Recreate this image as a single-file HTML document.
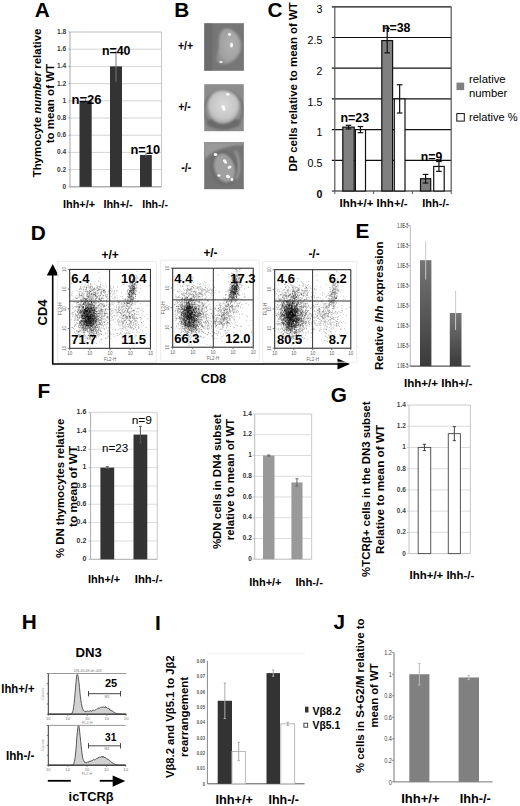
<!DOCTYPE html>
<html><head><meta charset="utf-8"><style>
html,body{margin:0;padding:0;background:#fff;}
svg{display:block;}
text{font-family:"Liberation Sans", sans-serif;}
</style></head><body>
<svg width="520" height="806" viewBox="0 0 520 806" font-family='"Liberation Sans", sans-serif'>
<rect width="520" height="806" fill="#fff"/>
<text x="34.8" y="16.8" font-size="20.8" font-weight="bold" >A</text>
<line x1="70" y1="32.0" x2="161.5" y2="32.0" stroke="#d4d4d4" stroke-width="1.5" />
<line x1="70" y1="49.2" x2="161.5" y2="49.2" stroke="#d4d4d4" stroke-width="1" />
<line x1="70" y1="66.4" x2="161.5" y2="66.4" stroke="#d4d4d4" stroke-width="1" />
<line x1="70" y1="83.60000000000001" x2="161.5" y2="83.60000000000001" stroke="#d4d4d4" stroke-width="1" />
<line x1="70" y1="100.80000000000001" x2="161.5" y2="100.80000000000001" stroke="#d4d4d4" stroke-width="1" />
<line x1="70" y1="118.00000000000001" x2="161.5" y2="118.00000000000001" stroke="#d4d4d4" stroke-width="1" />
<line x1="70" y1="135.20000000000002" x2="161.5" y2="135.20000000000002" stroke="#d4d4d4" stroke-width="1" />
<line x1="70" y1="152.40000000000003" x2="161.5" y2="152.40000000000003" stroke="#d4d4d4" stroke-width="1" />
<line x1="70" y1="169.60000000000002" x2="161.5" y2="169.60000000000002" stroke="#d4d4d4" stroke-width="1" />
<line x1="70" y1="186.8" x2="161.5" y2="186.8" stroke="#d4d4d4" stroke-width="1" />
<line x1="70" y1="32" x2="70" y2="186.8" stroke="#a8a8a8" stroke-width="1" />
<line x1="161.5" y1="32" x2="161.5" y2="186.8" stroke="#c8c8c8" stroke-width="1" />
<line x1="70" y1="186.8" x2="161.5" y2="186.8" stroke="#999" stroke-width="1" />
<text x="66.2" y="34.0" font-size="6.6" font-weight="bold" text-anchor="end" fill="#3a3a3a" >1.8</text>
<line x1="68.5" y1="32.0" x2="70" y2="32.0" stroke="#999" stroke-width="1" />
<text x="66.2" y="51.2" font-size="6.6" font-weight="bold" text-anchor="end" fill="#3a3a3a" >1.6</text>
<line x1="68.5" y1="49.2" x2="70" y2="49.2" stroke="#999" stroke-width="1" />
<text x="66.2" y="68.4" font-size="6.6" font-weight="bold" text-anchor="end" fill="#3a3a3a" >1.4</text>
<line x1="68.5" y1="66.4" x2="70" y2="66.4" stroke="#999" stroke-width="1" />
<text x="66.2" y="85.6" font-size="6.6" font-weight="bold" text-anchor="end" fill="#3a3a3a" >1.2</text>
<line x1="68.5" y1="83.60000000000001" x2="70" y2="83.60000000000001" stroke="#999" stroke-width="1" />
<text x="66.2" y="102.8" font-size="6.6" font-weight="bold" text-anchor="end" fill="#3a3a3a" >1</text>
<line x1="68.5" y1="100.80000000000001" x2="70" y2="100.80000000000001" stroke="#999" stroke-width="1" />
<text x="66.2" y="120.0" font-size="6.6" font-weight="bold" text-anchor="end" fill="#3a3a3a" >0.8</text>
<line x1="68.5" y1="118.00000000000001" x2="70" y2="118.00000000000001" stroke="#999" stroke-width="1" />
<text x="66.2" y="137.2" font-size="6.6" font-weight="bold" text-anchor="end" fill="#3a3a3a" >0.6</text>
<line x1="68.5" y1="135.20000000000002" x2="70" y2="135.20000000000002" stroke="#999" stroke-width="1" />
<text x="66.2" y="154.4" font-size="6.6" font-weight="bold" text-anchor="end" fill="#3a3a3a" >0.4</text>
<line x1="68.5" y1="152.40000000000003" x2="70" y2="152.40000000000003" stroke="#999" stroke-width="1" />
<text x="66.2" y="171.6" font-size="6.6" font-weight="bold" text-anchor="end" fill="#3a3a3a" >0.2</text>
<line x1="68.5" y1="169.60000000000002" x2="70" y2="169.60000000000002" stroke="#999" stroke-width="1" />
<text x="66.2" y="188.8" font-size="6.6" font-weight="bold" text-anchor="end" fill="#3a3a3a" >0</text>
<line x1="68.5" y1="186.8" x2="70" y2="186.8" stroke="#999" stroke-width="1" />
<rect x="79.5" y="100.80000000000001" width="12.200000000000003" height="86.0" fill="#333" />
<line x1="85.6" y1="99.08000000000001" x2="85.6" y2="102.52000000000001" stroke="#777" stroke-width="1" />
<rect x="110" y="66.40000000000002" width="12" height="120.39999999999999" fill="#333" />
<line x1="116.0" y1="50.92000000000002" x2="116.0" y2="81.88000000000002" stroke="#777" stroke-width="1" />
<rect x="140" y="154.98000000000002" width="11.800000000000011" height="31.819999999999993" fill="#333" />
<line x1="145.9" y1="153.26000000000002" x2="145.9" y2="156.70000000000002" stroke="#777" stroke-width="1" />
<text x="71.5" y="103.5" font-size="13.5" font-weight="bold" textLength="30" lengthAdjust="spacingAndGlyphs" >n=26</text>
<text x="102" y="54.5" font-size="13.5" font-weight="bold" textLength="28.5" lengthAdjust="spacingAndGlyphs" >n=40</text>
<text x="130.5" y="153.8" font-size="13.5" font-weight="bold" textLength="29.5" lengthAdjust="spacingAndGlyphs" >n=10</text>
<text x="63.0" y="207.8" font-size="11.6" font-weight="bold" textLength="32.1" lengthAdjust="spacingAndGlyphs" >Ihh+/+</text>
<text x="103.4" y="207.8" font-size="11.6" font-weight="bold" textLength="29.3" lengthAdjust="spacingAndGlyphs" >Ihh+/-</text>
<text x="142.2" y="207.8" font-size="11.6" font-weight="bold" textLength="25.9" lengthAdjust="spacingAndGlyphs" >Ihh-/-</text>
<text transform="translate(40.7,103) rotate(-90)" font-size="11.6" font-weight="bold" text-anchor="middle" textLength="148.7" lengthAdjust="spacingAndGlyphs" >Thymocyte <tspan font-style="italic">number</tspan> relative</text>
<text transform="translate(54.2,103.6) rotate(-90)" font-size="11.6" font-weight="bold" text-anchor="middle" textLength="79.4" lengthAdjust="spacingAndGlyphs" >to mean of WT</text>
<text x="174.2" y="17" font-size="20.8" font-weight="bold" >B</text>
<text x="177.95" y="50.2" font-size="12.5" font-weight="bold" textLength="15.25" lengthAdjust="spacingAndGlyphs" >+/+</text>
<text x="178.2" y="111.2" font-size="12.5" font-weight="bold" textLength="12.6" lengthAdjust="spacingAndGlyphs" >+/-</text>
<text x="181.2" y="172.1" font-size="12.5" font-weight="bold" textLength="10.2" lengthAdjust="spacingAndGlyphs" >-/-</text>
<defs><filter id="bl" x="-20%" y="-20%" width="140%" height="140%"><feGaussianBlur stdDeviation="0.9"/></filter><filter id="bl2" x="-50%" y="-50%" width="200%" height="200%"><feGaussianBlur stdDeviation="0.6"/></filter><radialGradient id="bg1" cx="0.6" cy="0.45" r="0.6"><stop offset="0" stop-color="#b0b0b0"/><stop offset="0.8" stop-color="#a0a0a0"/><stop offset="1" stop-color="#909090"/></radialGradient><radialGradient id="bg2" cx="0.5" cy="0.45" r="0.55"><stop offset="0" stop-color="#dadada"/><stop offset="0.75" stop-color="#c6c6c6"/><stop offset="1" stop-color="#a8a8a8"/></radialGradient><radialGradient id="bg3" cx="0.5" cy="0.5" r="0.55"><stop offset="0" stop-color="#9a9a9a"/><stop offset="1" stop-color="#8a8a8a"/></radialGradient><linearGradient id="eg" x1="0" y1="0" x2="0" y2="1"><stop offset="0" stop-color="#757575"/><stop offset="1" stop-color="#3a3a3a"/></linearGradient></defs>
<defs><clipPath id="cp1"><rect x="204.2" y="23.2" width="39.7" height="47.6"/></clipPath><clipPath id="cp2"><rect x="204.2" y="84.2" width="39.6" height="47"/></clipPath><clipPath id="cp3"><rect x="204.2" y="142.2" width="39.6" height="47"/></clipPath></defs>
<rect x="204.2" y="23.2" width="39.7" height="47.6" fill="#767676" />
<g clip-path="url(#cp1)"><g filter="url(#bl)">
<rect x="204.2" y="23.2" width="8" height="47.6" fill="#6c6c6c" />
<path d="M226 28.5 C 233 28, 241 36, 241 46 C 241 55, 234 62, 226 64 C 220 65.5, 215.5 62, 216.5 57 C 217.5 52, 219.5 48, 219 43 C 218.5 36, 220 29, 226 28.5 Z" fill="url(#bg1)"/>
</g><g filter="url(#bl2)" fill="#f4f4f4">
<ellipse cx="229.5" cy="34.5" rx="1.6" ry="1.4"/><ellipse cx="231.5" cy="45" rx="1.5" ry="2.6"/><ellipse cx="221" cy="62" rx="1.7" ry="1.1"/>
</g></g>
<rect x="204.2" y="84.2" width="39.6" height="47" fill="#8c8c8c" />
<g clip-path="url(#cp2)"><g filter="url(#bl)">
<ellipse cx="223.5" cy="110" rx="19.5" ry="19" fill="none" stroke="#707070" stroke-width="2.2"/>
<ellipse cx="223.5" cy="123" rx="17" ry="6" fill="#6a6a6a"/>
<path d="M223 90.6 C 232 90.6, 239.7 97, 239.5 105 C 239.3 115, 233 123.4, 223 123.4 C 213 123.4, 207.8 115, 207.8 106 C 207.8 96, 214 90.6, 223 90.6 Z" fill="url(#bg2)"/>
</g><g filter="url(#bl2)" fill="#fafafa">
<ellipse cx="227.8" cy="94.4" rx="1.8" ry="1.3"/><ellipse cx="223.5" cy="108" rx="1.7" ry="3" transform="rotate(-20 223.5 108)"/>
</g></g>
<rect x="204.2" y="142.2" width="39.6" height="47" fill="#747474" />
<g clip-path="url(#cp3)"><g filter="url(#bl)">
<path d="M204.2 142.2 L243.8 142.2 L243.8 145 C 230 145, 214 149, 206 158 L204.2 160 Z" fill="#9a9a9a"/>
<ellipse cx="224.5" cy="168" rx="14" ry="18" fill="#6c6c6c" transform="rotate(-18 224.5 168)"/>
<path d="M235 151 C 240 157, 240.5 171, 236 179" stroke="#a8a8a8" stroke-width="1.6" fill="none"/>
<ellipse cx="224.5" cy="168" rx="10" ry="14.5" fill="#a0a0a0" transform="rotate(-18 224.5 168)"/>
</g><g filter="url(#bl2)" fill="#f6f6f6">
<ellipse cx="215.5" cy="154.5" rx="1.8" ry="1.6" transform="rotate(0 215.5 154.5)"/>
<ellipse cx="225" cy="161.5" rx="1.5" ry="2.6" transform="rotate(-40 225 161.5)"/>
<ellipse cx="229.5" cy="167.2" rx="2.1" ry="1.4" transform="rotate(-30 229.5 167.2)"/>
<ellipse cx="219" cy="175.5" rx="1.5" ry="1.2" transform="rotate(0 219 175.5)"/>
<ellipse cx="228" cy="176.5" rx="2.2" ry="1.5" transform="rotate(20 228 176.5)"/>
<ellipse cx="232" cy="179.5" rx="1.4" ry="1.7" transform="rotate(0 232 179.5)"/>
</g></g>
<text x="267.6" y="17" font-size="20.8" font-weight="bold" >C</text>
<line x1="331.8" y1="6.8" x2="451.2" y2="6.8" stroke="#111" stroke-width="1.2" />
<line x1="331.8" y1="37.5" x2="451.2" y2="37.5" stroke="#111" stroke-width="1.2" />
<line x1="331.8" y1="68.2" x2="451.2" y2="68.2" stroke="#111" stroke-width="1.2" />
<line x1="331.8" y1="98.89999999999999" x2="451.2" y2="98.89999999999999" stroke="#111" stroke-width="1.2" />
<line x1="331.8" y1="129.6" x2="451.2" y2="129.6" stroke="#111" stroke-width="1.2" />
<line x1="331.8" y1="160.3" x2="451.2" y2="160.3" stroke="#111" stroke-width="1.2" />
<line x1="331.8" y1="191.0" x2="451.2" y2="191.0" stroke="#111" stroke-width="1.2" />
<line x1="334.8" y1="6.8" x2="334.8" y2="191" stroke="#555" stroke-width="1.2" />
<line x1="451.2" y1="6.8" x2="451.2" y2="191" stroke="#555" stroke-width="1.2" />
<text x="322.3" y="13.399999999999999" font-size="10.6" text-anchor="end" >3</text>
<text x="322.3" y="44.1" font-size="10.6" text-anchor="end" >2.5</text>
<text x="322.3" y="74.8" font-size="10.6" text-anchor="end" >2</text>
<text x="322.3" y="105.49999999999999" font-size="10.6" text-anchor="end" >1.5</text>
<text x="322.3" y="136.2" font-size="10.6" text-anchor="end" >1</text>
<text x="322.3" y="166.9" font-size="10.6" text-anchor="end" >0.5</text>
<text x="322.3" y="197.6" font-size="10.6" font-weight="bold" text-anchor="end" >0</text>
<line x1="334.8" y1="191" x2="334.8" y2="194" stroke="#555" stroke-width="1" />
<line x1="373.6" y1="191" x2="373.6" y2="194" stroke="#555" stroke-width="1" />
<line x1="412.4" y1="191" x2="412.4" y2="194" stroke="#555" stroke-width="1" />
<line x1="451.2" y1="191" x2="451.2" y2="194" stroke="#555" stroke-width="1" />
<rect x="342.8" y="127.144" width="11.399999999999977" height="63.855999999999995" fill="#808080" stroke="#111" stroke-width="1.2" />
<line x1="348.5" y1="125.302" x2="348.5" y2="128.98600000000002" stroke="#111" stroke-width="1.2" />
<line x1="345.7" y1="125.302" x2="351.3" y2="125.302" stroke="#111" stroke-width="1.2" />
<line x1="345.7" y1="128.98600000000002" x2="351.3" y2="128.98600000000002" stroke="#111" stroke-width="1.2" />
<rect x="355.4" y="129.6" width="10.100000000000023" height="61.400000000000006" fill="#fff" stroke="#111" stroke-width="1.2" />
<line x1="360.45" y1="126.53" x2="360.45" y2="132.67" stroke="#111" stroke-width="1.2" />
<line x1="357.65" y1="126.53" x2="363.25" y2="126.53" stroke="#111" stroke-width="1.2" />
<line x1="357.65" y1="132.67" x2="363.25" y2="132.67" stroke="#111" stroke-width="1.2" />
<rect x="381.8" y="40.56999999999999" width="10.800000000000011" height="150.43" fill="#808080" stroke="#111" stroke-width="1.2" />
<line x1="387.20000000000005" y1="28.289999999999992" x2="387.20000000000005" y2="52.849999999999994" stroke="#111" stroke-width="1.2" />
<line x1="384.40000000000003" y1="28.289999999999992" x2="390.00000000000006" y2="28.289999999999992" stroke="#111" stroke-width="1.2" />
<line x1="384.40000000000003" y1="52.849999999999994" x2="390.00000000000006" y2="52.849999999999994" stroke="#111" stroke-width="1.2" />
<rect x="394.3" y="98.9" width="10.699999999999989" height="92.1" fill="#fff" stroke="#111" stroke-width="1.2" />
<line x1="399.65" y1="84.778" x2="399.65" y2="113.022" stroke="#111" stroke-width="1.2" />
<line x1="396.84999999999997" y1="84.778" x2="402.45" y2="84.778" stroke="#111" stroke-width="1.2" />
<line x1="396.84999999999997" y1="113.022" x2="402.45" y2="113.022" stroke="#111" stroke-width="1.2" />
<rect x="420.5" y="178.72" width="10.199999999999989" height="12.280000000000001" fill="#808080" stroke="#111" stroke-width="1.2" />
<line x1="425.6" y1="174.422" x2="425.6" y2="183.018" stroke="#111" stroke-width="1.2" />
<line x1="422.8" y1="174.422" x2="428.40000000000003" y2="174.422" stroke="#111" stroke-width="1.2" />
<line x1="422.8" y1="183.018" x2="428.40000000000003" y2="183.018" stroke="#111" stroke-width="1.2" />
<rect x="433.7" y="166.44" width="10.5" height="24.560000000000002" fill="#fff" stroke="#111" stroke-width="1.2" />
<line x1="438.95" y1="161.528" x2="438.95" y2="171.352" stroke="#111" stroke-width="1.2" />
<line x1="436.15" y1="161.528" x2="441.75" y2="161.528" stroke="#111" stroke-width="1.2" />
<line x1="436.15" y1="171.352" x2="441.75" y2="171.352" stroke="#111" stroke-width="1.2" />
<text x="340.5" y="121.5" font-size="12.8" font-weight="bold" textLength="28.7" lengthAdjust="spacingAndGlyphs" >n=23</text>
<text x="382" y="32" font-size="12.8" font-weight="bold" textLength="28.5" lengthAdjust="spacingAndGlyphs" >n=38</text>
<text x="420.8" y="161" font-size="12.8" font-weight="bold" textLength="21.5" lengthAdjust="spacingAndGlyphs" >n=9</text>
<text x="339.6" y="207.2" font-size="11.6" font-weight="bold" textLength="33.8" lengthAdjust="spacingAndGlyphs" >Ihh+/+</text>
<text x="376.6" y="207.2" font-size="11.6" font-weight="bold" textLength="31.1" lengthAdjust="spacingAndGlyphs" >Ihh+/-</text>
<text x="422.3" y="207.2" font-size="11.6" font-weight="bold" textLength="26.9" lengthAdjust="spacingAndGlyphs" >Ihh-/-</text>
<text transform="translate(297.3,86.9) rotate(-90)" font-size="11.4" font-weight="bold" text-anchor="middle" textLength="169.4" lengthAdjust="spacingAndGlyphs" >DP cells relative to mean of WT</text>
<rect x="456.5" y="82.6" width="7.7" height="7.5" fill="#808080" />
<text x="469" y="83.3" font-size="11.4" textLength="36.7" lengthAdjust="spacingAndGlyphs" >relative</text>
<text x="469" y="97" font-size="11.4" textLength="38.3" lengthAdjust="spacingAndGlyphs" >number</text>
<rect x="456.8" y="113.6" width="7.5" height="7.5" fill="#fff" stroke="#111" stroke-width="1" />
<text x="469" y="121.3" font-size="11.4" textLength="48.7" lengthAdjust="spacingAndGlyphs" >relative %</text>
<text x="30.8" y="240.4" font-size="20.8" font-weight="bold" >D</text>
<line x1="52.7" y1="273" x2="52.7" y2="364" stroke="#000" stroke-width="1.6" />
<path d="M52.7 264 L58.6 275.5 L46.8 275.5 Z" fill="#000"/>
<line x1="52" y1="364" x2="340" y2="364" stroke="#000" stroke-width="1.6" />
<path d="M350 364 L337.5 358.6 L337.5 369.4 Z" fill="#000"/>
<text transform="translate(46.7,312.5) rotate(-90)" font-size="13" font-weight="bold" text-anchor="middle" >CD4</text>
<text x="200.8" y="382.6" font-size="13" font-weight="bold" textLength="25.3" lengthAdjust="spacingAndGlyphs" >CD8</text>
<rect x="57.7" y="261.4" width="98.7" height="100.90000000000003" fill="none" stroke="#ececec" stroke-width="1" />
<path d="M86.3 321.1h.9M86.5 314.1h.9M83.3 314.4h.9M92.5 321.5h.9M92.2 320.0h.9M89.3 318.9h.9M80.0 322.8h.9M89.8 321.6h.9M79.9 300.8h.9M83.5 312.3h.9M88.9 316.9h.9M89.8 312.0h.9M88.9 320.6h.9M84.5 331.0h.9M90.0 327.6h.9M84.7 310.2h.9M86.0 315.8h.9M90.3 319.6h.9M85.5 308.5h.9M85.2 326.9h.9M83.9 318.4h.9M89.4 304.8h.9M87.7 328.1h.9M78.4 312.6h.9M87.0 310.0h.9M89.7 316.9h.9M80.9 322.8h.9M90.5 325.6h.9M94.0 321.3h.9M88.0 306.1h.9M90.3 312.3h.9M85.5 305.9h.9M83.1 311.7h.9M93.3 300.9h.9M80.9 317.8h.9M94.0 323.1h.9M79.0 294.1h.9M89.1 311.1h.9M82.5 324.3h.9M92.5 319.3h.9M88.6 320.9h.9M94.7 323.6h.9M89.8 322.1h.9M80.4 326.5h.9M91.8 322.3h.9M78.6 310.0h.9M91.3 302.4h.9M86.7 325.5h.9M81.6 329.5h.9M90.0 316.2h.9M89.0 322.8h.9M88.0 326.8h.9M84.5 312.9h.9M92.2 318.1h.9M83.5 324.3h.9M94.1 314.5h.9M81.3 314.7h.9M86.8 314.4h.9M93.8 309.5h.9M93.2 307.3h.9M84.0 321.7h.9M92.6 325.2h.9M89.1 318.5h.9M88.2 322.0h.9M86.7 319.2h.9M90.1 317.5h.9M90.9 322.4h.9M96.5 321.5h.9M85.6 313.5h.9M87.4 324.8h.9M86.0 320.0h.9M95.8 296.9h.9M82.4 318.1h.9M89.3 319.4h.9M85.6 322.2h.9M88.8 312.8h.9M98.4 322.1h.9M85.0 315.7h.9M86.5 316.3h.9M75.2 310.6h.9M92.0 308.0h.9M87.2 325.0h.9M91.4 330.3h.9M79.8 312.6h.9M86.0 322.0h.9M92.4 295.2h.9M92.4 305.7h.9M90.6 305.0h.9M88.3 327.3h.9M86.8 318.5h.9M91.1 318.9h.9M87.1 329.9h.9M92.2 315.4h.9M99.9 309.6h.9M91.6 315.5h.9M88.1 323.1h.9M88.5 322.6h.9M80.6 302.9h.9M90.3 309.4h.9M82.9 303.7h.9M93.2 324.4h.9M94.1 310.3h.9M87.5 307.4h.9M90.9 331.1h.9M83.5 329.4h.9M91.9 316.3h.9M78.6 327.2h.9M87.1 311.8h.9M89.3 320.8h.9M94.2 309.6h.9M92.6 330.5h.9M94.0 316.7h.9M84.2 325.0h.9M88.0 318.1h.9M93.9 316.0h.9M77.2 311.8h.9M79.2 322.3h.9M88.9 312.1h.9M87.5 324.0h.9M87.9 328.3h.9M87.2 325.7h.9M94.2 331.9h.9M84.5 323.9h.9M79.1 306.2h.9M78.7 324.4h.9M82.0 315.8h.9M86.6 316.6h.9M84.8 318.5h.9M95.6 318.9h.9M89.9 325.9h.9M86.6 306.2h.9M85.0 325.6h.9M80.1 310.5h.9M92.0 324.6h.9M87.5 323.8h.9M88.2 307.2h.9M80.5 310.3h.9M91.7 313.0h.9M83.4 309.7h.9M80.6 314.7h.9M82.2 319.1h.9M76.9 317.8h.9M84.6 300.0h.9M90.8 315.3h.9M77.5 307.7h.9M88.8 313.4h.9M91.0 324.0h.9M90.5 320.3h.9M93.5 323.7h.9M89.5 299.8h.9M91.5 328.8h.9M86.2 312.8h.9M96.2 303.8h.9M89.6 337.9h.9M83.3 322.0h.9M96.0 317.6h.9M90.0 325.1h.9M83.4 315.5h.9M88.8 324.2h.9M87.3 315.3h.9M82.9 313.1h.9M91.5 318.6h.9M83.7 309.2h.9M99.5 328.9h.9M90.4 295.6h.9M90.3 321.6h.9M95.1 322.0h.9M87.2 321.4h.9M78.8 324.1h.9M89.0 311.3h.9M93.5 333.4h.9M81.2 310.2h.9M88.8 318.8h.9M85.7 308.4h.9M97.0 327.6h.9M82.1 304.6h.9M95.2 326.8h.9M95.7 325.4h.9M83.6 318.5h.9M77.8 308.8h.9M87.2 321.4h.9M84.2 315.3h.9M89.6 320.6h.9M90.4 319.3h.9M86.0 323.4h.9M87.7 310.1h.9M84.7 316.5h.9M87.0 318.2h.9M87.5 318.5h.9M86.9 306.2h.9M89.4 326.3h.9M89.5 315.8h.9M89.5 309.2h.9M79.0 315.9h.9M83.3 322.5h.9M82.6 293.8h.9M82.8 329.5h.9M85.8 305.1h.9M84.1 320.8h.9M89.7 318.9h.9M94.2 324.2h.9M87.4 322.0h.9M94.9 326.6h.9M92.1 308.7h.9M86.8 323.0h.9M86.2 325.8h.9M90.2 325.2h.9M86.5 338.4h.9M93.1 316.2h.9M87.9 339.0h.9M86.0 324.1h.9M91.9 317.9h.9M82.2 317.6h.9M89.1 326.9h.9M91.0 317.9h.9M91.3 322.3h.9M88.4 317.6h.9M86.4 322.6h.9M82.8 310.8h.9M87.5 304.6h.9M85.5 299.6h.9M84.4 321.2h.9M90.0 317.0h.9M86.5 304.8h.9M95.7 322.9h.9M92.4 310.5h.9M86.7 301.5h.9M91.0 325.6h.9M79.0 314.9h.9M90.3 302.6h.9M79.3 306.4h.9M84.7 304.6h.9M87.6 319.1h.9M90.4 323.5h.9M94.3 328.1h.9M81.6 311.6h.9M82.7 307.0h.9M87.1 317.0h.9M89.7 304.0h.9M81.9 315.8h.9M86.6 314.2h.9M87.2 310.5h.9M90.7 320.6h.9M87.1 311.2h.9M86.7 293.8h.9M83.1 316.5h.9M80.7 317.4h.9M88.2 305.5h.9M86.4 314.1h.9M89.6 322.6h.9M87.3 309.8h.9M86.9 316.3h.9M90.8 320.1h.9M84.2 304.9h.9M85.8 310.4h.9M82.5 315.1h.9M85.3 317.5h.9M89.9 314.0h.9M98.0 316.3h.9M92.5 319.0h.9M92.5 297.9h.9M84.1 318.5h.9M90.2 337.3h.9M89.0 328.1h.9M90.9 325.7h.9M89.8 316.1h.9M89.8 308.3h.9M92.8 309.4h.9M88.6 335.1h.9M86.5 317.0h.9M92.7 318.2h.9M83.9 318.5h.9M90.1 323.5h.9M84.0 331.2h.9M95.0 318.6h.9M88.7 313.6h.9M93.9 312.2h.9M90.5 313.5h.9M84.4 322.5h.9M93.5 318.0h.9M84.5 323.3h.9M87.3 319.6h.9M94.4 327.9h.9M85.2 335.9h.9M87.5 323.7h.9M84.6 316.1h.9M79.6 330.6h.9M93.6 307.9h.9M80.7 302.0h.9M92.8 314.1h.9M87.2 314.3h.9M87.0 307.7h.9M87.6 304.9h.9M87.2 319.6h.9M89.6 315.4h.9M83.4 317.6h.9M85.3 329.8h.9M91.0 316.7h.9M85.4 310.7h.9M83.3 313.2h.9M88.8 321.6h.9M90.1 335.2h.9M84.3 316.5h.9M100.1 303.6h.9M85.2 318.0h.9M88.2 320.6h.9M86.4 319.9h.9M87.7 323.6h.9M79.0 307.9h.9M87.5 308.3h.9M82.8 321.4h.9M84.6 321.8h.9M90.9 320.2h.9M89.8 316.5h.9M81.2 315.5h.9M89.5 312.9h.9M87.1 323.3h.9M83.5 321.7h.9M95.9 313.9h.9M88.2 315.9h.9M94.4 321.0h.9M91.5 311.9h.9M87.4 316.9h.9M79.5 327.7h.9M91.5 303.0h.9M90.8 316.5h.9M89.5 320.5h.9M80.8 313.9h.9M94.2 313.4h.9M82.9 304.6h.9M82.0 318.8h.9M95.1 322.1h.9M88.6 336.1h.9M85.2 310.9h.9M89.9 322.1h.9M82.9 306.2h.9M88.8 319.3h.9M81.6 314.2h.9M85.1 320.4h.9M87.0 316.2h.9M85.9 325.6h.9M93.8 315.1h.9M91.3 311.3h.9M87.8 323.4h.9M94.3 315.1h.9M87.2 318.6h.9M80.8 315.9h.9M84.5 319.6h.9M82.4 299.3h.9M87.7 319.2h.9M85.0 324.1h.9M86.3 311.6h.9M89.6 304.1h.9M84.5 316.2h.9M91.3 316.3h.9M88.9 311.7h.9M88.9 331.3h.9M84.4 336.4h.9M84.6 316.6h.9M88.3 325.8h.9M81.9 298.2h.9M90.2 324.2h.9M90.3 339.8h.9M88.4 319.3h.9M91.7 320.9h.9M95.0 307.9h.9M85.8 287.5h.9M91.2 314.5h.9M91.7 336.0h.9M87.5 314.8h.9M85.3 309.5h.9M84.7 321.9h.9M87.7 317.6h.9M86.7 324.6h.9M89.7 316.2h.9M90.5 316.3h.9M82.3 328.3h.9M89.6 309.3h.9M92.4 320.8h.9M80.5 329.3h.9M89.0 324.8h.9M88.4 315.9h.9M80.5 323.9h.9M87.6 314.6h.9M89.1 318.0h.9M90.5 314.4h.9M87.3 298.9h.9M85.6 322.4h.9M93.5 315.1h.9M87.0 330.3h.9M86.0 322.9h.9M95.1 318.8h.9M93.0 312.0h.9M88.4 316.5h.9M88.0 326.7h.9M98.3 313.4h.9M84.9 320.7h.9M82.8 320.3h.9M90.1 315.1h.9M89.9 304.3h.9M90.9 304.6h.9M84.4 311.7h.9M85.7 323.9h.9M87.9 313.7h.9M89.9 330.8h.9M87.5 320.1h.9M93.1 320.3h.9M81.7 337.0h.9M97.4 302.1h.9M87.3 320.5h.9M91.8 323.5h.9M86.3 307.9h.9M88.0 325.8h.9M82.6 307.4h.9M87.4 300.6h.9M86.3 313.1h.9M89.5 311.4h.9M83.5 312.9h.9M87.3 311.3h.9M87.6 323.4h.9M92.8 332.4h.9M84.0 312.8h.9M76.3 331.0h.9M84.2 316.1h.9M89.9 306.0h.9M89.6 317.2h.9M79.3 317.9h.9M92.9 302.2h.9M91.1 319.5h.9M89.6 321.1h.9M93.4 316.2h.9M91.4 314.3h.9M90.8 310.7h.9M87.0 331.5h.9M89.5 316.0h.9M82.3 309.3h.9M88.4 325.1h.9M89.4 321.8h.9M87.3 328.4h.9M85.7 312.0h.9M91.5 318.3h.9M86.2 311.9h.9M86.3 322.1h.9M89.1 307.1h.9M89.4 318.9h.9M83.0 322.7h.9M86.2 313.9h.9M91.1 328.8h.9M84.4 320.1h.9M83.6 335.8h.9M85.3 326.7h.9M84.6 323.3h.9M97.5 297.4h.9M85.5 320.9h.9M87.1 311.3h.9M97.2 319.5h.9M80.1 322.8h.9M79.8 325.3h.9M84.9 317.7h.9M93.2 319.1h.9M81.2 301.5h.9M92.8 324.3h.9M83.8 323.6h.9M89.7 322.9h.9M77.3 312.5h.9M91.6 324.0h.9M91.5 297.0h.9M88.3 321.3h.9M99.0 311.1h.9M86.0 317.0h.9M91.5 314.0h.9M92.7 311.3h.9M88.7 312.8h.9M88.2 311.3h.9M80.3 324.9h.9M88.9 312.5h.9M88.4 325.5h.9M83.1 315.2h.9M89.9 321.9h.9M86.0 298.9h.9M93.1 320.8h.9M87.6 314.7h.9M88.7 313.6h.9M82.9 309.9h.9M84.8 311.3h.9M82.3 321.4h.9M81.6 321.5h.9M82.9 319.1h.9M93.7 319.9h.9M84.2 316.8h.9M88.2 302.5h.9M84.8 317.9h.9M85.4 317.3h.9M90.8 324.1h.9M91.6 322.7h.9M86.2 316.6h.9M86.3 314.1h.9M86.7 302.3h.9M86.0 316.5h.9M83.1 316.0h.9M89.8 316.0h.9M96.8 296.7h.9M86.6 301.4h.9M91.9 340.3h.9M76.2 316.0h.9M89.8 314.9h.9M90.0 298.5h.9M91.3 320.9h.9M87.6 312.0h.9M90.4 313.4h.9M88.5 312.9h.9M77.4 314.8h.9M88.4 323.6h.9M83.6 316.0h.9M90.3 318.8h.9M93.1 334.9h.9M83.4 300.0h.9M91.4 330.7h.9M91.7 324.7h.9M84.7 310.4h.9M91.5 310.0h.9M79.3 307.0h.9M98.7 335.4h.9M84.4 310.3h.9M88.5 310.9h.9M93.4 317.5h.9M82.6 327.1h.9M84.9 318.4h.9M87.4 314.3h.9M89.0 311.4h.9M79.2 296.8h.9M81.8 309.5h.9M87.4 317.4h.9M90.0 318.5h.9M83.9 310.3h.9M78.0 313.8h.9M89.7 321.9h.9M87.0 315.4h.9M91.7 317.9h.9M90.8 322.6h.9M88.5 328.2h.9M84.9 313.5h.9M83.9 309.6h.9M94.5 333.2h.9M87.6 321.8h.9M92.8 324.8h.9M92.9 307.3h.9M84.6 320.3h.9M94.0 319.1h.9M83.6 313.3h.9M84.5 309.2h.9M94.3 313.0h.9M87.6 335.3h.9M92.8 320.8h.9M84.7 319.9h.9M94.8 323.6h.9M93.2 318.9h.9M89.8 315.7h.9M89.4 328.4h.9M81.1 315.3h.9M88.6 312.4h.9M86.1 323.4h.9M96.5 324.0h.9M89.0 304.2h.9M96.2 319.3h.9M87.3 307.5h.9M87.2 307.7h.9M87.8 321.0h.9M87.6 319.4h.9M83.7 328.4h.9M84.6 301.1h.9M86.7 310.4h.9M83.0 313.1h.9M88.8 307.3h.9M86.9 328.9h.9M90.6 316.3h.9M88.1 316.1h.9M87.3 323.2h.9M87.1 296.6h.9M87.4 309.5h.9M90.4 312.4h.9M88.2 335.5h.9M82.8 306.6h.9M81.1 295.5h.9M79.0 318.5h.9M84.6 300.7h.9M80.8 321.0h.9M84.0 313.2h.9M89.0 328.8h.9M96.2 327.4h.9M88.1 318.7h.9M95.6 330.6h.9M86.1 320.6h.9M88.8 317.7h.9M85.2 305.4h.9M85.1 303.5h.9M93.0 322.6h.9M82.1 327.8h.9M91.5 301.6h.9M95.8 325.4h.9M96.8 308.3h.9M89.9 321.0h.9M88.4 318.6h.9M92.2 305.3h.9M81.9 304.2h.9M85.0 311.4h.9M89.2 319.6h.9M87.6 311.3h.9M85.5 324.7h.9M90.9 318.5h.9M86.0 329.9h.9M84.8 322.0h.9M92.7 315.7h.9M91.2 308.3h.9M92.1 319.5h.9M80.4 321.3h.9M83.5 327.1h.9M84.4 315.0h.9M88.8 314.4h.9M88.7 312.5h.9M90.5 317.6h.9M88.4 293.9h.9M92.7 318.3h.9M79.5 316.3h.9M89.6 326.5h.9M82.6 329.2h.9M86.8 337.1h.9M86.8 322.6h.9M85.9 307.3h.9M92.4 325.6h.9M94.4 325.6h.9M84.9 302.5h.9M84.6 310.7h.9M83.8 321.2h.9M89.0 315.0h.9M88.3 315.9h.9M88.5 323.5h.9M91.8 312.0h.9M80.7 327.8h.9M88.0 326.4h.9M80.1 312.8h.9M87.6 304.8h.9M85.2 322.7h.9M92.4 331.4h.9M83.6 304.4h.9M89.8 325.4h.9M88.4 306.2h.9M91.0 324.4h.9M90.0 313.4h.9M88.9 323.9h.9M85.0 300.9h.9M89.0 321.3h.9M87.6 324.5h.9M84.9 315.8h.9M86.1 321.6h.9M94.7 316.2h.9M96.7 331.7h.9M91.1 322.6h.9M95.5 317.0h.9M87.0 307.9h.9M89.6 328.8h.9M89.9 321.0h.9M86.6 318.3h.9M81.1 324.7h.9M85.7 307.3h.9M84.1 309.4h.9M91.3 326.7h.9M81.4 323.7h.9M91.5 312.9h.9M80.8 309.4h.9M84.6 319.4h.9M85.9 299.5h.9M88.6 304.2h.9M91.6 307.6h.9M84.4 309.2h.9M85.1 327.5h.9M91.3 322.8h.9M88.9 304.2h.9M85.2 311.9h.9M83.1 320.5h.9M84.2 310.4h.9M82.8 298.7h.9M90.2 328.8h.9M88.3 308.9h.9M75.3 316.2h.9M93.0 320.5h.9M91.7 330.3h.9M92.6 314.2h.9M92.2 324.5h.9M80.6 312.3h.9M81.1 314.9h.9M90.1 308.5h.9M78.2 326.2h.9M89.2 329.8h.9M81.5 324.8h.9M96.8 335.7h.9M86.6 319.1h.9M86.8 325.3h.9M92.2 318.6h.9M81.4 322.1h.9M85.4 321.9h.9M88.7 331.0h.9M92.6 314.2h.9M89.1 332.2h.9M85.1 320.2h.9M92.9 328.6h.9M89.8 306.3h.9M81.8 318.0h.9M89.2 338.9h.9M83.6 325.9h.9M91.0 303.5h.9M83.8 317.7h.9M85.3 315.3h.9M89.6 310.6h.9M89.6 312.0h.9M85.0 321.1h.9M84.9 318.9h.9M94.7 318.6h.9M86.8 323.1h.9M85.9 325.8h.9M81.7 321.1h.9M85.2 309.8h.9M95.5 311.3h.9M95.4 324.1h.9M94.0 310.0h.9M92.9 330.3h.9M87.0 315.8h.9M98.6 320.6h.9M85.6 311.3h.9M89.5 320.2h.9M88.3 331.7h.9M86.0 320.7h.9M94.1 309.7h.9M92.2 333.4h.9M81.4 306.6h.9M82.8 300.5h.9M89.5 301.7h.9M89.7 329.7h.9M80.2 313.0h.9M78.9 322.0h.9M84.2 314.1h.9M87.7 321.7h.9M85.9 316.8h.9M85.0 317.5h.9M82.2 316.5h.9M78.8 311.2h.9M96.1 319.3h.9M81.8 318.1h.9M83.1 302.2h.9M84.2 322.6h.9M89.2 316.5h.9M83.3 307.1h.9M93.6 320.2h.9M83.2 298.3h.9M81.3 336.8h.9M82.3 315.4h.9M88.4 315.8h.9M86.2 305.1h.9M82.8 330.4h.9M84.1 323.5h.9M79.9 313.2h.9M88.7 326.0h.9M82.4 321.1h.9M89.2 311.1h.9M89.6 309.8h.9M83.9 316.2h.9M75.3 313.8h.9M83.0 303.8h.9M85.6 323.1h.9M85.7 327.4h.9M82.3 304.9h.9M94.5 321.7h.9M91.8 310.8h.9M91.1 319.9h.9M90.4 317.8h.9M92.9 312.5h.9M83.2 303.7h.9M92.7 311.7h.9M82.8 308.2h.9M85.5 305.9h.9M86.2 311.4h.9M85.0 308.4h.9M87.7 313.1h.9M88.0 319.2h.9M89.0 298.8h.9M85.1 309.8h.9M91.0 304.3h.9M84.3 313.9h.9M86.0 325.1h.9M85.5 324.8h.9M80.9 300.4h.9M93.0 321.7h.9M89.7 318.5h.9M89.7 307.1h.9M91.8 313.3h.9M91.9 318.6h.9M78.6 304.4h.9M92.6 316.8h.9M85.7 318.7h.9M85.6 312.0h.9M88.0 318.3h.9M94.3 318.7h.9M96.0 333.8h.9M95.2 327.4h.9M88.1 318.3h.9M86.9 310.7h.9M87.2 311.5h.9M94.9 322.9h.9M85.5 300.4h.9M87.3 313.4h.9M82.6 306.5h.9M77.4 319.9h.9M87.2 338.8h.9M87.4 315.7h.9M94.0 319.4h.9M88.3 314.0h.9M84.8 329.2h.9M92.0 332.4h.9M85.9 317.0h.9M83.5 324.4h.9M81.2 320.6h.9M92.4 329.9h.9M83.3 325.4h.9M84.3 310.0h.9M81.5 325.6h.9M94.9 313.4h.9M84.1 313.5h.9M98.8 327.6h.9M85.1 301.4h.9M84.5 326.5h.9M95.9 316.3h.9M84.4 312.1h.9M79.0 323.1h.9M82.6 325.1h.9M79.8 304.8h.9M88.8 310.8h.9M91.0 317.7h.9M82.2 321.3h.9M91.3 301.5h.9M95.7 322.8h.9M90.9 301.9h.9M84.3 313.4h.9M92.3 305.6h.9M83.5 299.1h.9M86.4 319.7h.9M79.9 310.6h.9M89.8 330.8h.9M90.5 315.0h.9M82.2 308.1h.9M84.5 317.7h.9M87.3 331.1h.9M88.8 308.2h.9M94.4 326.3h.9M88.0 311.0h.9M79.1 306.8h.9M91.6 311.0h.9M81.6 317.5h.9M88.6 322.3h.9M90.4 329.5h.9M83.7 324.6h.9M83.1 322.0h.9M88.3 319.2h.9M91.9 317.7h.9M92.5 325.3h.9M88.1 312.3h.9M84.1 311.9h.9M86.6 316.6h.9M100.9 324.9h.9M91.0 310.4h.9M84.3 313.7h.9M88.4 308.4h.9M94.8 313.6h.9M92.4 298.2h.9M87.5 319.3h.9M88.4 322.3h.9M88.8 318.6h.9M79.0 309.4h.9M77.0 320.3h.9M88.9 315.6h.9M83.8 311.4h.9M95.8 333.2h.9M87.2 327.8h.9M80.4 299.3h.9M85.3 309.2h.9M85.0 318.1h.9M101.1 314.0h.9M87.7 319.4h.9M87.3 324.8h.9M95.5 308.0h.9M88.2 314.9h.9M89.1 304.3h.9M79.6 295.9h.9M89.9 319.1h.9M87.8 297.0h.9M85.8 310.3h.9M81.1 308.1h.9M90.6 322.2h.9M87.4 321.3h.9M84.8 317.1h.9M87.7 321.7h.9M87.2 315.7h.9M86.9 311.4h.9M97.6 323.2h.9M89.4 336.7h.9M93.8 305.0h.9M90.6 324.7h.9M96.0 329.7h.9M91.0 307.7h.9M83.6 318.5h.9M89.8 308.8h.9M85.8 313.3h.9M87.8 319.9h.9M86.2 306.3h.9M93.1 331.6h.9M87.0 325.6h.9M89.5 323.0h.9M89.7 311.0h.9M90.1 326.0h.9M83.5 332.9h.9M96.9 334.2h.9M96.5 325.0h.9M86.0 311.6h.9M83.8 317.3h.9M87.4 322.6h.9M78.4 334.8h.9M97.7 318.7h.9M90.5 321.6h.9M88.7 315.5h.9M86.9 309.9h.9M88.3 316.9h.9M88.9 310.0h.9M87.7 317.4h.9M90.2 308.5h.9M89.4 325.7h.9M90.2 314.4h.9M85.3 314.6h.9M90.8 330.8h.9M86.8 311.4h.9M89.2 319.0h.9M83.4 310.0h.9M87.0 322.6h.9M82.1 307.4h.9M89.7 307.1h.9M88.0 320.1h.9M87.0 308.3h.9M87.2 314.1h.9M89.0 310.2h.9M92.4 303.8h.9M86.7 316.9h.9M91.8 312.7h.9M90.0 312.7h.9M90.8 332.3h.9M85.7 320.4h.9M83.3 324.4h.9M92.9 318.3h.9M82.4 319.4h.9M92.7 327.2h.9M91.2 302.2h.9M84.4 328.4h.9M82.0 325.5h.9M96.0 325.0h.9M92.5 315.1h.9M82.0 315.1h.9M86.6 316.4h.9M90.6 316.4h.9M88.4 320.7h.9M87.5 332.6h.9M89.5 318.1h.9M86.6 311.5h.9M93.5 319.4h.9M82.6 311.3h.9M86.9 313.1h.9M92.4 308.1h.9M89.7 318.6h.9M82.2 316.4h.9M87.1 321.2h.9M85.5 319.2h.9M80.0 306.4h.9M91.0 326.5h.9M87.4 311.9h.9M92.4 300.2h.9M83.9 322.0h.9M90.4 308.8h.9M79.0 327.7h.9M88.2 309.6h.9M87.7 324.7h.9M75.8 324.2h.9M90.8 300.0h.9M91.0 302.6h.9M92.6 321.3h.9M97.6 313.7h.9M87.5 325.9h.9M84.6 310.5h.9M85.8 316.1h.9M82.6 320.2h.9M89.9 318.1h.9M95.2 315.7h.9M93.4 313.5h.9M90.9 301.3h.9M88.4 315.7h.9M85.3 311.4h.9M85.9 310.6h.9M77.6 310.1h.9M85.0 312.1h.9M82.7 315.0h.9M91.0 315.6h.9M85.3 328.1h.9M91.9 325.6h.9M92.7 315.2h.9M86.9 326.3h.9M85.0 315.5h.9M89.2 320.5h.9M86.3 325.1h.9M86.7 323.0h.9M92.3 323.5h.9M90.8 307.8h.9M81.6 310.7h.9M89.6 330.1h.9M82.0 318.6h.9M83.7 310.1h.9M86.3 322.6h.9M88.5 327.2h.9M83.1 323.7h.9M91.7 318.4h.9M89.6 312.6h.9M82.6 312.6h.9M84.6 340.9h.9M85.3 330.5h.9M88.4 319.8h.9M90.8 311.0h.9M91.6 321.0h.9M80.7 320.8h.9M90.0 321.3h.9M94.6 314.8h.9M89.8 323.8h.9M83.4 326.4h.9M81.0 304.8h.9M89.9 308.2h.9M87.0 303.0h.9M87.8 307.5h.9M89.0 304.3h.9M89.5 315.1h.9M87.8 316.5h.9M88.1 305.9h.9M76.0 315.1h.9M83.3 312.4h.9M89.4 300.6h.9M84.1 311.2h.9M82.7 318.9h.9M86.9 309.9h.9M83.1 323.0h.9M84.5 321.4h.9M89.5 301.4h.9M82.6 316.1h.9M89.0 323.9h.9M91.1 326.4h.9M85.8 314.9h.9M91.0 314.1h.9M92.3 304.5h.9M90.4 316.1h.9M78.6 323.6h.9M88.9 317.4h.9M82.7 312.1h.9M94.3 311.3h.9M71.9 306.8h.9M82.1 314.9h.9M85.7 308.9h.9M83.7 325.1h.9M81.0 332.3h.9M85.1 307.3h.9M91.0 322.4h.9M82.8 322.4h.9M79.2 307.6h.9M92.6 315.8h.9M81.6 320.2h.9M91.6 317.6h.9M79.4 312.5h.9M89.4 323.9h.9M95.8 316.4h.9M85.3 316.3h.9M92.9 310.1h.9M93.4 294.9h.9M91.1 312.0h.9M89.6 323.2h.9M82.2 315.3h.9M88.6 322.2h.9M83.3 307.8h.9M78.8 336.8h.9M86.6 315.0h.9M80.8 323.6h.9M85.1 328.7h.9M91.3 317.9h.9M90.8 308.2h.9M86.0 311.9h.9M81.8 316.1h.9M86.8 329.0h.9M72.4 308.5h.9M83.4 312.3h.9M89.4 320.8h.9M87.6 313.0h.9M89.7 320.5h.9M79.2 313.2h.9M81.3 305.8h.9M88.2 317.6h.9M88.0 309.7h.9M86.6 309.1h.9M89.2 323.1h.9M95.4 329.2h.9M83.9 312.4h.9M83.3 318.8h.9M96.4 324.7h.9M77.6 304.5h.9M81.7 320.3h.9M87.5 319.5h.9M95.5 311.5h.9M83.7 332.9h.9M89.0 310.7h.9M78.4 302.4h.9M76.5 315.5h.9M87.7 325.4h.9M86.9 311.0h.9M84.2 332.4h.9M79.6 317.0h.9M87.6 322.2h.9M85.7 320.9h.9M91.2 316.4h.9M85.4 315.0h.9M83.2 314.4h.9M86.1 318.5h.9M93.5 329.2h.9M85.5 321.7h.9M88.8 323.7h.9M87.6 319.3h.9M85.4 310.0h.9M91.4 328.7h.9M90.5 321.2h.9M88.7 313.4h.9M79.5 321.1h.9M88.4 312.5h.9M83.2 327.0h.9M79.4 330.4h.9M90.4 337.6h.9M84.3 316.2h.9M85.2 317.9h.9M86.6 310.5h.9M92.3 311.3h.9M85.2 321.3h.9M85.1 312.9h.9M89.1 314.2h.9M81.9 315.1h.9M86.5 331.2h.9M82.6 324.3h.9M84.0 313.3h.9M86.0 319.0h.9M91.4 332.5h.9M84.6 327.7h.9M92.0 324.7h.9M84.1 324.0h.9M87.0 319.9h.9M86.3 322.4h.9M92.5 327.5h.9M86.6 325.2h.9M94.0 310.3h.9M94.1 307.0h.9M89.9 322.5h.9M94.2 320.6h.9M85.3 309.9h.9M81.9 322.4h.9M86.4 310.7h.9M89.9 311.0h.9M85.5 312.8h.9M94.9 330.8h.9M86.8 303.6h.9M88.7 317.8h.9M89.1 322.1h.9M86.1 324.6h.9M91.3 319.5h.9M85.7 312.6h.9M90.6 308.3h.9M86.8 310.5h.9M81.2 320.9h.9M87.4 317.3h.9M91.4 305.1h.9M87.2 319.4h.9M91.2 308.5h.9M90.7 319.5h.9M93.6 327.8h.9M90.0 335.6h.9M87.5 313.4h.9M86.0 308.8h.9M87.4 301.1h.9M87.1 320.5h.9M92.0 314.9h.9M93.7 312.7h.9M86.9 301.0h.9M84.1 309.7h.9M94.1 322.6h.9M82.6 320.5h.9M89.6 315.5h.9M87.6 314.5h.9M85.1 301.9h.9M87.1 327.5h.9M93.8 315.9h.9M84.2 314.6h.9M91.4 320.6h.9M84.9 319.5h.9M86.6 321.1h.9M85.7 304.5h.9M87.8 323.3h.9M82.6 315.2h.9M91.4 314.6h.9M84.6 333.2h.9M91.1 326.2h.9M83.4 329.7h.9M80.2 311.4h.9M90.7 328.6h.9M83.4 310.8h.9M88.4 301.3h.9M90.3 322.1h.9M85.5 321.1h.9M90.9 320.2h.9M89.8 329.9h.9M85.4 317.9h.9M85.2 325.1h.9M85.7 320.6h.9M88.1 317.7h.9M95.0 317.7h.9M93.7 324.9h.9M93.3 316.7h.9M91.5 324.0h.9M84.8 318.7h.9M86.9 316.6h.9M93.2 312.2h.9M80.2 301.4h.9M85.5 311.4h.9M87.6 321.6h.9M95.1 321.0h.9M89.5 311.4h.9M90.0 328.6h.9M93.3 302.2h.9M91.4 330.6h.9M91.1 305.5h.9M86.2 321.5h.9M89.3 310.7h.9M83.6 324.1h.9M81.7 327.6h.9M87.6 319.5h.9M81.7 311.1h.9M90.5 305.6h.9M96.5 307.3h.9M82.2 316.4h.9M89.6 323.4h.9M85.9 315.0h.9M86.5 312.1h.9M76.3 322.7h.9M88.6 318.5h.9M84.8 318.5h.9M87.4 316.4h.9M92.3 303.9h.9M88.6 308.5h.9M86.1 328.9h.9M82.8 315.3h.9M84.9 324.2h.9M83.3 302.5h.9M89.7 314.5h.9M86.1 325.5h.9M83.7 313.2h.9M88.1 320.5h.9M85.3 325.0h.9M97.2 315.5h.9M95.6 301.4h.9M93.6 315.4h.9M88.1 314.4h.9M84.7 306.1h.9M85.8 327.2h.9M92.4 315.1h.9M85.2 310.9h.9M82.3 330.7h.9M90.4 318.5h.9M85.4 308.3h.9M93.2 324.4h.9M83.4 324.3h.9M82.7 321.3h.9M83.3 312.9h.9M89.6 320.9h.9M91.9 311.0h.9M94.3 329.2h.9M87.5 320.8h.9M84.1 315.1h.9M81.8 316.6h.9M88.4 328.1h.9M91.6 324.4h.9M85.9 314.9h.9M86.0 318.5h.9M79.2 321.7h.9M80.7 311.5h.9M87.6 312.8h.9M94.7 317.6h.9M94.3 327.8h.9M85.4 319.8h.9M93.1 315.4h.9M87.9 312.5h.9M87.8 314.2h.9M87.9 325.2h.9M93.5 319.2h.9M88.4 324.1h.9M86.2 308.2h.9M92.3 310.3h.9M91.5 309.9h.9M95.4 310.0h.9M91.2 329.9h.9M83.3 328.3h.9M83.9 302.0h.9M90.6 323.3h.9M86.6 296.3h.9M87.3 314.5h.9M85.9 314.3h.9M79.8 310.9h.9M95.3 331.0h.9M85.9 310.9h.9M89.2 325.9h.9M90.6 308.1h.9M88.2 318.3h.9M93.7 327.9h.9M89.8 327.3h.9M85.8 329.2h.9M85.7 319.9h.9M91.5 310.3h.9M84.5 302.2h.9M88.2 316.7h.9M86.1 320.8h.9M78.4 315.1h.9M87.9 314.9h.9M90.9 331.9h.9M85.6 309.0h.9M84.9 317.3h.9M90.0 310.5h.9M91.8 309.5h.9M91.1 321.1h.9M89.5 334.9h.9M86.4 315.4h.9M89.6 324.4h.9M81.7 318.1h.9M84.3 321.5h.9M93.4 318.5h.9M87.0 318.4h.9M74.7 320.8h.9M89.9 318.8h.9M85.8 310.7h.9M86.7 326.7h.9M87.1 327.9h.9M76.4 311.2h.9M88.7 317.1h.9M80.3 310.2h.9M92.9 307.5h.9M83.2 307.3h.9M85.1 321.8h.9M90.1 301.0h.9M93.8 313.4h.9M85.0 330.1h.9M87.1 306.9h.9M84.7 310.6h.9M83.1 313.5h.9M91.3 320.6h.9M81.5 338.5h.9M83.2 317.1h.9M87.6 323.2h.9M86.1 320.4h.9M96.6 319.5h.9M82.8 318.8h.9M84.0 313.3h.9M88.3 319.9h.9M86.3 323.7h.9M86.7 306.3h.9M91.3 314.8h.9M92.7 312.7h.9M90.0 320.0h.9M75.8 302.7h.9M82.7 327.5h.9M79.3 322.9h.9M92.2 321.9h.9M90.4 313.5h.9M87.5 318.8h.9M89.3 323.1h.9M86.6 311.1h.9M85.1 319.9h.9M80.3 305.5h.9M85.7 312.2h.9M86.3 295.2h.9M86.0 314.7h.9M90.9 301.6h.9M86.2 320.6h.9M89.6 327.1h.9M92.1 309.3h.9M90.3 314.8h.9M84.0 328.8h.9M84.8 309.5h.9M85.7 309.7h.9M91.9 320.9h.9M93.6 321.5h.9M84.8 325.0h.9M84.7 312.7h.9M86.8 317.2h.9M92.7 313.0h.9M89.0 317.1h.9M82.1 307.1h.9M86.5 320.1h.9M88.9 321.2h.9M87.7 313.4h.9M89.3 309.2h.9M81.7 313.2h.9M81.3 311.6h.9M84.3 311.9h.9M87.3 310.4h.9M85.7 302.7h.9M88.1 309.9h.9M89.3 294.3h.9M84.0 318.3h.9M76.9 312.1h.9M87.9 317.9h.9M81.0 317.6h.9M88.1 309.2h.9M90.7 317.2h.9M87.6 313.3h.9M89.9 318.2h.9M92.4 321.6h.9M84.8 314.7h.9M91.5 314.8h.9M89.2 321.6h.9M86.7 297.8h.9M88.1 318.9h.9M88.1 310.9h.9M92.8 316.9h.9M84.8 310.6h.9M89.1 308.4h.9M83.1 332.5h.9M93.2 326.7h.9M93.4 323.0h.9M80.2 325.4h.9M92.9 322.0h.9M74.0 326.1h.9M102.9 311.2h.9M92.1 323.4h.9M90.3 326.5h.9M91.7 322.4h.9M91.7 299.4h.9M93.4 329.2h.9M100.9 334.4h.9M95.8 309.3h.9M91.2 294.7h.9M89.4 324.4h.9M72.1 314.8h.9M98.2 330.0h.9M82.9 307.1h.9M74.6 302.2h.9M95.7 337.5h.9M81.0 328.4h.9M94.7 310.2h.9M110.2 290.6h.9M90.4 317.3h.9M109.6 336.4h.9M110.8 318.8h.9M99.6 330.6h.9M95.5 319.4h.9M89.4 310.5h.9M80.3 334.4h.9M87.1 292.4h.9M93.3 314.9h.9M92.5 334.5h.9M90.1 312.1h.9M84.5 314.0h.9M87.2 316.7h.9M118.3 322.5h.9M83.5 334.6h.9M98.6 324.6h.9M97.3 324.5h.9M96.9 330.7h.9M99.8 330.4h.9M86.6 314.4h.9M84.6 324.4h.9M98.3 310.9h.9M96.1 343.6h.9M101.8 304.4h.9M90.2 321.7h.9M90.7 319.1h.9M101.3 319.8h.9M81.4 321.4h.9M90.1 316.1h.9M86.0 299.7h.9M80.1 309.9h.9M81.6 284.9h.9M101.1 303.8h.9M84.6 319.9h.9M84.3 321.2h.9M86.8 317.7h.9M91.9 315.1h.9M75.0 297.4h.9M90.6 330.0h.9M86.2 320.1h.9M92.4 320.3h.9M99.7 300.1h.9M93.4 313.4h.9M88.3 305.6h.9M84.1 303.2h.9M81.4 340.6h.9M105.9 316.9h.9M97.5 305.4h.9M92.2 330.5h.9M90.6 304.3h.9M88.9 304.1h.9M78.8 311.0h.9M87.5 305.9h.9M83.2 304.1h.9M93.1 330.1h.9M89.2 338.6h.9M76.8 316.2h.9M80.9 312.0h.9M91.9 321.1h.9M100.9 310.3h.9M80.1 311.7h.9M93.6 307.9h.9M98.8 333.9h.9M78.5 317.3h.9M99.9 295.6h.9M92.8 312.8h.9M78.5 327.5h.9M92.9 310.1h.9M94.9 322.3h.9M97.7 322.0h.9M94.6 302.9h.9M87.3 315.9h.9M87.7 303.3h.9M75.0 315.7h.9M91.3 308.8h.9M87.3 305.1h.9M84.4 313.2h.9M85.4 321.6h.9M89.7 316.3h.9M94.6 329.0h.9M96.3 318.1h.9M89.6 306.2h.9M88.0 321.9h.9M93.0 311.1h.9M79.3 297.2h.9M93.8 326.3h.9M94.3 300.8h.9M89.1 317.1h.9M82.9 317.7h.9M89.2 305.9h.9M80.1 322.3h.9M94.1 305.9h.9M82.1 323.4h.9M96.2 312.4h.9M105.0 313.6h.9M81.7 325.5h.9M89.3 318.5h.9M91.3 304.4h.9M80.6 311.7h.9M103.3 305.8h.9M102.9 318.8h.9M81.3 316.7h.9M96.0 306.0h.9M72.3 316.5h.9M81.3 318.5h.9M74.3 311.4h.9M83.9 298.4h.9M88.9 316.6h.9M86.1 301.8h.9M92.9 296.6h.9M95.7 320.8h.9M105.7 326.2h.9M94.1 318.2h.9M91.2 300.9h.9M103.8 322.2h.9M88.5 302.5h.9M104.0 322.2h.9M80.6 320.9h.9M107.6 316.8h.9M94.5 311.0h.9M85.5 325.7h.9M117.9 319.5h.9M89.9 323.3h.9M88.3 322.4h.9M98.2 305.1h.9M81.6 313.1h.9M98.3 318.8h.9M101.8 301.7h.9M95.3 308.9h.9M91.9 318.5h.9M82.5 311.5h.9M80.8 316.6h.9M83.6 308.8h.9M92.9 308.3h.9M101.0 309.5h.9M98.4 318.9h.9M82.0 311.6h.9M83.7 310.3h.9M88.6 334.0h.9M87.3 331.2h.9M94.9 301.6h.9M70.8 319.7h.9M73.6 320.5h.9M100.0 320.2h.9M89.2 312.1h.9M93.3 312.1h.9M86.3 310.5h.9M101.2 309.7h.9M94.3 303.2h.9M84.8 299.7h.9M89.3 322.0h.9M93.7 310.1h.9M96.3 312.0h.9M94.2 318.3h.9M95.7 289.3h.9M79.7 321.8h.9M90.1 338.7h.9M89.0 308.9h.9M104.0 322.5h.9M107.5 322.4h.9M89.2 322.5h.9M84.1 309.4h.9M86.2 312.1h.9M97.8 310.7h.9M93.8 310.1h.9M98.7 286.8h.9M89.2 316.6h.9M81.6 324.6h.9M92.9 328.8h.9M99.4 322.8h.9M89.7 303.3h.9M89.1 309.9h.9M93.2 310.3h.9M117.6 301.3h.9M101.2 311.3h.9M88.9 324.5h.9M91.0 302.2h.9M94.6 313.4h.9M73.1 314.9h.9M81.8 306.0h.9M95.2 318.7h.9M88.5 337.6h.9M94.6 309.0h.9M93.1 314.0h.9M71.8 296.0h.9M78.9 335.3h.9M89.4 311.9h.9M86.1 324.8h.9M91.2 333.1h.9M97.8 333.2h.9M90.0 318.8h.9M87.2 312.8h.9M76.0 307.0h.9M82.7 307.1h.9M101.6 319.1h.9M101.6 325.4h.9M99.0 326.6h.9M85.7 322.8h.9M88.2 309.1h.9M101.4 339.1h.9M82.5 332.3h.9M98.2 306.9h.9M93.4 319.2h.9M94.3 311.6h.9M79.9 314.0h.9M98.5 324.2h.9M96.7 327.3h.9M82.4 313.5h.9M94.0 325.9h.9M92.4 320.6h.9M92.2 337.3h.9M72.1 312.4h.9M112.5 320.1h.9M75.1 314.5h.9M78.6 306.3h.9M92.9 333.3h.9M95.0 322.5h.9M99.8 318.2h.9M83.6 313.1h.9M93.9 312.4h.9M85.2 310.5h.9M78.0 302.6h.9M90.2 311.1h.9M91.3 329.8h.9M93.6 315.0h.9M80.8 302.4h.9M94.3 306.2h.9M94.7 304.1h.9M92.2 314.4h.9M99.6 311.9h.9M87.8 317.2h.9M91.5 332.9h.9M88.8 309.1h.9M88.2 319.7h.9M93.0 322.6h.9M79.0 339.6h.9M106.9 316.6h.9M80.5 315.4h.9M94.6 291.9h.9M91.1 299.4h.9M95.0 330.0h.9M100.0 300.2h.9M103.0 326.0h.9M87.9 319.9h.9M104.1 313.1h.9M90.9 309.1h.9M101.0 293.5h.9M103.3 306.3h.9M99.0 298.9h.9M82.9 307.7h.9M98.2 298.8h.9M96.2 308.9h.9M101.8 313.0h.9M95.2 313.7h.9M106.5 313.1h.9M90.8 335.9h.9M91.7 322.3h.9M84.6 316.3h.9M71.4 313.7h.9M85.4 298.5h.9M78.7 325.5h.9M94.7 299.5h.9M106.7 309.6h.9M87.8 317.2h.9M81.2 296.8h.9M84.5 326.7h.9M99.2 299.4h.9M101.4 316.6h.9M95.3 316.1h.9M94.6 304.9h.9M83.1 306.6h.9M87.8 321.1h.9M80.5 330.5h.9M85.5 308.1h.9M97.1 320.3h.9M88.1 303.4h.9M82.3 297.1h.9M100.9 327.6h.9M107.2 322.2h.9M93.9 323.3h.9M99.2 313.3h.9M94.1 338.1h.9M76.3 298.4h.9M82.7 321.9h.9M101.3 312.7h.9M96.8 315.2h.9M93.6 309.6h.9M90.8 314.9h.9M100.8 339.7h.9M75.3 318.7h.9M91.0 325.2h.9M100.2 324.3h.9M98.0 305.8h.9M76.2 330.8h.9M101.5 306.2h.9M102.2 323.4h.9M82.4 326.2h.9M85.1 306.4h.9M77.6 311.1h.9M99.8 309.0h.9M74.9 335.6h.9M107.0 324.2h.9M86.3 301.7h.9M76.8 319.2h.9M102.3 305.2h.9M91.0 312.1h.9M88.8 320.0h.9M109.1 310.5h.9M98.4 327.4h.9M88.5 313.1h.9M79.4 325.0h.9M86.4 307.5h.9M91.6 306.0h.9M82.0 310.8h.9M103.9 314.4h.9M95.6 300.1h.9M74.1 332.1h.9M87.5 298.3h.9M90.1 321.3h.9M76.0 303.9h.9M93.3 305.5h.9M97.9 326.0h.9M94.8 310.9h.9M90.6 308.3h.9M89.9 318.2h.9M88.4 325.0h.9M113.5 312.0h.9M94.0 324.1h.9M96.6 313.2h.9M86.8 325.1h.9M96.4 321.0h.9M84.0 320.8h.9M97.9 313.9h.9M96.6 338.6h.9M74.7 319.4h.9M80.8 299.3h.9M89.0 320.5h.9M91.5 302.7h.9M78.5 307.6h.9M91.1 306.2h.9M77.9 332.0h.9M83.7 312.5h.9M86.2 308.2h.9M91.3 311.9h.9M96.4 303.1h.9M78.1 334.1h.9M90.3 323.1h.9M101.3 322.1h.9M91.3 298.6h.9M77.1 323.7h.9M96.9 321.8h.9M76.5 290.6h.9M81.8 301.4h.9M92.4 304.3h.9M104.8 310.1h.9M86.1 323.6h.9M93.9 305.8h.9M98.2 336.3h.9M80.3 311.1h.9M81.6 293.2h.9M96.5 323.1h.9M99.5 320.6h.9M73.4 312.6h.9M85.2 301.8h.9M81.3 322.0h.9M88.4 335.6h.9M95.1 295.2h.9M98.8 329.2h.9M91.3 302.1h.9M106.5 302.9h.9M90.3 294.6h.9M80.0 295.6h.9M100.5 328.7h.9M87.5 300.1h.9M90.5 319.0h.9M77.6 301.0h.9M90.1 322.4h.9M91.7 319.9h.9M80.1 287.1h.9M93.7 305.5h.9M89.9 310.8h.9M95.2 307.3h.9M103.7 316.9h.9M95.6 322.3h.9M100.1 320.4h.9M75.6 306.4h.9M107.4 322.1h.9M95.9 320.6h.9M85.4 307.1h.9M85.3 326.7h.9M94.2 334.4h.9M95.4 335.8h.9M95.0 302.8h.9M106.3 320.5h.9M101.5 318.6h.9M88.1 316.5h.9M81.1 301.0h.9M83.2 308.4h.9M79.0 312.4h.9M93.7 337.1h.9M107.2 316.5h.9M98.8 313.6h.9M94.5 315.1h.9M86.2 315.2h.9M77.9 318.1h.9M88.4 303.0h.9M87.8 320.6h.9M85.0 319.4h.9M96.0 332.4h.9M81.4 312.6h.9M95.5 331.7h.9M93.3 323.4h.9M78.0 307.1h.9M105.7 313.7h.9M110.2 309.5h.9M88.5 297.5h.9M96.6 318.5h.9M108.9 319.0h.9M88.8 299.5h.9M90.3 325.1h.9M97.6 329.1h.9M98.7 315.4h.9M96.4 317.5h.9M79.2 332.0h.9M94.3 304.0h.9M94.4 318.5h.9M99.9 331.7h.9M104.6 306.4h.9M74.5 316.0h.9M94.0 319.2h.9M81.1 308.7h.9M92.7 323.3h.9M110.5 320.6h.9M85.6 288.8h.9M100.6 314.7h.9M90.0 304.2h.9M97.5 296.4h.9M92.0 316.4h.9M93.7 329.5h.9M90.1 315.9h.9M98.6 299.1h.9M88.4 315.4h.9M99.5 307.4h.9M98.2 320.0h.9M77.7 297.3h.9M78.2 315.0h.9M92.8 323.1h.9M98.3 309.9h.9M100.6 325.1h.9M95.2 320.7h.9M79.5 317.5h.9M81.8 300.9h.9M87.9 316.1h.9M90.5 311.3h.9M82.1 315.9h.9M84.4 298.9h.9M91.8 330.9h.9M87.4 303.0h.9M103.4 335.1h.9M88.4 312.4h.9M92.2 326.0h.9M95.0 295.7h.9M81.1 300.4h.9M94.9 316.6h.9M107.0 314.0h.9M93.8 316.2h.9M92.2 340.4h.9M93.6 331.4h.9M102.6 309.8h.9M97.1 311.6h.9M92.0 316.8h.9M91.2 309.9h.9M105.0 313.8h.9M97.3 334.1h.9M96.6 326.9h.9M103.5 328.4h.9M106.4 301.3h.9M108.6 317.5h.9M75.3 306.1h.9M78.5 313.2h.9M77.6 302.4h.9M93.7 317.0h.9M83.8 311.6h.9M90.1 315.7h.9M90.9 312.6h.9M98.9 298.4h.9M86.6 315.9h.9M87.4 308.5h.9M87.1 316.8h.9M102.2 314.3h.9M88.6 318.6h.9M88.8 293.6h.9M93.4 311.2h.9M85.9 321.2h.9M91.4 308.9h.9M71.4 293.8h.9M91.1 313.7h.9M94.9 317.9h.9M86.7 300.6h.9M81.2 312.3h.9M80.7 322.0h.9M79.1 293.9h.9M89.3 295.4h.9M105.6 305.9h.9M90.5 312.3h.9M83.6 294.8h.9M74.3 322.4h.9M100.2 339.8h.9M77.8 319.5h.9M90.9 324.2h.9M86.4 322.3h.9M99.1 322.6h.9M104.0 314.7h.9M104.9 309.0h.9M106.0 286.8h.9M91.1 306.3h.9M91.0 326.3h.9M97.5 316.8h.9M106.3 300.7h.9M83.7 330.6h.9M94.0 292.7h.9M94.1 302.4h.9M104.3 329.1h.9M86.1 328.6h.9M83.5 324.2h.9M96.2 314.2h.9M78.2 310.4h.9M74.3 326.3h.9M82.3 287.3h.9M96.3 319.7h.9M86.4 337.6h.9M98.0 316.6h.9M85.2 281.9h.9M95.3 326.0h.9M85.7 298.9h.9M90.6 296.7h.9M91.1 323.4h.9M104.6 319.6h.9M92.8 323.4h.9M103.6 313.0h.9M79.9 305.0h.9M79.7 303.9h.9M89.9 318.6h.9M92.4 315.9h.9M87.8 319.2h.9M99.0 324.3h.9M104.5 313.5h.9M88.7 333.3h.9M92.8 319.7h.9M88.0 325.2h.9M87.4 303.5h.9M90.5 310.1h.9M98.5 311.8h.9M92.1 312.8h.9M94.1 308.5h.9M100.9 300.6h.9M87.5 306.8h.9M96.8 316.2h.9M95.4 311.9h.9M84.5 302.0h.9M88.0 308.8h.9M93.5 319.2h.9M99.8 314.9h.9M84.3 302.6h.9M91.6 319.0h.9M108.5 319.1h.9M106.8 337.4h.9M81.6 327.1h.9M101.2 331.0h.9M90.9 325.4h.9M86.7 313.7h.9M91.2 334.5h.9M89.1 325.2h.9M91.6 307.3h.9M93.2 322.5h.9M84.6 321.2h.9M84.6 304.6h.9M93.0 312.7h.9M82.2 296.1h.9M91.2 317.7h.9M86.9 316.5h.9M77.3 317.6h.9M94.7 318.5h.9M85.5 315.2h.9M92.2 326.8h.9M93.5 318.1h.9M84.5 323.6h.9M101.6 310.9h.9M96.7 319.1h.9M90.6 300.9h.9M106.8 296.5h.9M93.7 311.2h.9M101.3 311.6h.9M91.4 321.7h.9M95.1 309.8h.9M97.1 320.0h.9M99.9 310.5h.9M90.6 310.7h.9M83.5 316.9h.9M94.7 331.0h.9M88.1 318.9h.9M101.3 315.0h.9M91.6 316.5h.9M84.8 303.5h.9M101.0 318.1h.9M90.3 301.4h.9M92.1 327.9h.9M80.7 304.0h.9M101.0 331.8h.9M104.9 310.7h.9M96.4 307.5h.9M95.7 311.6h.9M92.8 329.8h.9M94.0 312.7h.9M91.5 318.0h.9M86.4 316.7h.9M96.4 332.6h.9M72.5 299.8h.9M79.9 323.2h.9M112.8 319.8h.9M92.1 327.5h.9M86.5 309.2h.9M94.0 309.0h.9M100.9 316.2h.9M94.4 343.0h.9M87.0 324.6h.9M83.6 327.7h.9M99.6 317.6h.9M99.9 333.6h.9M103.3 316.5h.9M90.5 327.0h.9M77.9 306.9h.9M95.3 321.7h.9M107.6 336.1h.9M93.9 320.1h.9M79.2 311.6h.9M93.3 312.8h.9M91.5 321.7h.9M82.5 307.8h.9M75.2 325.5h.9M81.6 295.4h.9M97.9 313.5h.9M99.6 312.1h.9M109.9 325.1h.9M92.3 316.4h.9M89.2 323.5h.9M108.8 312.6h.9M81.3 320.3h.9M100.5 300.0h.9M84.8 303.5h.9M96.0 321.1h.9M84.5 302.0h.9M97.1 293.5h.9M96.7 314.0h.9M108.1 327.8h.9M85.9 311.4h.9M88.5 306.8h.9M91.7 325.5h.9M77.6 310.9h.9M104.3 324.6h.9M83.8 305.4h.9M83.4 296.8h.9M101.2 317.0h.9M84.8 298.8h.9M87.6 309.1h.9M106.3 311.9h.9M92.0 326.7h.9M96.9 313.8h.9M71.7 327.7h.9M96.3 311.0h.9M90.2 304.6h.9M83.0 298.1h.9M95.4 321.1h.9M92.5 323.6h.9M95.7 316.9h.9M83.2 320.4h.9M101.5 323.1h.9M102.0 311.3h.9M82.3 327.4h.9M85.8 317.0h.9M89.3 315.0h.9M88.6 308.9h.9M75.2 333.6h.9M92.8 294.5h.9M83.0 301.9h.9M84.4 286.8h.9M96.1 333.2h.9M88.8 322.7h.9M96.3 302.3h.9M101.8 298.2h.9M85.9 310.5h.9M102.1 317.6h.9M89.9 306.2h.9M91.8 315.6h.9M97.4 330.7h.9M97.5 316.0h.9M89.7 332.0h.9M92.8 315.0h.9M106.8 333.7h.9M96.0 314.4h.9M85.4 325.8h.9M87.0 324.8h.9M84.1 315.3h.9M94.5 317.0h.9M93.1 319.3h.9M81.1 301.9h.9M89.7 334.2h.9M89.9 304.9h.9M85.2 314.7h.9M101.4 310.2h.9M95.9 317.6h.9M87.9 304.5h.9M89.7 307.1h.9M95.7 296.7h.9M100.9 324.3h.9M96.1 331.6h.9M96.3 297.4h.9M91.5 319.9h.9M85.0 302.2h.9M94.8 320.9h.9M87.3 312.0h.9M86.5 308.4h.9M90.5 326.4h.9M76.9 309.6h.9M105.2 320.1h.9M92.4 324.1h.9M82.2 301.0h.9M76.4 297.7h.9M93.2 324.3h.9M87.3 307.3h.9M94.5 322.0h.9M93.3 295.0h.9M86.2 287.4h.9M93.1 306.2h.9M85.2 330.3h.9M102.6 321.6h.9M93.4 317.1h.9M85.9 313.8h.9M107.8 307.7h.9M85.2 316.0h.9M98.8 324.8h.9M82.5 312.6h.9M88.7 301.6h.9M91.7 310.0h.9M99.1 320.6h.9M84.2 315.0h.9M87.9 307.9h.9M86.7 325.8h.9M87.4 296.3h.9M84.2 322.8h.9M109.8 306.1h.9M87.9 311.1h.9M78.7 317.8h.9M90.6 317.9h.9M110.6 314.6h.9M97.9 324.7h.9M85.4 308.0h.9M104.6 324.3h.9M92.3 303.5h.9M98.7 321.6h.9M110.2 333.0h.9M98.0 318.7h.9M91.5 309.2h.9M93.7 317.9h.9M96.7 327.3h.9M93.7 309.6h.9M98.1 332.4h.9M83.7 318.6h.9M95.8 321.3h.9M95.4 314.6h.9M90.1 332.8h.9M106.2 301.9h.9M85.1 308.8h.9M77.1 317.1h.9M90.5 309.2h.9M98.9 341.8h.9M103.9 329.1h.9M87.4 321.6h.9M90.7 327.3h.9M96.1 315.3h.9M95.8 308.0h.9M97.9 331.8h.9M87.8 320.5h.9M76.4 323.2h.9M98.7 305.1h.9M106.2 318.1h.9M75.9 298.6h.9M98.6 313.0h.9M100.7 299.7h.9M90.1 325.3h.9M85.1 321.5h.9M87.9 318.3h.9M93.8 339.1h.9M80.2 322.0h.9M102.5 304.5h.9M91.7 339.6h.9M100.2 284.6h.9M88.9 296.6h.9M93.7 307.6h.9M86.1 305.5h.9M93.6 310.4h.9M83.1 311.6h.9M94.6 306.3h.9M100.7 298.5h.9M94.6 311.3h.9M104.8 309.8h.9M85.2 300.0h.9M108.4 323.7h.9M81.5 310.3h.9M82.6 330.2h.9M94.7 293.8h.9M92.8 325.0h.9M91.0 320.0h.9M90.0 317.1h.9M92.9 307.7h.9M94.0 317.1h.9M90.7 307.7h.9M82.1 316.5h.9M98.2 290.2h.9M86.3 328.8h.9M99.0 308.4h.9M102.8 305.9h.9M84.1 334.8h.9M87.2 312.2h.9M76.6 302.5h.9M80.7 312.3h.9M74.9 324.3h.9M87.9 308.2h.9M85.5 322.2h.9M104.4 312.3h.9M105.1 333.9h.9M102.7 319.6h.9M78.0 320.6h.9M87.4 316.6h.9M74.5 310.0h.9M93.0 305.3h.9M93.6 333.1h.9M93.0 308.0h.9M111.9 294.6h.9M82.9 318.4h.9M85.8 289.9h.9M93.3 324.1h.9M84.0 329.8h.9M95.4 328.2h.9M77.6 313.3h.9M105.0 338.2h.9M102.6 316.4h.9M92.6 308.5h.9M100.6 308.8h.9M92.1 293.1h.9M77.8 332.4h.9M91.5 317.4h.9M71.7 312.3h.9M109.2 301.3h.9M86.3 312.2h.9M80.0 299.2h.9M80.2 320.5h.9M90.6 323.7h.9M81.5 320.1h.9M87.1 315.5h.9M99.2 316.4h.9M87.9 296.8h.9M91.6 323.5h.9M85.4 313.6h.9M75.4 298.8h.9M94.5 329.3h.9M88.3 296.8h.9M87.7 297.8h.9M88.6 335.4h.9M93.6 313.7h.9M100.1 312.0h.9M93.9 317.5h.9M94.9 299.7h.9M97.3 325.2h.9M70.9 283.4h.9M83.1 330.0h.9M91.2 322.3h.9M95.9 325.1h.9M85.4 308.0h.9M94.3 321.9h.9M96.1 319.3h.9M86.7 326.4h.9M95.2 326.9h.9M85.1 315.6h.9M86.8 311.1h.9M92.7 318.9h.9M83.9 286.9h.9M84.1 320.0h.9M83.5 318.7h.9M87.7 304.4h.9M101.4 334.2h.9M90.1 314.3h.9M99.5 301.7h.9M83.3 326.3h.9M99.0 310.6h.9M84.1 317.9h.9M78.5 308.1h.9M88.9 288.1h.9M96.3 323.9h.9M100.5 300.6h.9M79.6 304.8h.9M79.4 335.8h.9M82.3 310.5h.9M92.8 320.2h.9M103.9 304.8h.9M98.8 317.6h.9M80.6 315.4h.9M78.5 331.1h.9M84.5 325.1h.9M102.6 309.7h.9M83.0 315.4h.9M81.6 323.6h.9M92.6 306.9h.9M84.9 322.1h.9M78.0 331.8h.9M84.0 312.0h.9M82.7 331.6h.9M98.4 330.1h.9M96.8 316.7h.9M106.2 324.1h.9M94.9 321.8h.9M97.6 318.8h.9M89.5 297.4h.9M109.4 303.1h.9M71.7 304.9h.9M108.3 330.4h.9M85.6 317.2h.9M90.8 293.3h.9M88.0 317.8h.9M101.5 303.2h.9M70.8 295.3h.9M94.0 316.2h.9M92.3 316.8h.9M87.7 299.7h.9M95.1 319.7h.9M96.2 329.2h.9M79.9 288.1h.9M75.0 336.4h.9M82.8 318.4h.9M90.9 322.9h.9M119.9 312.9h.9M89.5 308.3h.9M93.2 321.0h.9M82.3 328.3h.9M101.3 321.1h.9M90.0 312.3h.9M76.2 320.4h.9M82.2 308.4h.9M100.0 306.0h.9M86.3 323.8h.9M107.7 309.5h.9M100.9 309.1h.9M94.5 320.7h.9M80.8 325.0h.9M107.2 317.5h.9M93.4 302.5h.9M107.1 317.7h.9M79.5 322.0h.9M77.8 305.9h.9M71.8 327.7h.9M110.9 310.5h.9M85.1 308.0h.9M85.9 320.4h.9M104.1 305.6h.9M95.0 295.8h.9M104.7 315.7h.9M84.7 331.0h.9M90.0 329.9h.9M100.7 334.3h.9M83.8 314.7h.9M94.3 313.3h.9M104.7 308.9h.9M100.0 331.0h.9M73.4 302.2h.9M82.9 308.0h.9M94.5 313.5h.9M91.7 310.1h.9M90.3 320.2h.9M97.7 307.3h.9M90.0 306.5h.9M89.4 299.1h.9M99.6 323.4h.9M89.9 307.4h.9M86.9 307.2h.9M77.1 331.2h.9M120.6 305.2h.9M80.5 320.0h.9M96.5 298.4h.9M73.7 318.8h.9M73.1 328.4h.9M86.5 315.4h.9M91.0 308.9h.9M89.7 311.6h.9M102.2 315.4h.9M90.7 309.2h.9M85.3 306.2h.9M91.1 335.1h.9M101.0 318.8h.9M106.0 327.9h.9M92.9 313.4h.9M81.1 316.5h.9M88.2 297.3h.9M79.4 334.8h.9M92.9 320.7h.9M92.8 310.1h.9M95.2 327.4h.9M88.2 320.3h.9M100.2 310.8h.9M92.5 307.1h.9M96.4 311.6h.9M101.3 307.9h.9M106.2 313.5h.9M83.4 304.2h.9M97.0 306.4h.9M107.2 331.0h.9M95.7 300.0h.9M90.8 307.0h.9M74.7 317.7h.9M110.8 311.6h.9M98.3 329.9h.9M82.4 310.2h.9M93.4 320.5h.9M80.7 316.1h.9M90.0 325.3h.9M76.6 307.1h.9M86.5 311.0h.9M97.5 308.9h.9M115.6 310.3h.9M98.6 327.1h.9M99.7 313.8h.9M83.5 311.3h.9M97.0 317.1h.9M96.2 321.9h.9M83.0 303.8h.9M104.0 311.3h.9M76.7 333.6h.9M83.5 303.9h.9M99.7 303.7h.9M83.2 325.5h.9M83.6 341.5h.9M91.9 344.5h.9M92.2 315.7h.9M85.2 311.9h.9M86.5 314.2h.9M97.9 301.9h.9M82.7 291.1h.9M104.5 315.8h.9M90.9 314.3h.9M100.0 319.6h.9M98.7 314.1h.9M89.9 314.3h.9M74.2 324.9h.9M76.8 302.4h.9M97.0 316.3h.9M98.3 334.6h.9M107.8 332.2h.9M89.0 337.2h.9M83.1 313.1h.9M100.0 313.8h.9M89.9 311.0h.9M103.3 289.5h.9M102.5 328.0h.9M90.3 321.1h.9M82.3 326.1h.9M118.5 308.3h.9M103.6 315.9h.9M88.0 309.3h.9M89.3 301.1h.9M78.8 331.7h.9M90.8 321.0h.9M93.8 320.6h.9M77.3 302.9h.9M96.7 326.6h.9M80.7 307.4h.9M81.4 321.0h.9M94.1 315.7h.9M85.2 318.0h.9M91.3 306.9h.9M94.0 308.1h.9M99.6 322.9h.9M84.8 320.7h.9M91.6 307.3h.9M82.8 295.8h.9M80.8 317.6h.9M101.9 309.5h.9M92.4 318.9h.9M98.0 320.7h.9M102.0 324.7h.9M84.1 318.5h.9M91.2 321.4h.9M88.3 323.8h.9M102.9 307.3h.9M86.1 317.3h.9M95.4 317.1h.9M98.5 303.0h.9M98.0 328.6h.9M101.0 320.9h.9M88.9 319.1h.9M90.3 297.6h.9M85.6 313.9h.9M86.4 304.2h.9M88.9 310.7h.9M91.6 314.5h.9M92.5 326.1h.9M92.2 319.6h.9M80.0 281.4h.9M87.4 322.0h.9M87.9 307.8h.9M79.8 323.4h.9M86.3 317.1h.9M101.2 322.1h.9M111.2 316.0h.9M99.6 323.6h.9M85.1 314.8h.9M85.9 303.2h.9M93.7 306.8h.9M106.1 308.7h.9M86.1 315.4h.9M86.3 315.0h.9M85.5 298.8h.9M104.7 321.5h.9M92.4 310.1h.9M89.7 318.1h.9M78.5 304.7h.9M83.0 327.8h.9M81.5 326.7h.9M86.8 344.3h.9M90.3 315.3h.9M103.2 326.1h.9M99.5 304.3h.9M101.2 334.6h.9M90.1 309.6h.9M81.2 324.9h.9M93.6 315.4h.9M79.9 331.4h.9M98.9 315.7h.9M104.3 306.2h.9M98.9 305.0h.9M103.7 313.5h.9M102.0 311.8h.9M94.6 327.9h.9M82.9 315.1h.9M83.5 323.4h.9M85.6 310.3h.9M89.2 327.5h.9M81.6 313.6h.9M88.0 308.6h.9M83.9 312.4h.9M92.8 298.3h.9M93.1 302.3h.9M91.1 340.0h.9M82.3 313.2h.9M88.7 325.5h.9M86.7 294.9h.9M76.5 315.2h.9M93.3 327.0h.9M86.2 321.7h.9M81.4 328.0h.9M90.4 307.5h.9M92.6 334.3h.9M83.4 300.5h.9M81.9 301.2h.9M90.5 318.8h.9M89.5 317.0h.9M101.7 313.1h.9M79.7 288.6h.9M93.2 307.8h.9M88.8 319.2h.9M95.2 298.3h.9M82.4 314.8h.9M89.7 327.4h.9M86.5 291.9h.9M101.5 298.4h.9M82.3 318.2h.9M81.5 341.1h.9M93.1 321.1h.9M87.1 338.8h.9M95.9 307.7h.9M102.3 297.9h.9M85.7 317.5h.9M92.2 304.7h.9M105.2 332.8h.9M82.6 318.1h.9M85.3 309.6h.9M99.9 317.5h.9M90.0 316.0h.9M80.4 327.1h.9M84.2 328.5h.9M86.9 309.5h.9M104.4 318.7h.9M85.2 308.4h.9M96.4 336.1h.9M96.5 311.4h.9M80.9 306.4h.9M89.9 317.5h.9M85.1 328.3h.9M82.4 306.1h.9M95.5 320.8h.9M87.5 325.1h.9M78.3 331.3h.9M110.7 338.8h.9M92.1 336.7h.9M91.5 329.6h.9M89.2 316.9h.9M95.7 296.5h.9M89.1 333.6h.9M99.3 319.6h.9M92.8 330.4h.9M94.0 294.7h.9M82.5 310.7h.9M92.3 310.3h.9M90.1 333.1h.9M99.4 322.6h.9M91.1 315.7h.9M94.3 318.0h.9M84.5 322.8h.9M83.6 313.6h.9M87.8 302.0h.9M96.4 314.9h.9M80.5 312.9h.9M78.6 329.2h.9M95.6 337.3h.9M85.9 322.1h.9M86.3 287.7h.9M94.2 294.1h.9M103.3 290.7h.9M104.9 296.8h.9M87.1 291.1h.9M86.8 300.5h.9M90.1 296.4h.9M103.2 290.7h.9M90.6 293.7h.9M88.0 285.7h.9M86.3 293.7h.9M96.7 300.8h.9M78.6 294.5h.9M84.7 297.8h.9M101.2 292.6h.9M108.2 290.1h.9M90.3 286.8h.9M89.1 292.6h.9M101.0 298.4h.9M92.6 288.4h.9M92.0 289.9h.9M90.8 290.0h.9M87.2 291.7h.9M90.4 291.2h.9M82.6 292.7h.9M100.1 295.2h.9M90.1 286.3h.9M83.4 286.2h.9M89.3 290.5h.9M79.1 295.3h.9M81.2 288.6h.9M88.6 296.1h.9M111.4 290.2h.9M92.6 290.1h.9M93.2 291.2h.9M117.0 286.6h.9M94.0 288.1h.9M98.2 289.4h.9M100.1 286.6h.9M113.8 293.0h.9M79.2 295.5h.9M90.8 286.3h.9M98.9 289.4h.9M101.6 289.3h.9M103.0 292.7h.9M98.2 292.8h.9M91.8 290.2h.9M99.0 295.5h.9M91.4 303.1h.9M110.1 286.3h.9M104.7 291.7h.9M97.1 288.1h.9M109.7 287.9h.9M94.3 288.4h.9M112.2 298.2h.9M83.3 289.8h.9M98.2 289.9h.9M91.9 286.7h.9M97.2 286.6h.9M102.4 303.8h.9M92.1 300.1h.9M98.3 288.7h.9M91.9 287.3h.9M96.0 295.5h.9M103.3 290.6h.9M84.4 291.6h.9M109.9 293.4h.9M94.4 281.8h.9M91.2 294.7h.9M86.6 298.6h.9M90.0 287.7h.9M89.9 291.6h.9M103.9 289.2h.9M79.2 291.6h.9M99.6 299.6h.9M85.0 299.3h.9M101.0 294.2h.9M88.2 287.7h.9M86.5 296.6h.9M96.9 297.3h.9M111.1 292.1h.9M94.6 301.4h.9M83.4 289.8h.9M91.7 290.2h.9M96.3 287.9h.9M105.3 285.3h.9M87.8 283.7h.9M82.6 294.9h.9M100.6 291.1h.9M102.5 295.0h.9M89.9 291.8h.9M98.3 301.9h.9M91.1 293.8h.9M99.8 298.0h.9M98.8 297.3h.9M85.6 290.7h.9M77.9 291.8h.9M115.6 293.2h.9M95.8 293.3h.9M96.3 285.5h.9M88.9 291.2h.9M96.5 287.8h.9M94.1 288.4h.9M83.3 288.8h.9M87.9 296.1h.9M106.9 294.9h.9M93.1 289.3h.9M81.1 289.5h.9M108.8 297.7h.9M97.0 290.8h.9M95.0 294.1h.9M94.9 294.1h.9M88.2 292.3h.9M91.9 297.3h.9M84.0 298.4h.9M94.2 289.6h.9M95.2 292.6h.9M92.9 294.1h.9M89.9 283.8h.9M101.2 291.9h.9M109.7 293.9h.9M77.3 298.1h.9M88.9 294.7h.9M114.6 297.4h.9M85.3 291.6h.9M80.8 295.3h.9M100.0 287.0h.9M99.0 296.6h.9M102.1 288.8h.9M88.9 286.6h.9M83.6 293.6h.9M95.4 298.4h.9M97.4 290.5h.9M82.4 299.6h.9M96.5 291.9h.9M86.1 286.9h.9M100.6 287.3h.9M100.2 295.1h.9M91.6 284.1h.9M98.6 298.9h.9M87.7 285.9h.9M104.6 292.7h.9M89.5 298.0h.9M92.6 294.2h.9M91.4 288.4h.9M96.9 287.9h.9M79.3 289.4h.9M105.9 297.4h.9M114.2 296.9h.9M109.3 293.3h.9M91.2 294.3h.9M86.6 295.6h.9M91.0 293.3h.9M87.5 291.4h.9M103.7 291.0h.9M89.1 293.4h.9M102.8 291.1h.9M84.7 284.5h.9M83.2 297.2h.9M94.2 294.4h.9M104.5 293.4h.9M99.3 289.6h.9M80.8 295.1h.9M94.2 294.8h.9M85.6 291.4h.9M112.8 288.0h.9M95.9 298.4h.9M93.0 292.7h.9M76.2 295.8h.9M91.1 298.3h.9M94.2 290.3h.9M98.8 290.9h.9M90.5 299.5h.9M103.7 292.6h.9M102.1 296.0h.9M100.1 292.3h.9M95.6 294.0h.9M100.0 293.8h.9M90.1 291.7h.9M99.0 287.3h.9M94.9 295.7h.9M96.5 290.7h.9M94.8 289.7h.9M103.7 290.3h.9M80.3 286.3h.9M97.6 293.1h.9M90.8 285.8h.9M93.7 288.0h.9M89.2 292.1h.9M88.2 293.6h.9M88.5 289.8h.9M93.0 299.1h.9M108.9 296.6h.9M88.5 292.1h.9M103.1 295.9h.9M80.7 291.8h.9M88.5 295.7h.9M100.6 289.5h.9M113.9 290.7h.9M116.5 291.3h.9M94.3 301.2h.9M90.4 289.8h.9M108.0 291.9h.9M99.2 286.1h.9M110.8 296.8h.9M98.1 295.5h.9M90.6 289.8h.9M81.2 293.8h.9M105.9 296.2h.9M103.1 295.5h.9M86.9 285.8h.9M100.6 292.9h.9M103.7 290.8h.9M87.2 294.2h.9M90.1 284.3h.9M89.6 287.9h.9M85.2 289.5h.9M103.4 303.3h.9M110.2 290.1h.9M105.1 291.7h.9M98.5 288.9h.9M94.3 284.1h.9M110.8 288.4h.9M100.2 289.3h.9M97.4 286.5h.9M91.7 296.4h.9M100.2 282.8h.9M102.5 285.8h.9M97.5 294.6h.9M89.3 290.6h.9M92.8 294.0h.9M103.1 298.6h.9M97.9 301.6h.9M86.7 300.5h.9M92.7 295.7h.9M93.9 292.5h.9M86.9 293.9h.9M112.8 292.8h.9M94.8 292.1h.9M101.3 291.1h.9M95.0 293.1h.9M106.5 296.6h.9M85.7 289.1h.9M95.2 296.1h.9M103.5 291.1h.9M113.7 291.3h.9M107.4 298.8h.9M109.1 293.0h.9M100.1 284.8h.9M79.3 289.2h.9M101.3 297.1h.9M94.1 297.0h.9M133.0 298.4h.9M127.4 291.1h.9M129.1 287.9h.9M135.7 280.5h.9M129.4 291.3h.9M133.8 285.6h.9M133.4 292.1h.9M129.9 279.0h.9M129.2 286.5h.9M135.7 281.8h.9M128.8 296.6h.9M131.6 285.4h.9M134.3 293.2h.9M132.2 285.7h.9M129.3 281.6h.9M132.5 292.2h.9M129.2 294.1h.9M139.9 274.3h.9M127.2 300.0h.9M130.4 289.5h.9M133.1 288.4h.9M134.0 291.1h.9M134.5 288.2h.9M126.0 305.8h.9M127.2 302.5h.9M132.1 282.1h.9M131.7 296.1h.9M128.9 294.5h.9M129.6 287.4h.9M129.9 300.6h.9M133.2 288.8h.9M131.3 292.1h.9M132.2 291.3h.9M127.1 301.8h.9M129.3 278.3h.9M133.3 281.7h.9M131.1 291.0h.9M130.0 296.1h.9M130.8 290.3h.9M129.1 292.4h.9M128.9 294.5h.9M134.9 293.0h.9M132.6 281.7h.9M134.1 293.4h.9M136.8 271.3h.9M131.5 289.0h.9M134.3 281.2h.9M130.5 306.0h.9M134.0 276.1h.9M131.6 299.1h.9M129.9 296.5h.9M131.8 282.1h.9M129.9 299.8h.9M134.5 283.8h.9M134.4 283.3h.9M132.1 290.2h.9M128.3 296.8h.9M130.5 275.9h.9M129.4 288.6h.9M129.4 287.8h.9M129.7 278.6h.9M133.8 288.7h.9M132.2 288.7h.9M131.7 289.3h.9M128.7 285.4h.9M131.7 296.9h.9M132.1 299.9h.9M128.0 293.7h.9M129.9 300.3h.9M135.8 282.7h.9M133.4 287.3h.9M128.9 293.5h.9M128.8 303.5h.9M133.0 296.3h.9M132.4 275.4h.9M133.6 289.1h.9M125.4 299.0h.9M134.1 298.1h.9M128.9 298.9h.9M132.4 289.0h.9M130.8 295.1h.9M133.0 293.2h.9M130.5 284.4h.9M134.9 294.7h.9M130.1 292.6h.9M133.6 278.0h.9M132.8 303.9h.9M132.2 286.0h.9M136.7 284.7h.9M132.0 287.8h.9M132.0 279.7h.9M128.2 286.2h.9M133.8 287.7h.9M134.4 275.3h.9M130.0 301.6h.9M129.5 282.3h.9M129.6 291.3h.9M131.5 298.9h.9M134.9 296.2h.9M133.0 286.2h.9M130.2 283.7h.9M134.8 294.6h.9M131.7 285.4h.9M133.2 291.9h.9M131.9 283.6h.9M132.1 286.9h.9M133.4 292.3h.9M132.6 287.1h.9M135.4 290.9h.9M134.7 292.1h.9M133.2 291.3h.9M128.8 283.4h.9M129.1 297.6h.9M133.8 289.3h.9M131.7 301.7h.9M130.5 281.6h.9M127.5 293.9h.9M133.3 293.3h.9M130.9 296.6h.9M131.4 286.8h.9M130.5 296.7h.9M133.9 281.3h.9M129.0 294.8h.9M136.9 277.4h.9M128.3 297.4h.9M132.8 285.8h.9M131.4 294.0h.9M127.1 296.3h.9M133.0 294.7h.9M134.5 287.0h.9M127.8 303.5h.9M133.5 284.8h.9M134.1 294.0h.9M131.1 277.3h.9M130.3 287.9h.9M129.4 293.1h.9M128.7 296.7h.9M136.3 278.0h.9M134.2 284.6h.9M132.9 288.6h.9M134.8 282.8h.9M133.4 284.1h.9M132.1 290.2h.9M134.3 278.2h.9M128.1 303.5h.9M132.5 300.0h.9M128.9 295.4h.9M133.0 299.7h.9M131.4 288.5h.9M133.3 288.2h.9M129.6 297.9h.9M126.7 290.8h.9M135.0 283.8h.9M130.7 294.2h.9M134.4 290.7h.9M129.0 290.6h.9M134.2 287.1h.9M129.9 298.2h.9M134.4 300.5h.9M128.8 290.1h.9M129.7 295.3h.9M130.3 299.2h.9M124.7 305.0h.9M129.9 291.3h.9M132.9 290.5h.9M128.9 303.1h.9M133.0 286.3h.9M132.0 283.7h.9M128.4 293.0h.9M132.4 290.5h.9M129.5 285.1h.9M127.2 305.7h.9M132.4 285.1h.9M134.5 290.6h.9M130.5 288.6h.9M134.4 289.5h.9M135.7 288.1h.9M130.0 289.2h.9M129.7 294.7h.9M132.1 293.9h.9M132.6 283.3h.9M131.0 286.0h.9M132.7 281.6h.9M130.0 287.6h.9M129.9 291.4h.9M135.3 284.8h.9M127.9 293.6h.9M133.4 292.0h.9M132.1 302.2h.9M134.3 288.1h.9M134.6 279.2h.9M131.1 286.3h.9M132.0 300.2h.9M130.2 302.1h.9M128.9 302.7h.9M127.2 291.1h.9M134.0 287.4h.9M131.9 290.5h.9M132.0 289.4h.9M129.0 292.3h.9M131.8 285.3h.9M132.7 300.1h.9M127.4 292.8h.9M130.8 292.0h.9M131.7 286.4h.9M131.4 291.1h.9M131.3 300.5h.9M131.8 281.7h.9M127.5 299.3h.9M130.6 288.3h.9M128.1 293.3h.9M131.3 287.2h.9M130.6 297.4h.9M133.5 291.9h.9M131.1 283.4h.9M133.5 297.6h.9M134.7 294.1h.9M132.2 292.4h.9M131.5 298.6h.9M130.8 304.7h.9M133.5 286.7h.9M131.5 281.4h.9M129.7 291.4h.9M137.7 278.6h.9M133.8 288.7h.9M130.8 295.7h.9M126.5 302.8h.9M136.4 286.9h.9M131.3 292.2h.9M133.2 286.0h.9M131.8 293.7h.9M130.6 294.4h.9M132.3 294.3h.9M129.0 290.8h.9M130.4 299.5h.9M132.1 280.3h.9M128.3 306.5h.9M132.4 282.2h.9M129.2 294.6h.9M135.1 296.4h.9M130.6 290.3h.9M136.3 279.2h.9M135.4 288.3h.9M131.7 298.4h.9M132.7 284.5h.9M127.7 295.8h.9M132.8 297.6h.9M124.9 307.0h.9M133.1 298.2h.9M133.5 289.8h.9M132.6 292.1h.9M129.9 292.2h.9M131.8 287.9h.9M127.8 286.8h.9M132.8 292.6h.9M131.8 283.7h.9M133.6 286.0h.9M126.3 306.7h.9M127.7 309.1h.9M132.8 286.7h.9M125.6 294.0h.9M135.2 294.6h.9M132.2 279.9h.9M130.5 290.5h.9M132.7 288.8h.9M132.4 280.1h.9M129.9 301.6h.9M127.8 301.0h.9M137.3 287.9h.9M128.0 302.7h.9M126.8 298.7h.9M130.5 299.7h.9M134.5 288.5h.9M136.0 291.4h.9M130.3 286.6h.9M137.7 281.0h.9M132.5 289.0h.9M130.3 282.8h.9M131.1 290.8h.9M134.0 284.9h.9M127.6 289.3h.9M131.4 292.6h.9M133.3 286.5h.9M132.9 290.2h.9M135.8 285.5h.9M131.9 294.0h.9M134.6 281.7h.9M130.3 290.8h.9M126.1 305.4h.9M134.2 287.9h.9M140.0 288.4h.9M136.6 294.3h.9M133.8 279.7h.9M135.4 288.8h.9M128.5 295.0h.9M133.4 294.6h.9M131.9 287.3h.9M133.4 284.1h.9M131.3 295.8h.9M127.9 297.7h.9M126.6 291.4h.9M128.4 294.2h.9M133.3 288.5h.9M133.8 288.8h.9M131.0 294.6h.9M130.9 292.5h.9M134.1 284.4h.9M134.4 280.8h.9M130.9 281.2h.9M130.2 302.2h.9M132.4 297.6h.9M127.8 289.4h.9M132.7 294.6h.9M133.6 278.4h.9M132.8 289.0h.9M131.8 293.5h.9M130.8 281.7h.9M128.8 285.6h.9M128.2 294.2h.9M134.8 282.7h.9M129.6 286.4h.9M127.1 296.7h.9M130.3 291.0h.9M129.1 296.9h.9M128.5 298.0h.9M129.8 297.8h.9M129.3 296.4h.9M132.6 289.2h.9M135.6 287.1h.9M129.3 297.9h.9M129.4 290.3h.9M131.5 292.1h.9M135.8 275.2h.9M130.8 298.6h.9M131.1 293.4h.9M135.4 278.9h.9M131.6 295.7h.9M130.0 282.2h.9M129.0 295.2h.9M132.0 301.5h.9M134.9 277.6h.9M134.1 293.3h.9M135.6 285.1h.9M130.1 293.6h.9M135.4 290.0h.9M135.8 290.5h.9M130.0 286.7h.9M136.2 276.2h.9M130.6 290.2h.9M129.2 290.3h.9M131.5 305.3h.9M131.3 288.0h.9M131.8 296.3h.9M129.4 291.1h.9M127.1 300.6h.9M133.2 298.0h.9M128.5 307.8h.9M133.7 286.7h.9M130.5 290.3h.9M128.4 299.4h.9M130.0 288.5h.9M132.8 290.1h.9M130.0 291.4h.9M130.3 300.7h.9M134.0 283.5h.9M131.4 299.4h.9M130.8 302.7h.9M132.6 293.7h.9M126.2 302.5h.9M132.4 293.5h.9M132.7 292.7h.9M130.2 298.0h.9M131.7 284.5h.9M128.9 295.1h.9M132.4 276.6h.9M126.3 303.7h.9M131.5 308.3h.9M127.6 294.2h.9M130.0 296.2h.9M135.1 296.4h.9M128.9 301.6h.9M128.4 296.6h.9M131.9 294.2h.9M129.5 301.6h.9M131.3 291.1h.9M130.8 285.4h.9M133.3 290.8h.9M132.7 300.9h.9M129.3 291.9h.9M131.5 296.2h.9M131.0 297.2h.9M132.7 278.9h.9M129.8 280.8h.9M130.8 289.4h.9M133.0 290.2h.9M131.3 298.8h.9M130.6 304.4h.9M120.6 318.0h.9M139.3 317.6h.9M124.7 318.4h.9M132.1 316.7h.9M128.3 312.2h.9M121.7 306.5h.9M131.1 311.6h.9M130.3 321.4h.9M133.6 290.0h.9M118.5 301.2h.9M124.7 324.1h.9M145.8 337.6h.9M136.6 322.9h.9M123.0 320.8h.9M109.0 321.1h.9M126.1 322.5h.9M118.0 302.3h.9M121.0 314.2h.9M128.7 313.0h.9M128.7 323.9h.9M116.9 312.4h.9M113.8 306.9h.9M133.1 310.5h.9M140.6 325.3h.9M133.0 319.0h.9M132.8 329.3h.9M126.8 310.7h.9M121.7 335.0h.9M124.6 310.8h.9M120.5 296.8h.9M122.1 318.3h.9M122.2 307.0h.9M129.2 321.7h.9M122.6 318.3h.9M118.4 322.9h.9M118.3 310.4h.9M127.1 311.9h.9M117.1 335.5h.9M137.9 301.0h.9M126.9 303.0h.9M128.4 303.0h.9M130.5 322.8h.9M139.4 332.3h.9M122.4 324.9h.9M122.4 313.8h.9M122.1 296.5h.9M130.7 296.0h.9M124.2 321.0h.9M126.9 299.7h.9M120.9 321.7h.9M134.6 335.1h.9M111.8 316.9h.9M122.2 323.0h.9M112.8 310.9h.9M131.5 310.8h.9M123.2 304.9h.9M134.7 304.5h.9M118.9 310.6h.9M123.5 337.5h.9M128.1 307.9h.9M130.5 320.9h.9M128.2 315.9h.9M129.6 304.7h.9M116.6 309.0h.9M117.4 321.0h.9M141.2 333.1h.9M129.5 320.5h.9M120.6 300.9h.9M130.3 301.7h.9M128.4 315.2h.9M131.9 318.1h.9M126.8 310.1h.9M112.5 308.7h.9M131.4 328.5h.9M136.8 308.5h.9M118.7 321.3h.9M122.5 342.0h.9M128.5 300.7h.9M121.7 331.3h.9M111.7 313.7h.9M115.2 329.8h.9M122.5 304.2h.9M112.6 304.8h.9M106.0 305.5h.9M143.0 321.7h.9M123.9 303.2h.9M128.7 311.8h.9M119.4 328.7h.9M129.4 307.6h.9M137.6 318.6h.9M129.9 318.6h.9M135.2 325.0h.9M123.3 322.8h.9M122.9 316.6h.9M138.8 308.4h.9M117.9 309.6h.9M122.1 328.6h.9M113.6 336.7h.9M138.4 314.7h.9M127.5 312.6h.9M131.3 324.4h.9M131.9 325.7h.9M141.1 318.4h.9M131.5 315.5h.9M126.3 318.4h.9M125.6 319.5h.9M119.3 312.6h.9M121.3 302.4h.9M120.5 309.3h.9M124.8 299.3h.9M124.0 303.6h.9M119.6 316.2h.9M134.7 321.4h.9M122.2 310.3h.9M136.5 301.8h.9M134.9 302.7h.9M121.0 315.1h.9M124.3 333.0h.9M129.9 316.6h.9M133.5 318.4h.9M119.7 326.1h.9M137.7 332.7h.9M116.8 333.5h.9M122.7 323.2h.9M135.3 343.6h.9M113.3 301.8h.9M135.2 323.7h.9M123.6 284.5h.9M129.5 315.0h.9M105.5 338.5h.9M106.4 304.7h.9M126.0 318.4h.9M131.9 314.8h.9M119.0 310.3h.9M109.5 299.7h.9M141.5 313.0h.9M125.4 335.8h.9M134.2 319.6h.9M131.8 314.7h.9M118.9 324.6h.9M127.1 333.2h.9M123.9 311.5h.9M128.7 314.7h.9M123.6 305.9h.9M128.0 320.0h.9M140.3 319.7h.9M112.2 317.1h.9M143.9 316.3h.9M119.7 312.5h.9M103.6 306.3h.9M124.5 299.7h.9M130.5 308.0h.9M111.5 304.4h.9M131.0 337.6h.9M135.8 320.8h.9M122.0 312.1h.9M133.6 312.6h.9M129.3 327.1h.9M118.9 307.8h.9M129.5 317.1h.9M125.0 310.2h.9M125.5 335.4h.9M136.7 301.9h.9M126.4 317.1h.9M126.3 301.5h.9M125.0 317.3h.9M120.7 317.8h.9M106.9 294.8h.9M126.8 320.3h.9M124.7 310.8h.9M127.5 327.8h.9M133.1 317.1h.9M122.3 326.2h.9M130.2 326.5h.9M123.8 306.3h.9M127.5 309.8h.9M135.0 327.5h.9M108.9 318.3h.9M136.5 329.8h.9M122.3 305.9h.9M133.6 328.8h.9M126.5 304.0h.9M114.0 315.5h.9M119.5 307.0h.9M129.5 328.0h.9M109.8 304.5h.9M136.2 318.4h.9M123.3 322.0h.9M117.1 300.6h.9M126.2 332.5h.9M134.0 318.1h.9M133.9 313.9h.9M116.7 295.8h.9M128.1 326.1h.9M128.9 316.4h.9M122.9 326.6h.9M125.6 300.7h.9M136.8 312.1h.9M129.1 316.9h.9M134.3 320.9h.9M135.6 320.9h.9M122.4 309.6h.9M131.1 308.7h.9M133.3 315.5h.9M118.7 304.8h.9M124.9 334.4h.9M132.1 317.9h.9M118.9 334.2h.9M123.8 315.4h.9M122.7 329.2h.9M127.4 311.6h.9M127.5 305.9h.9M117.7 312.0h.9M103.4 322.2h.9M141.6 308.6h.9M124.9 299.0h.9M127.4 318.6h.9M131.8 303.5h.9M121.3 307.9h.9M124.1 339.6h.9M124.4 315.1h.9M122.0 323.3h.9M146.1 333.8h.9M138.0 308.0h.9M134.3 318.6h.9M135.8 329.9h.9M131.1 299.7h.9M127.1 311.0h.9M129.5 317.4h.9M134.2 301.3h.9M120.2 313.6h.9M128.5 312.4h.9M125.8 316.5h.9M134.2 317.1h.9M127.9 297.3h.9M105.4 294.9h.9M128.8 292.4h.9M129.2 315.9h.9M126.0 308.3h.9M122.7 323.9h.9M128.8 316.5h.9M122.2 317.2h.9M135.4 318.4h.9M123.1 302.7h.9M126.8 306.5h.9M114.7 322.1h.9M121.1 293.1h.9M120.3 333.9h.9M125.2 301.7h.9M117.3 321.2h.9M129.2 319.1h.9M124.5 320.7h.9M138.1 324.5h.9M124.7 300.8h.9M129.5 333.6h.9M131.1 304.1h.9M127.5 330.2h.9M121.0 319.9h.9M135.5 335.9h.9M113.5 294.1h.9M128.9 324.3h.9M123.2 315.0h.9M122.8 327.8h.9M108.6 313.9h.9M115.9 306.1h.9M113.9 303.0h.9M125.8 316.2h.9M140.1 317.5h.9M128.7 320.5h.9M128.0 332.1h.9M127.1 317.9h.9M125.1 315.8h.9M125.6 326.4h.9M126.2 316.8h.9M125.6 323.9h.9M122.3 324.9h.9M121.5 322.1h.9M141.1 322.6h.9M125.3 303.3h.9M131.8 317.7h.9M133.2 311.0h.9M130.1 336.3h.9M129.2 313.4h.9M115.7 313.1h.9M131.2 323.8h.9M117.2 302.7h.9M118.3 303.0h.9M123.8 318.2h.9M141.2 322.3h.9M137.5 301.6h.9M138.2 327.8h.9M129.5 325.7h.9M130.9 337.7h.9M132.4 299.3h.9M112.2 329.3h.9M125.3 329.9h.9M123.3 308.3h.9M123.3 318.6h.9M127.5 309.8h.9M130.2 323.7h.9M118.8 302.2h.9M110.5 308.5h.9M126.1 308.6h.9M121.2 313.3h.9M126.2 322.1h.9M132.6 322.5h.9M134.8 308.1h.9M130.8 321.3h.9M117.8 306.5h.9M129.5 317.8h.9M116.1 307.4h.9M138.1 328.3h.9M126.6 330.5h.9M118.8 312.2h.9M133.6 314.5h.9M117.2 319.8h.9M138.7 292.5h.9M127.2 303.0h.9M123.6 300.3h.9M146.6 314.4h.9M126.4 308.6h.9M118.2 309.0h.9M127.6 335.1h.9M128.3 333.3h.9M117.6 314.4h.9M122.5 298.4h.9M127.9 308.5h.9M121.4 303.7h.9M134.1 313.9h.9M124.9 317.6h.9M116.3 315.8h.9M124.6 320.4h.9M123.0 315.6h.9M130.1 327.4h.9M120.6 324.9h.9M118.2 311.8h.9M127.0 317.8h.9M106.3 300.2h.9M124.5 325.4h.9M120.4 330.6h.9M111.7 312.9h.9M130.3 317.4h.9M128.1 326.5h.9M119.6 320.5h.9M134.4 315.8h.9M107.7 298.3h.9M119.2 302.9h.9M129.4 308.4h.9M145.6 327.5h.9M115.7 310.1h.9M138.1 326.6h.9M117.9 324.8h.9M122.2 338.5h.9M121.6 321.2h.9M130.5 312.5h.9M124.8 328.0h.9M129.9 316.4h.9M129.5 335.6h.9M133.4 323.1h.9M128.6 300.1h.9M127.1 311.1h.9M131.8 311.1h.9M129.5 305.8h.9M133.1 310.2h.9M125.8 322.1h.9M123.4 315.4h.9M134.4 337.1h.9M111.7 302.5h.9M131.3 327.5h.9M122.3 316.0h.9M124.5 339.8h.9M124.4 302.9h.9M113.7 299.0h.9M136.3 314.7h.9M141.4 327.0h.9M129.0 323.7h.9M132.2 327.5h.9M118.3 307.9h.9M121.7 315.9h.9M124.0 302.3h.9M120.5 333.5h.9M142.8 311.5h.9M129.0 316.4h.9M119.3 321.8h.9M125.5 333.6h.9M129.6 313.7h.9M105.1 309.2h.9M132.7 310.3h.9M133.0 325.2h.9M112.0 310.1h.9M128.5 324.7h.9M127.2 316.2h.9M123.3 312.2h.9M126.0 304.7h.9M131.1 313.9h.9M130.1 311.7h.9M129.2 318.2h.9M133.0 322.9h.9M133.4 316.3h.9M125.6 313.1h.9M116.1 311.9h.9M134.6 326.6h.9M119.3 317.3h.9M131.9 303.2h.9M128.8 320.3h.9M131.9 320.4h.9M112.2 290.8h.9M141.7 316.1h.9M136.1 332.2h.9M126.7 304.0h.9M136.8 318.6h.9M130.1 322.2h.9M133.5 328.8h.9M114.8 297.9h.9M127.1 316.4h.9M132.1 316.3h.9M124.6 337.2h.9M136.9 331.3h.9M134.2 309.9h.9M125.3 315.1h.9M117.4 304.4h.9M127.3 303.5h.9M130.3 322.2h.9M124.1 311.9h.9M130.8 322.4h.9M128.9 303.8h.9M113.2 334.2h.9M120.8 310.7h.9M111.6 303.6h.9M120.2 322.9h.9M105.1 295.4h.9M122.7 309.9h.9M119.9 309.6h.9M113.5 315.4h.9M135.4 320.2h.9M121.8 328.2h.9M129.9 306.1h.9M121.5 308.3h.9M125.6 328.8h.9M120.4 312.9h.9M126.9 303.6h.9M122.2 321.5h.9M134.9 298.6h.9M131.6 314.5h.9M136.2 325.4h.9M141.6 323.6h.9M122.9 306.3h.9M114.7 318.8h.9M130.1 325.8h.9M128.8 300.9h.9M122.8 312.5h.9M127.3 324.5h.9M137.2 322.1h.9M109.7 300.7h.9M109.1 303.3h.9M116.5 315.9h.9M124.3 327.3h.9M134.5 313.5h.9M133.5 318.2h.9M129.6 331.3h.9M116.9 312.8h.9M138.2 311.3h.9M127.7 317.9h.9M122.7 301.3h.9M120.6 304.1h.9M134.5 321.0h.9M131.6 305.0h.9M130.0 318.6h.9M134.3 310.7h.9M132.4 332.3h.9M140.3 310.1h.9M117.1 298.1h.9M133.6 324.4h.9M128.7 307.6h.9M135.9 335.7h.9M125.7 314.7h.9M135.4 323.9h.9M136.6 314.7h.9M128.7 313.2h.9M121.5 311.6h.9M123.8 320.7h.9M123.6 316.1h.9M119.6 301.3h.9M137.3 308.7h.9M140.3 329.9h.9M107.9 304.3h.9M122.7 315.3h.9M124.6 309.2h.9M135.9 317.4h.9M133.6 310.9h.9M120.6 328.6h.9M123.8 303.8h.9M124.7 326.7h.9M124.7 308.1h.9M131.0 327.8h.9M124.4 312.2h.9M123.1 343.7h.9M124.5 334.0h.9M124.8 320.0h.9M109.9 313.5h.9M126.4 312.8h.9M122.8 300.7h.9M84.8 312.4h.9M102.9 300.2h.9M98.4 281.2h.9M72.2 340.3h.9M146.9 318.9h.9M78.3 281.8h.9M108.3 291.4h.9M135.3 282.6h.9M108.8 345.8h.9M99.7 324.2h.9M121.1 307.2h.9M108.4 336.3h.9M92.5 291.0h.9M141.6 310.5h.9M91.3 313.7h.9M100.0 324.1h.9M113.0 286.6h.9M119.3 306.1h.9M77.7 335.3h.9M72.0 291.9h.9M107.6 318.5h.9M120.3 272.4h.9M101.2 305.2h.9M80.3 340.6h.9M136.0 311.7h.9M100.6 307.0h.9M99.5 278.0h.9M125.8 339.6h.9M116.5 290.6h.9M124.0 314.6h.9M143.0 325.1h.9M85.0 338.1h.9M140.2 285.7h.9M80.6 291.4h.9M88.1 317.2h.9M138.8 343.4h.9M122.8 284.6h.9M128.9 333.5h.9M71.8 327.4h.9M117.8 329.9h.9M74.5 306.6h.9M108.0 306.6h.9M93.1 289.4h.9M140.3 303.8h.9M78.1 325.7h.9M78.2 309.9h.9M90.1 288.0h.9M101.4 291.0h.9M98.6 272.2h.9M94.7 320.5h.9M127.2 326.0h.9M120.3 332.5h.9M90.8 291.7h.9M134.5 303.0h.9M110.7 334.1h.9M83.2 304.2h.9M132.2 273.2h.9M86.1 288.1h.9M141.9 330.6h.9M146.5 305.4h.9M98.9 305.1h.9M83.0 335.7h.9M79.6 313.1h.9M115.2 330.2h.9M91.6 282.0h.9M114.7 309.3h.9M148.8 285.4h.9M78.7 293.1h.9M90.0 322.7h.9M79.4 307.8h.9M76.6 306.0h.9M117.4 333.4h.9M126.2 317.5h.9M97.9 281.0h.9M144.4 337.1h.9" stroke="#000" stroke-width="0.8" stroke-opacity="0.33" fill="none"/>
<rect x="69.7" y="269.4" width="80.7" height="78.90000000000003" fill="none" stroke="#222" stroke-width="1" />
<line x1="109.6" y1="269.4" x2="109.6" y2="348.3" stroke="#333" stroke-width="1" />
<line x1="69.7" y1="301.1" x2="150.4" y2="301.1" stroke="#333" stroke-width="1" />
<text x="101.4" y="258.5" font-size="13" font-weight="bold" textLength="17.3" lengthAdjust="spacingAndGlyphs" >+/+</text>
<text x="71.3" y="282.8" font-size="13" font-weight="bold" >6.4</text>
<text x="146.4" y="282.8" font-size="13" font-weight="bold" text-anchor="end" >10.4</text>
<text x="71.3" y="343.8" font-size="13" font-weight="bold" >71.7</text>
<text x="145.9" y="343.8" font-size="13" font-weight="bold" text-anchor="end" >11.5</text>
<line x1="69.7" y1="348.3" x2="69.7" y2="350.3" stroke="#555" stroke-width="0.8" />
<text x="69.7" y="355.3" font-size="4.5" text-anchor="middle" fill="#666" >10</text>
<line x1="67.7" y1="348.3" x2="69.7" y2="348.3" stroke="#555" stroke-width="0.8" />
<text transform="translate(66.2,348.3) rotate(-90)" font-size="4.5" text-anchor="middle" fill="#666" >10</text>
<line x1="89.875" y1="348.3" x2="89.875" y2="350.3" stroke="#555" stroke-width="0.8" />
<text x="89.875" y="355.3" font-size="4.5" text-anchor="middle" fill="#666" >10</text>
<line x1="67.7" y1="328.575" x2="69.7" y2="328.575" stroke="#555" stroke-width="0.8" />
<text transform="translate(66.2,328.575) rotate(-90)" font-size="4.5" text-anchor="middle" fill="#666" >10</text>
<line x1="110.05000000000001" y1="348.3" x2="110.05000000000001" y2="350.3" stroke="#555" stroke-width="0.8" />
<text x="110.05000000000001" y="355.3" font-size="4.5" text-anchor="middle" fill="#666" >10</text>
<line x1="67.7" y1="308.85" x2="69.7" y2="308.85" stroke="#555" stroke-width="0.8" />
<text transform="translate(66.2,308.85) rotate(-90)" font-size="4.5" text-anchor="middle" fill="#666" >10</text>
<line x1="130.22500000000002" y1="348.3" x2="130.22500000000002" y2="350.3" stroke="#555" stroke-width="0.8" />
<text x="130.22500000000002" y="355.3" font-size="4.5" text-anchor="middle" fill="#666" >10</text>
<line x1="67.7" y1="289.125" x2="69.7" y2="289.125" stroke="#555" stroke-width="0.8" />
<text transform="translate(66.2,289.125) rotate(-90)" font-size="4.5" text-anchor="middle" fill="#666" >10</text>
<line x1="150.4" y1="348.3" x2="150.4" y2="350.3" stroke="#555" stroke-width="0.8" />
<text x="150.4" y="355.3" font-size="4.5" text-anchor="middle" fill="#666" >10</text>
<line x1="67.7" y1="269.4" x2="69.7" y2="269.4" stroke="#555" stroke-width="0.8" />
<text transform="translate(66.2,269.4) rotate(-90)" font-size="4.5" text-anchor="middle" fill="#666" >10</text>
<text x="110.05000000000001" y="360.8" font-size="4.5" text-anchor="middle" fill="#666" >FL2-H</text>
<text transform="translate(61.7,308.85) rotate(-90)" font-size="4.5" text-anchor="middle" fill="#666" >FL3-H</text>
<rect x="160.7" y="260.2" width="98.5" height="101.0" fill="none" stroke="#ececec" stroke-width="1" />
<path d="M192.7 314.6h.9M184.1 312.2h.9M187.2 316.0h.9M192.9 310.3h.9M186.4 321.5h.9M192.5 335.7h.9M190.9 310.3h.9M184.0 308.8h.9M188.9 318.7h.9M188.3 311.4h.9M187.7 315.7h.9M191.2 317.9h.9M185.0 306.0h.9M195.1 317.7h.9M187.8 316.1h.9M193.5 315.4h.9M189.3 314.8h.9M191.1 309.0h.9M189.5 325.2h.9M193.8 323.0h.9M189.9 329.7h.9M191.7 328.8h.9M183.3 306.1h.9M192.1 315.4h.9M186.6 308.3h.9M195.1 308.7h.9M189.0 305.3h.9M187.8 334.6h.9M199.3 315.6h.9M184.1 328.5h.9M184.8 300.9h.9M190.1 308.2h.9M182.2 323.9h.9M185.3 307.0h.9M189.3 315.2h.9M193.5 318.7h.9M195.6 327.8h.9M196.4 327.9h.9M188.9 321.1h.9M188.7 303.9h.9M183.4 321.1h.9M178.1 306.9h.9M182.9 314.4h.9M184.0 317.3h.9M187.7 312.5h.9M184.8 297.4h.9M188.9 306.1h.9M187.3 319.2h.9M193.2 323.6h.9M195.1 306.8h.9M191.5 330.1h.9M190.3 308.0h.9M190.3 312.8h.9M185.7 324.4h.9M187.8 307.2h.9M185.6 331.7h.9M184.8 321.0h.9M189.4 326.3h.9M187.3 308.5h.9M185.7 307.4h.9M200.0 321.4h.9M187.2 326.4h.9M191.5 315.9h.9M191.3 319.5h.9M193.5 331.4h.9M187.2 315.9h.9M187.8 326.3h.9M190.3 323.4h.9M192.5 312.5h.9M189.1 328.0h.9M192.6 324.3h.9M187.3 313.3h.9M184.8 313.3h.9M188.3 304.8h.9M193.7 311.8h.9M189.7 321.7h.9M186.1 301.2h.9M192.8 321.1h.9M187.5 325.4h.9M192.5 309.9h.9M188.2 302.1h.9M187.4 327.7h.9M184.9 322.2h.9M181.9 312.3h.9M192.7 331.7h.9M190.6 323.3h.9M196.1 298.9h.9M181.1 329.8h.9M199.4 324.5h.9M188.9 318.7h.9M188.7 311.6h.9M188.5 315.5h.9M191.5 322.9h.9M192.9 322.5h.9M184.3 326.6h.9M176.8 314.2h.9M190.0 312.6h.9M196.8 310.0h.9M183.4 311.0h.9M190.4 323.5h.9M189.1 322.1h.9M185.5 310.8h.9M189.1 305.8h.9M189.4 313.6h.9M191.6 309.2h.9M186.3 311.3h.9M187.0 308.0h.9M187.4 305.2h.9M190.9 322.7h.9M188.5 315.0h.9M184.7 307.6h.9M187.6 308.9h.9M183.4 316.4h.9M188.5 313.2h.9M185.0 315.1h.9M185.5 312.2h.9M189.4 322.6h.9M191.9 312.6h.9M193.9 308.6h.9M187.8 326.9h.9M198.9 320.5h.9M187.0 313.1h.9M183.3 313.9h.9M186.7 309.9h.9M193.8 311.7h.9M196.0 325.5h.9M191.4 312.6h.9M186.4 299.7h.9M189.8 314.7h.9M190.3 311.6h.9M190.7 305.0h.9M179.0 317.7h.9M193.3 292.3h.9M194.2 315.3h.9M187.9 303.9h.9M184.2 321.1h.9M185.4 315.3h.9M187.9 332.5h.9M192.5 306.9h.9M186.5 306.6h.9M182.5 309.3h.9M193.4 318.3h.9M191.5 316.3h.9M186.7 316.7h.9M188.2 332.1h.9M196.4 321.8h.9M191.2 301.1h.9M188.0 335.8h.9M185.1 322.2h.9M193.9 314.8h.9M187.6 312.6h.9M192.0 317.7h.9M195.1 328.0h.9M188.5 337.6h.9M187.2 311.2h.9M187.5 309.1h.9M186.7 315.4h.9M192.4 304.8h.9M182.5 308.5h.9M187.2 319.9h.9M185.1 327.8h.9M186.3 314.1h.9M188.8 326.1h.9M189.9 317.1h.9M186.2 317.2h.9M190.3 314.2h.9M188.5 301.5h.9M186.3 325.5h.9M194.7 317.7h.9M179.2 328.8h.9M187.8 337.2h.9M186.8 324.2h.9M185.9 326.9h.9M193.6 309.3h.9M194.2 341.4h.9M187.6 306.4h.9M189.8 313.6h.9M182.1 306.1h.9M189.6 304.4h.9M193.2 321.5h.9M187.8 327.7h.9M184.5 321.0h.9M182.7 312.2h.9M191.3 313.0h.9M188.1 321.7h.9M195.2 329.0h.9M190.5 315.0h.9M182.3 328.7h.9M196.7 301.3h.9M192.3 317.2h.9M191.6 320.0h.9M187.7 316.3h.9M188.4 326.0h.9M187.4 311.8h.9M191.4 322.6h.9M190.4 319.4h.9M194.9 327.4h.9M189.5 315.1h.9M191.4 302.1h.9M186.3 310.1h.9M189.3 313.6h.9M199.2 325.6h.9M190.3 335.4h.9M188.5 313.9h.9M193.9 324.8h.9M192.6 327.5h.9M187.0 310.7h.9M185.4 316.5h.9M192.9 309.2h.9M186.2 304.9h.9M197.2 325.5h.9M189.5 306.8h.9M184.1 310.0h.9M188.7 306.2h.9M187.6 326.2h.9M188.6 317.3h.9M179.5 311.7h.9M187.9 310.7h.9M182.6 314.2h.9M184.1 310.8h.9M181.6 313.8h.9M192.5 310.8h.9M189.9 304.5h.9M191.0 321.7h.9M186.9 323.3h.9M184.7 315.8h.9M195.8 318.4h.9M183.7 324.6h.9M190.9 314.9h.9M180.7 298.9h.9M182.0 326.8h.9M189.8 309.9h.9M193.5 329.9h.9M184.9 319.4h.9M181.4 317.6h.9M196.4 307.2h.9M188.8 311.4h.9M188.1 317.1h.9M189.8 324.2h.9M190.8 325.7h.9M192.9 326.8h.9M185.6 319.0h.9M186.9 309.2h.9M197.0 321.3h.9M188.7 299.3h.9M187.5 322.6h.9M187.7 311.8h.9M194.9 315.8h.9M187.1 315.3h.9M187.5 324.8h.9M191.0 316.6h.9M187.0 314.2h.9M195.8 316.1h.9M191.4 304.4h.9M189.9 322.6h.9M194.0 320.7h.9M191.0 319.9h.9M193.1 334.6h.9M189.4 310.1h.9M191.1 316.3h.9M191.3 323.7h.9M189.2 313.1h.9M189.9 306.7h.9M189.7 309.6h.9M190.5 318.1h.9M187.6 306.4h.9M188.8 311.0h.9M187.9 322.0h.9M192.6 307.1h.9M192.6 328.8h.9M193.4 320.2h.9M188.2 330.7h.9M187.2 303.6h.9M188.9 319.0h.9M184.1 305.3h.9M197.1 319.9h.9M191.9 312.7h.9M182.0 313.2h.9M194.3 312.7h.9M180.8 312.9h.9M187.3 316.3h.9M184.1 312.7h.9M186.2 323.1h.9M189.2 323.8h.9M188.3 299.0h.9M180.1 318.5h.9M192.3 324.8h.9M188.2 301.8h.9M186.4 319.2h.9M194.5 315.4h.9M186.1 309.5h.9M192.9 324.9h.9M180.7 324.2h.9M184.6 303.3h.9M181.7 308.6h.9M198.5 340.3h.9M183.2 309.5h.9M189.2 320.1h.9M186.5 302.9h.9M186.8 310.4h.9M180.8 315.5h.9M182.2 300.5h.9M195.1 326.1h.9M194.8 319.3h.9M186.8 315.3h.9M182.7 320.9h.9M189.7 314.4h.9M180.5 313.3h.9M195.6 330.4h.9M192.3 314.7h.9M189.1 321.2h.9M189.4 325.3h.9M185.7 296.7h.9M178.1 306.1h.9M182.6 320.3h.9M193.2 317.8h.9M190.9 317.8h.9M189.3 312.9h.9M186.8 325.8h.9M187.4 315.9h.9M193.7 326.1h.9M186.9 318.1h.9M184.2 316.4h.9M189.9 316.9h.9M189.3 319.7h.9M177.6 306.7h.9M188.9 312.6h.9M184.4 313.4h.9M195.5 316.6h.9M185.8 311.8h.9M183.4 319.0h.9M184.3 322.8h.9M192.5 322.3h.9M193.0 317.1h.9M181.0 313.8h.9M191.3 304.6h.9M183.3 324.0h.9M190.4 328.1h.9M191.4 317.9h.9M190.4 324.0h.9M188.4 314.8h.9M189.9 314.3h.9M198.9 313.2h.9M182.0 304.1h.9M193.1 314.5h.9M189.2 314.9h.9M189.8 304.9h.9M188.9 311.9h.9M193.2 323.0h.9M183.1 307.0h.9M191.0 327.0h.9M191.9 316.2h.9M193.4 298.5h.9M186.2 307.9h.9M184.1 319.9h.9M189.8 319.2h.9M188.0 321.5h.9M191.9 312.8h.9M192.6 310.0h.9M196.2 308.0h.9M187.3 307.3h.9M188.7 327.4h.9M185.3 330.2h.9M194.7 321.4h.9M186.0 323.2h.9M176.2 306.7h.9M192.7 317.4h.9M199.3 314.0h.9M182.8 313.1h.9M191.1 331.3h.9M180.9 315.6h.9M194.0 312.5h.9M186.6 306.0h.9M191.9 324.3h.9M191.1 319.3h.9M192.9 316.7h.9M191.7 324.1h.9M194.2 322.3h.9M188.9 322.5h.9M181.8 300.1h.9M195.6 319.7h.9M184.0 310.4h.9M187.9 316.9h.9M185.2 323.8h.9M181.1 337.5h.9M183.8 328.9h.9M191.5 303.5h.9M183.2 315.5h.9M189.7 313.4h.9M188.6 317.9h.9M183.6 315.6h.9M198.5 314.0h.9M184.1 320.7h.9M194.4 326.8h.9M185.8 315.1h.9M189.4 315.0h.9M190.3 326.0h.9M191.0 317.1h.9M187.7 331.1h.9M183.2 331.6h.9M191.8 318.2h.9M185.3 330.8h.9M193.9 325.6h.9M197.7 304.3h.9M189.0 314.1h.9M185.4 316.2h.9M190.9 321.5h.9M187.9 305.4h.9M191.0 322.3h.9M197.9 326.9h.9M188.6 307.0h.9M200.6 314.3h.9M189.4 323.0h.9M190.8 328.2h.9M184.0 309.5h.9M189.3 306.5h.9M185.9 327.2h.9M189.9 316.0h.9M186.0 316.2h.9M188.4 307.5h.9M192.0 306.9h.9M194.2 315.3h.9M178.5 300.8h.9M189.8 309.7h.9M196.6 330.3h.9M197.9 326.6h.9M194.6 313.2h.9M194.3 314.5h.9M188.3 305.1h.9M188.8 319.9h.9M188.3 307.2h.9M192.6 325.2h.9M188.2 322.9h.9M192.9 309.6h.9M188.4 301.0h.9M184.0 318.8h.9M184.6 318.7h.9M190.2 299.8h.9M186.4 328.6h.9M188.6 317.6h.9M185.4 302.3h.9M181.5 338.5h.9M187.7 309.0h.9M189.1 300.5h.9M194.8 332.6h.9M185.2 318.3h.9M184.5 322.5h.9M184.8 314.3h.9M194.4 322.5h.9M187.1 303.4h.9M181.4 324.5h.9M190.9 317.6h.9M194.2 319.3h.9M185.3 314.7h.9M188.1 316.3h.9M199.7 324.5h.9M189.8 314.8h.9M185.5 307.3h.9M180.1 310.3h.9M181.7 299.1h.9M184.3 298.3h.9M194.7 328.7h.9M184.2 332.4h.9M191.5 296.2h.9M188.6 308.2h.9M180.7 312.1h.9M193.7 321.7h.9M182.0 309.1h.9M185.1 325.2h.9M188.1 308.2h.9M184.4 298.8h.9M184.8 323.0h.9M179.9 315.7h.9M188.0 323.2h.9M183.4 322.7h.9M195.5 337.7h.9M181.2 314.2h.9M187.6 317.3h.9M184.1 322.5h.9M199.1 332.2h.9M184.2 310.4h.9M191.8 318.6h.9M185.1 325.9h.9M190.9 325.8h.9M187.7 327.0h.9M186.4 306.5h.9M188.5 304.8h.9M194.2 324.3h.9M180.9 315.8h.9M192.4 314.6h.9M190.4 312.1h.9M188.2 315.7h.9M190.7 309.0h.9M183.4 317.8h.9M186.2 320.2h.9M186.3 304.8h.9M191.9 319.7h.9M191.8 314.6h.9M186.9 326.7h.9M180.9 329.0h.9M190.9 316.7h.9M188.9 321.7h.9M185.0 317.9h.9M184.2 299.7h.9M189.4 317.6h.9M191.5 322.0h.9M191.7 324.1h.9M183.8 325.4h.9M200.6 315.2h.9M182.8 320.7h.9M192.7 326.2h.9M195.5 306.8h.9M190.2 320.9h.9M194.2 310.6h.9M188.6 313.4h.9M187.8 315.1h.9M187.8 301.4h.9M188.4 317.0h.9M186.8 286.1h.9M185.4 310.1h.9M184.6 328.9h.9M192.7 316.1h.9M191.2 345.0h.9M184.1 319.3h.9M185.8 328.3h.9M193.5 316.9h.9M191.3 310.6h.9M181.4 321.6h.9M195.9 316.0h.9M186.1 300.7h.9M198.2 309.1h.9M184.1 313.6h.9M194.0 318.5h.9M188.4 316.7h.9M192.4 317.3h.9M189.2 316.1h.9M183.5 326.4h.9M185.4 304.5h.9M186.5 316.2h.9M192.2 305.1h.9M182.8 316.4h.9M190.2 307.7h.9M183.4 316.5h.9M187.9 302.7h.9M184.5 327.9h.9M183.7 324.0h.9M181.6 327.1h.9M195.8 313.2h.9M185.4 320.9h.9M182.9 319.6h.9M194.0 320.3h.9M190.0 315.6h.9M193.0 310.9h.9M195.7 318.3h.9M187.0 302.3h.9M186.5 317.9h.9M194.1 304.5h.9M187.9 310.5h.9M183.1 315.0h.9M185.1 322.9h.9M176.3 319.3h.9M179.9 297.6h.9M190.9 314.3h.9M189.1 308.5h.9M183.8 308.9h.9M188.3 309.3h.9M186.6 308.7h.9M189.6 307.2h.9M179.1 291.7h.9M188.4 317.3h.9M192.9 311.5h.9M183.4 302.5h.9M191.9 312.2h.9M193.0 317.1h.9M187.3 300.4h.9M185.4 322.3h.9M185.7 321.4h.9M181.1 323.0h.9M201.1 329.5h.9M190.0 306.5h.9M186.1 310.3h.9M189.3 299.7h.9M184.6 322.1h.9M189.2 323.0h.9M192.4 307.9h.9M182.4 318.7h.9M188.7 317.2h.9M184.8 324.1h.9M190.7 326.8h.9M186.9 321.9h.9M188.2 308.5h.9M188.1 302.4h.9M187.7 317.8h.9M191.6 308.5h.9M182.5 308.6h.9M179.1 308.3h.9M200.3 321.1h.9M185.1 309.8h.9M196.5 308.9h.9M188.0 315.7h.9M185.2 309.5h.9M180.9 307.3h.9M194.4 330.1h.9M187.2 322.1h.9M190.6 318.0h.9M187.9 326.6h.9M191.1 315.3h.9M187.4 324.1h.9M185.8 309.7h.9M187.3 311.9h.9M194.2 321.1h.9M188.1 311.9h.9M194.9 322.0h.9M197.9 326.8h.9M187.5 311.6h.9M187.2 317.7h.9M192.1 321.6h.9M195.6 305.7h.9M188.6 304.6h.9M183.9 310.1h.9M185.6 307.5h.9M181.6 324.1h.9M187.1 324.2h.9M183.5 295.5h.9M185.8 323.2h.9M186.0 319.1h.9M183.6 326.9h.9M190.5 325.9h.9M187.2 326.9h.9M188.8 312.5h.9M185.6 316.1h.9M184.4 305.3h.9M189.1 322.7h.9M187.2 323.2h.9M195.7 307.8h.9M189.7 308.7h.9M185.6 317.2h.9M177.8 318.6h.9M192.3 322.1h.9M191.4 332.6h.9M186.8 325.2h.9M195.0 322.5h.9M180.4 312.9h.9M187.2 302.5h.9M188.2 322.8h.9M187.3 314.6h.9M195.1 313.2h.9M184.2 315.6h.9M193.6 322.9h.9M188.8 312.4h.9M194.1 325.5h.9M180.7 317.1h.9M177.6 326.0h.9M191.3 312.0h.9M182.7 312.3h.9M180.6 319.0h.9M186.2 300.9h.9M188.4 326.4h.9M182.8 311.9h.9M196.7 320.4h.9M186.0 317.4h.9M192.0 309.0h.9M188.1 302.6h.9M181.3 301.5h.9M192.3 320.2h.9M191.8 327.7h.9M188.7 318.5h.9M190.3 320.9h.9M183.7 312.8h.9M187.8 316.6h.9M185.1 314.4h.9M189.8 318.4h.9M191.2 324.2h.9M191.0 325.3h.9M192.3 329.3h.9M191.3 312.1h.9M199.0 329.0h.9M194.1 324.2h.9M188.7 306.9h.9M190.5 314.1h.9M186.7 298.0h.9M195.5 308.6h.9M183.5 319.0h.9M191.1 310.5h.9M188.5 318.6h.9M189.2 321.1h.9M192.0 314.4h.9M181.2 332.6h.9M186.8 307.7h.9M191.9 322.4h.9M185.7 335.5h.9M177.9 324.3h.9M188.3 319.0h.9M189.9 314.9h.9M189.9 305.9h.9M186.7 331.6h.9M176.9 323.6h.9M178.4 306.4h.9M192.5 314.2h.9M185.9 303.1h.9M188.0 314.8h.9M185.6 302.5h.9M189.2 320.2h.9M193.6 322.3h.9M195.4 328.5h.9M175.7 326.9h.9M188.0 307.5h.9M190.5 325.1h.9M181.5 304.1h.9M191.6 312.7h.9M195.1 320.2h.9M186.0 304.6h.9M191.2 302.7h.9M182.6 303.8h.9M196.2 333.0h.9M187.5 313.0h.9M191.7 327.9h.9M184.8 334.0h.9M187.6 325.8h.9M177.8 313.0h.9M185.3 332.3h.9M187.5 305.5h.9M197.3 313.2h.9M188.5 305.9h.9M191.6 319.0h.9M187.2 312.7h.9M185.9 309.7h.9M182.1 324.9h.9M192.5 305.9h.9M183.2 318.4h.9M198.7 317.7h.9M187.1 314.0h.9M189.6 315.3h.9M193.4 326.2h.9M191.0 330.5h.9M187.4 311.5h.9M201.9 304.0h.9M181.4 294.6h.9M190.1 307.9h.9M193.3 300.2h.9M187.9 313.0h.9M183.6 324.5h.9M186.7 319.8h.9M186.1 317.1h.9M186.5 316.5h.9M188.0 310.6h.9M190.5 315.5h.9M184.1 306.4h.9M190.5 328.3h.9M182.6 311.3h.9M190.5 325.9h.9M191.7 307.4h.9M188.7 324.1h.9M189.6 314.9h.9M183.2 316.4h.9M188.2 316.7h.9M195.3 328.4h.9M184.9 317.4h.9M187.1 316.9h.9M195.9 326.3h.9M188.7 311.0h.9M187.8 319.3h.9M186.2 325.1h.9M188.6 306.5h.9M197.7 294.6h.9M187.3 315.1h.9M193.0 327.2h.9M195.1 331.5h.9M189.9 317.9h.9M193.1 317.6h.9M182.8 311.0h.9M191.5 322.5h.9M183.5 325.2h.9M189.9 304.2h.9M190.6 325.6h.9M190.9 314.6h.9M184.9 324.9h.9M189.5 316.7h.9M186.7 307.3h.9M180.0 311.2h.9M193.5 324.3h.9M185.4 328.5h.9M187.5 307.7h.9M192.9 329.4h.9M186.7 305.7h.9M188.2 295.9h.9M188.7 329.4h.9M189.7 310.7h.9M191.7 313.2h.9M194.2 315.1h.9M197.7 316.1h.9M189.4 308.8h.9M182.7 317.8h.9M190.1 308.7h.9M191.0 313.7h.9M186.0 315.2h.9M190.3 323.1h.9M194.1 321.3h.9M185.2 309.8h.9M190.2 306.9h.9M187.7 313.0h.9M188.1 317.9h.9M193.2 331.6h.9M192.5 326.1h.9M183.7 323.9h.9M194.4 306.7h.9M199.9 315.0h.9M177.7 328.3h.9M188.8 309.8h.9M185.9 324.8h.9M189.7 313.7h.9M193.7 310.1h.9M184.7 310.7h.9M185.1 321.4h.9M187.5 307.3h.9M186.4 299.2h.9M189.2 317.6h.9M191.3 315.3h.9M190.3 309.1h.9M188.6 317.8h.9M183.0 319.9h.9M189.1 317.1h.9M186.3 332.8h.9M188.5 310.0h.9M184.7 320.4h.9M187.6 309.6h.9M185.2 323.4h.9M188.9 325.5h.9M188.4 306.5h.9M192.4 320.3h.9M185.5 313.1h.9M184.1 322.2h.9M186.6 320.0h.9M189.7 314.6h.9M190.2 314.9h.9M183.2 311.5h.9M183.2 321.3h.9M191.4 312.4h.9M191.3 319.4h.9M192.9 309.9h.9M188.6 308.2h.9M185.4 327.1h.9M179.4 306.2h.9M190.7 323.6h.9M185.0 298.4h.9M180.8 317.4h.9M193.5 325.5h.9M185.2 326.9h.9M187.7 321.4h.9M187.6 329.6h.9M186.2 297.8h.9M187.1 317.7h.9M189.7 310.8h.9M187.5 306.7h.9M187.4 316.9h.9M189.6 330.6h.9M179.5 318.3h.9M190.4 307.3h.9M188.8 316.5h.9M184.0 321.3h.9M197.1 324.6h.9M192.0 326.4h.9M187.9 324.5h.9M184.9 317.0h.9M191.7 328.4h.9M187.2 313.7h.9M190.6 316.4h.9M189.1 323.4h.9M185.1 322.9h.9M190.2 314.8h.9M182.9 309.6h.9M188.3 324.3h.9M179.7 320.0h.9M189.4 307.3h.9M192.3 320.9h.9M190.5 308.9h.9M183.5 322.7h.9M194.8 321.3h.9M187.6 312.5h.9M180.8 322.5h.9M188.1 326.7h.9M185.3 324.4h.9M185.3 320.5h.9M194.7 312.4h.9M192.6 317.6h.9M184.3 317.0h.9M191.4 311.4h.9M187.3 311.4h.9M185.1 313.8h.9M192.2 313.4h.9M194.1 314.9h.9M185.4 324.6h.9M194.8 312.8h.9M191.1 307.5h.9M186.7 312.9h.9M191.7 306.9h.9M186.2 310.1h.9M188.9 306.4h.9M182.5 338.4h.9M189.5 304.2h.9M192.2 306.6h.9M180.1 328.0h.9M194.1 311.1h.9M183.6 319.1h.9M197.6 324.1h.9M191.4 307.5h.9M180.6 317.5h.9M193.0 318.9h.9M188.5 328.0h.9M184.8 324.6h.9M192.2 312.4h.9M189.0 317.6h.9M191.1 309.1h.9M187.5 317.0h.9M188.6 316.7h.9M189.6 315.2h.9M186.3 324.4h.9M185.6 313.0h.9M184.6 305.9h.9M190.5 316.7h.9M187.9 320.1h.9M187.7 321.9h.9M196.5 321.7h.9M187.3 329.9h.9M191.6 303.6h.9M194.4 319.9h.9M192.3 308.0h.9M184.7 310.1h.9M190.9 307.9h.9M185.4 323.5h.9M185.6 316.7h.9M184.5 301.3h.9M188.1 315.4h.9M182.2 322.8h.9M192.1 324.8h.9M186.2 306.4h.9M188.1 317.7h.9M187.7 311.4h.9M184.1 309.2h.9M188.1 312.4h.9M195.9 316.3h.9M190.5 313.2h.9M187.7 308.2h.9M186.4 303.5h.9M179.3 325.0h.9M183.8 318.7h.9M187.9 311.6h.9M191.7 312.8h.9M190.4 314.0h.9M192.8 325.6h.9M188.8 325.6h.9M190.7 330.0h.9M188.0 303.6h.9M189.4 318.7h.9M186.9 314.3h.9M187.3 305.8h.9M196.1 312.2h.9M183.8 302.1h.9M184.8 315.1h.9M195.0 323.3h.9M185.3 305.3h.9M183.6 314.4h.9M192.3 313.6h.9M195.6 334.4h.9M189.2 298.9h.9M193.3 317.0h.9M191.4 325.4h.9M184.1 315.8h.9M189.3 310.5h.9M191.6 316.3h.9M186.7 331.5h.9M189.2 330.1h.9M187.8 324.8h.9M185.2 316.8h.9M193.3 299.9h.9M190.9 314.9h.9M193.3 319.3h.9M188.2 305.8h.9M201.4 314.1h.9M187.1 310.1h.9M187.2 317.9h.9M182.6 323.5h.9M187.3 321.1h.9M179.2 309.6h.9M187.2 312.9h.9M185.5 318.2h.9M190.3 308.9h.9M179.9 320.0h.9M187.1 324.9h.9M192.3 316.7h.9M182.2 311.7h.9M185.3 325.8h.9M181.0 321.9h.9M181.7 309.9h.9M182.3 309.0h.9M186.5 319.0h.9M185.9 321.4h.9M196.2 320.0h.9M183.4 313.6h.9M188.0 313.4h.9M193.5 327.4h.9M197.3 323.3h.9M176.8 312.1h.9M191.4 310.7h.9M185.8 323.2h.9M189.1 307.4h.9M185.9 290.4h.9M188.5 306.4h.9M188.2 306.6h.9M184.4 311.1h.9M200.7 310.2h.9M183.3 310.6h.9M193.1 324.4h.9M191.5 314.7h.9M189.0 310.3h.9M187.7 309.6h.9M182.1 306.5h.9M196.9 322.1h.9M185.2 314.6h.9M186.5 325.9h.9M188.3 311.2h.9M191.5 319.9h.9M185.5 309.3h.9M189.1 303.2h.9M184.5 323.6h.9M192.3 326.7h.9M186.5 311.0h.9M187.3 312.2h.9M194.1 316.2h.9M194.4 312.3h.9M190.1 330.3h.9M185.2 310.2h.9M185.8 302.4h.9M187.2 310.8h.9M198.1 315.3h.9M179.1 321.6h.9M192.6 317.4h.9M189.7 322.7h.9M186.0 316.1h.9M189.1 330.3h.9M194.6 319.6h.9M182.6 322.1h.9M188.2 326.0h.9M188.7 318.0h.9M191.3 311.3h.9M185.6 334.5h.9M184.7 323.1h.9M191.4 324.0h.9M194.4 307.1h.9M192.6 300.7h.9M188.7 319.3h.9M193.0 326.7h.9M184.4 313.0h.9M187.8 310.5h.9M184.9 310.0h.9M193.5 329.1h.9M191.7 331.2h.9M188.8 307.6h.9M185.6 317.3h.9M192.9 327.7h.9M184.5 323.2h.9M186.1 320.7h.9M192.5 329.8h.9M186.1 317.8h.9M190.3 313.5h.9M188.8 321.5h.9M181.2 309.1h.9M198.5 323.0h.9M186.0 300.6h.9M184.2 319.5h.9M191.4 321.0h.9M191.0 312.2h.9M195.4 309.2h.9M190.7 314.9h.9M181.0 321.8h.9M187.2 322.0h.9M194.0 319.4h.9M185.5 313.9h.9M188.1 328.3h.9M192.2 330.6h.9M191.8 311.1h.9M192.5 325.6h.9M187.9 320.1h.9M187.0 305.7h.9M188.0 322.6h.9M186.9 297.5h.9M184.9 324.4h.9M189.4 326.0h.9M185.1 312.1h.9M184.1 308.8h.9M190.7 318.3h.9M186.3 318.3h.9M182.7 311.6h.9M181.9 302.2h.9M182.5 305.7h.9M195.3 329.8h.9M193.9 313.2h.9M191.2 307.9h.9M186.1 317.8h.9M181.4 316.1h.9M191.1 300.1h.9M177.7 311.2h.9M187.9 317.5h.9M183.5 319.8h.9M189.0 310.6h.9M195.6 320.6h.9M191.7 332.7h.9M186.3 314.0h.9M180.8 312.4h.9M190.3 337.7h.9M190.9 318.8h.9M182.9 307.8h.9M180.3 302.8h.9M188.9 319.1h.9M184.4 313.5h.9M184.9 320.6h.9M191.2 312.6h.9M186.4 305.7h.9M186.4 334.0h.9M188.4 323.6h.9M191.0 329.4h.9M187.0 308.6h.9M193.0 325.4h.9M185.5 324.7h.9M188.4 316.1h.9M196.5 323.2h.9M189.8 314.2h.9M189.3 325.5h.9M190.4 310.8h.9M190.4 316.0h.9M189.8 315.2h.9M178.9 300.4h.9M186.7 297.7h.9M181.8 331.4h.9M191.5 313.5h.9M189.9 298.3h.9M189.5 324.9h.9M189.3 305.8h.9M192.7 313.3h.9M185.9 317.4h.9M187.1 333.0h.9M187.8 334.2h.9M190.4 306.7h.9M188.4 316.9h.9M194.7 328.9h.9M199.6 314.1h.9M186.5 335.3h.9M184.5 318.3h.9M195.5 310.0h.9M186.9 309.8h.9M190.7 320.5h.9M188.3 321.9h.9M185.0 312.4h.9M190.5 333.9h.9M188.3 316.9h.9M194.2 318.7h.9M194.1 320.1h.9M193.5 319.4h.9M184.4 308.2h.9M190.3 332.7h.9M196.6 316.2h.9M199.4 310.3h.9M184.7 323.2h.9M181.7 322.2h.9M190.1 322.2h.9M183.1 318.2h.9M192.6 317.2h.9M193.0 318.0h.9M189.9 314.3h.9M182.5 313.5h.9M190.6 310.8h.9M179.8 301.1h.9M194.2 316.2h.9M185.1 325.9h.9M187.7 303.7h.9M186.5 308.5h.9M187.6 308.6h.9M188.7 320.4h.9M185.9 314.1h.9M187.7 323.2h.9M185.3 321.9h.9M193.9 316.4h.9M184.2 312.7h.9M180.6 309.7h.9M183.2 313.6h.9M186.8 320.3h.9M188.9 320.2h.9M188.2 318.8h.9M183.4 320.6h.9M194.2 327.4h.9M182.5 318.3h.9M181.3 320.8h.9M187.5 312.4h.9M185.1 313.6h.9M188.4 308.4h.9M188.7 318.7h.9M190.8 316.8h.9M188.4 335.9h.9M192.9 320.5h.9M182.3 319.9h.9M191.0 294.9h.9M187.7 319.5h.9M188.6 317.3h.9M187.8 327.9h.9M190.1 314.6h.9M187.4 333.7h.9M184.6 311.0h.9M189.9 318.1h.9M189.8 328.2h.9M193.5 321.4h.9M188.6 316.0h.9M187.4 324.6h.9M182.8 306.2h.9M186.4 307.8h.9M185.2 325.6h.9M178.5 318.5h.9M182.6 312.8h.9M185.9 307.4h.9M181.9 315.2h.9M175.3 295.0h.9M186.7 325.2h.9M196.7 316.4h.9M184.9 313.1h.9M190.5 324.9h.9M184.2 319.3h.9M188.3 326.1h.9M186.6 314.2h.9M184.7 304.3h.9M189.6 322.8h.9M193.4 320.2h.9M186.4 308.2h.9M183.3 309.0h.9M189.9 317.7h.9M178.3 312.8h.9M187.2 307.3h.9M188.4 320.9h.9M183.9 303.8h.9M187.0 318.3h.9M187.3 329.1h.9M189.1 308.2h.9M191.9 312.0h.9M191.5 318.2h.9M193.9 309.7h.9M191.7 321.0h.9M184.4 321.3h.9M198.5 322.3h.9M185.0 314.2h.9M194.2 320.3h.9M195.0 312.9h.9M194.3 304.9h.9M187.7 313.8h.9M186.3 326.2h.9M185.8 318.7h.9M196.7 325.8h.9M186.6 309.8h.9M179.5 317.1h.9M192.4 326.9h.9M189.5 334.9h.9M191.9 298.0h.9M184.5 322.1h.9M186.7 323.0h.9M199.9 313.3h.9M198.3 318.6h.9M181.9 315.5h.9M192.5 312.8h.9M195.5 311.2h.9M187.6 324.0h.9M187.5 311.5h.9M188.4 322.0h.9M196.2 330.1h.9M196.8 318.6h.9M181.1 314.0h.9M186.6 307.6h.9M186.2 315.3h.9M188.7 324.3h.9M184.4 325.0h.9M188.7 322.7h.9M194.0 307.7h.9M195.6 312.5h.9M190.3 326.1h.9M192.6 304.5h.9M189.2 326.3h.9M187.9 315.7h.9M188.8 330.4h.9M186.0 307.9h.9M183.5 310.6h.9M187.4 319.1h.9M188.1 301.9h.9M181.4 320.2h.9M191.7 306.0h.9M192.7 297.2h.9M198.9 324.4h.9M181.0 318.7h.9M188.3 312.6h.9M186.8 314.2h.9M188.0 308.8h.9M185.9 320.5h.9M190.9 306.0h.9M186.3 329.0h.9M191.7 331.3h.9M182.4 306.0h.9M178.7 297.4h.9M186.8 307.2h.9M183.6 309.3h.9M187.7 323.3h.9M191.0 302.4h.9M195.2 315.6h.9M184.0 315.0h.9M186.7 304.3h.9M195.5 313.6h.9M185.8 320.3h.9M196.0 322.7h.9M184.4 319.0h.9M193.5 321.1h.9M191.4 313.3h.9M188.2 302.2h.9M185.3 306.0h.9M188.5 329.1h.9M178.4 302.5h.9M184.3 314.6h.9M193.7 311.4h.9M185.0 325.7h.9M190.2 321.4h.9M192.2 311.3h.9M189.5 311.2h.9M185.2 316.7h.9M190.5 306.3h.9M185.0 320.7h.9M189.2 322.3h.9M187.1 309.3h.9M192.0 322.6h.9M175.7 320.2h.9M185.1 321.2h.9M195.6 316.2h.9M184.1 317.4h.9M188.9 321.4h.9M182.2 316.8h.9M192.5 323.5h.9M191.3 327.4h.9M184.8 325.8h.9M189.4 308.4h.9M187.2 318.4h.9M190.0 328.3h.9M189.4 312.4h.9M198.4 316.5h.9M184.8 323.3h.9M186.6 309.3h.9M183.7 325.1h.9M183.7 316.0h.9M186.4 314.3h.9M184.6 314.3h.9M197.5 326.5h.9M188.8 300.7h.9M178.6 311.6h.9M192.3 315.4h.9M179.4 304.7h.9M185.3 320.2h.9M188.3 320.1h.9M196.6 293.9h.9M189.9 327.4h.9M187.4 314.6h.9M190.9 300.5h.9M211.7 316.2h.9M197.8 310.2h.9M204.7 328.9h.9M202.7 326.4h.9M198.3 330.3h.9M195.6 316.2h.9M199.3 305.7h.9M193.4 306.7h.9M189.6 303.2h.9M184.4 314.7h.9M193.1 323.3h.9M191.2 320.8h.9M198.2 307.6h.9M176.7 303.8h.9M189.7 307.9h.9M212.0 310.3h.9M196.3 306.6h.9M198.2 301.5h.9M200.6 317.6h.9M188.4 300.4h.9M207.1 310.6h.9M205.0 290.3h.9M181.2 331.8h.9M208.1 317.3h.9M201.0 322.4h.9M188.8 314.9h.9M181.6 297.6h.9M193.1 322.3h.9M193.4 301.0h.9M199.7 316.5h.9M198.8 312.2h.9M189.6 325.1h.9M204.4 303.3h.9M182.0 322.8h.9M195.2 315.3h.9M183.2 323.5h.9M193.7 316.8h.9M195.5 309.1h.9M195.6 316.2h.9M198.5 319.4h.9M180.4 304.3h.9M189.6 326.3h.9M186.1 325.4h.9M201.7 325.4h.9M212.4 317.8h.9M194.9 327.9h.9M195.7 325.6h.9M190.8 329.3h.9M195.2 294.0h.9M201.8 313.9h.9M184.0 309.4h.9M189.5 326.1h.9M195.0 313.9h.9M191.9 304.4h.9M186.2 308.0h.9M190.0 301.1h.9M188.4 324.4h.9M196.1 314.9h.9M195.1 312.1h.9M181.3 321.7h.9M212.3 323.4h.9M198.2 342.0h.9M181.1 317.8h.9M188.9 310.6h.9M177.0 310.6h.9M195.6 297.5h.9M190.0 308.5h.9M183.0 319.4h.9M206.8 321.4h.9M201.3 324.1h.9M191.4 320.3h.9M204.0 311.8h.9M190.7 299.0h.9M175.2 302.2h.9M200.1 319.6h.9M194.4 328.8h.9M176.0 326.2h.9M192.8 322.7h.9M204.5 307.7h.9M184.1 317.1h.9M191.5 307.8h.9M190.9 306.1h.9M193.2 310.2h.9M207.4 305.7h.9M197.2 315.9h.9M206.3 306.3h.9M187.8 332.1h.9M186.1 309.0h.9M188.5 302.9h.9M203.0 332.5h.9M190.6 305.8h.9M179.8 319.1h.9M187.2 319.2h.9M197.7 319.7h.9M193.2 314.1h.9M188.9 308.8h.9M193.3 319.9h.9M200.4 313.3h.9M203.0 306.1h.9M209.3 327.7h.9M188.3 343.1h.9M205.0 333.6h.9M181.2 311.0h.9M196.3 326.3h.9M192.7 300.3h.9M203.0 314.4h.9M196.0 311.4h.9M191.0 299.1h.9M198.0 308.5h.9M176.0 315.6h.9M191.7 324.4h.9M199.4 302.4h.9M190.4 313.8h.9M192.8 302.9h.9M192.7 324.8h.9M203.2 331.9h.9M198.9 288.2h.9M189.6 307.8h.9M200.2 315.6h.9M195.3 320.0h.9M190.0 328.6h.9M208.5 326.0h.9M187.0 315.9h.9M200.8 323.5h.9M185.8 323.3h.9M198.6 321.6h.9M188.2 313.2h.9M174.8 310.6h.9M188.0 310.2h.9M189.5 310.2h.9M192.8 315.3h.9M186.5 311.7h.9M191.2 319.3h.9M196.0 311.0h.9M184.5 295.1h.9M180.7 316.4h.9M183.7 329.9h.9M190.6 309.7h.9M190.6 308.0h.9M186.3 313.8h.9M178.9 313.2h.9M191.2 304.3h.9M201.3 319.7h.9M201.8 308.7h.9M180.8 299.3h.9M177.8 291.2h.9M206.1 311.6h.9M193.7 308.7h.9M190.7 330.8h.9M176.3 300.6h.9M193.2 304.6h.9M198.3 329.2h.9M200.1 323.6h.9M190.5 324.6h.9M184.8 300.0h.9M189.6 311.0h.9M203.1 305.5h.9M202.3 307.6h.9M180.6 293.8h.9M191.7 298.5h.9M193.9 314.9h.9M188.4 292.7h.9M187.3 318.0h.9M175.9 318.6h.9M192.2 308.3h.9M193.8 321.4h.9M191.8 305.7h.9M199.1 308.1h.9M195.3 325.2h.9M203.8 333.4h.9M201.2 317.3h.9M190.2 315.8h.9M197.9 306.3h.9M205.7 299.5h.9M201.1 302.0h.9M182.2 306.9h.9M189.4 299.1h.9M197.6 313.9h.9M204.1 305.4h.9M175.7 318.5h.9M190.0 324.2h.9M192.8 335.2h.9M180.9 291.5h.9M187.9 328.5h.9M206.3 302.1h.9M186.5 293.3h.9M184.4 302.3h.9M195.9 327.0h.9M213.5 314.1h.9M199.4 317.8h.9M193.1 335.1h.9M198.4 332.0h.9M194.7 323.9h.9M196.6 313.9h.9M185.7 308.6h.9M192.1 310.0h.9M188.9 305.9h.9M199.8 312.8h.9M190.9 311.5h.9M203.8 310.4h.9M204.7 307.1h.9M205.8 323.2h.9M187.6 318.1h.9M202.3 305.7h.9M190.0 317.0h.9M190.1 310.6h.9M192.2 317.5h.9M199.0 331.2h.9M189.1 345.1h.9M189.1 332.6h.9M190.9 298.2h.9M188.1 309.6h.9M201.7 294.1h.9M186.3 311.6h.9M197.9 319.4h.9M199.7 313.8h.9M189.9 326.7h.9M207.5 321.0h.9M193.4 305.1h.9M211.0 321.8h.9M197.6 297.8h.9M197.5 341.2h.9M190.6 311.6h.9M205.8 314.6h.9M199.6 336.3h.9M181.5 303.2h.9M198.1 316.4h.9M192.4 312.3h.9M193.2 318.1h.9M187.7 310.3h.9M194.1 302.7h.9M196.0 291.2h.9M197.8 313.8h.9M181.5 326.6h.9M181.5 334.4h.9M185.5 325.9h.9M191.5 331.3h.9M190.0 324.8h.9M189.2 293.4h.9M195.5 319.8h.9M195.6 332.7h.9M185.4 297.4h.9M194.3 307.0h.9M191.1 313.9h.9M184.7 324.5h.9M191.0 333.1h.9M194.3 325.8h.9M189.4 306.5h.9M187.3 303.7h.9M196.1 316.3h.9M182.4 295.7h.9M184.3 293.0h.9M184.1 296.3h.9M198.4 302.7h.9M186.8 311.8h.9M192.3 318.7h.9M198.9 322.2h.9M189.0 326.9h.9M195.4 307.0h.9M205.4 303.8h.9M196.3 328.4h.9M193.1 318.0h.9M193.1 321.4h.9M194.0 314.5h.9M198.3 294.8h.9M194.3 311.2h.9M209.6 320.4h.9M186.2 320.0h.9M188.6 300.6h.9M189.5 319.0h.9M202.7 327.3h.9M194.1 312.7h.9M193.8 327.4h.9M190.9 326.3h.9M185.0 312.6h.9M198.9 322.9h.9M193.8 308.8h.9M176.0 306.4h.9M184.5 308.3h.9M206.1 308.3h.9M199.6 315.2h.9M182.2 313.4h.9M198.7 302.5h.9M181.7 308.1h.9M198.5 308.8h.9M195.8 319.7h.9M192.2 318.9h.9M203.3 314.0h.9M194.9 303.1h.9M185.6 311.8h.9M199.3 308.1h.9M179.7 321.7h.9M213.1 290.2h.9M182.6 313.6h.9M196.4 304.6h.9M195.0 326.4h.9M189.6 321.4h.9M193.2 304.2h.9M186.6 306.5h.9M203.8 328.6h.9M194.2 297.6h.9M187.7 308.9h.9M175.0 310.7h.9M194.6 300.3h.9M188.3 308.4h.9M208.4 324.2h.9M198.8 316.2h.9M180.7 321.9h.9M186.1 292.3h.9M198.5 311.5h.9M192.0 319.6h.9M190.0 318.1h.9M203.4 312.7h.9M188.9 313.6h.9M197.7 310.8h.9M192.8 306.8h.9M191.4 319.7h.9M184.8 310.7h.9M179.2 304.2h.9M192.7 319.8h.9M182.9 311.3h.9M183.8 315.9h.9M194.3 319.2h.9M190.2 298.4h.9M187.1 298.8h.9M186.1 312.3h.9M201.5 308.8h.9M185.2 315.0h.9M173.9 332.0h.9M178.5 322.4h.9M200.6 325.9h.9M191.1 321.7h.9M189.0 323.8h.9M186.3 304.2h.9M195.4 309.8h.9M197.9 305.9h.9M194.4 303.9h.9M191.1 336.9h.9M182.6 299.1h.9M178.0 309.0h.9M206.2 311.8h.9M200.2 313.5h.9M186.5 334.5h.9M201.5 296.0h.9M183.5 316.9h.9M197.7 312.7h.9M194.8 320.3h.9M189.0 324.1h.9M184.6 320.7h.9M200.0 317.7h.9M189.0 313.3h.9M179.6 290.2h.9M198.7 305.4h.9M195.1 315.1h.9M176.6 301.5h.9M189.7 318.6h.9M192.6 300.6h.9M187.4 314.3h.9M180.9 307.3h.9M187.2 290.4h.9M207.1 326.2h.9M188.0 323.4h.9M182.9 328.7h.9M188.8 314.9h.9M187.0 314.1h.9M194.9 314.9h.9M184.8 320.8h.9M196.9 314.9h.9M201.2 307.8h.9M203.2 314.4h.9M205.2 311.7h.9M189.8 315.9h.9M201.6 331.2h.9M188.0 305.5h.9M198.7 328.5h.9M198.2 311.6h.9M203.1 315.8h.9M193.5 320.9h.9M187.1 288.9h.9M193.9 322.0h.9M195.8 320.5h.9M193.4 325.4h.9M193.0 330.2h.9M192.5 322.6h.9M187.2 316.4h.9M195.7 316.2h.9M205.5 317.0h.9M201.8 319.6h.9M201.5 306.1h.9M188.8 323.8h.9M184.9 316.9h.9M197.0 317.0h.9M195.8 320.5h.9M190.0 318.0h.9M187.5 308.4h.9M178.2 310.4h.9M177.2 311.6h.9M193.8 302.7h.9M192.6 317.2h.9M189.0 303.7h.9M191.0 318.2h.9M200.1 336.2h.9M174.8 314.5h.9M195.8 307.9h.9M194.8 337.0h.9M193.0 328.8h.9M201.3 311.0h.9M205.4 297.6h.9M190.3 306.2h.9M193.8 315.0h.9M202.0 309.5h.9M208.8 298.8h.9M193.9 343.1h.9M191.2 320.6h.9M199.8 311.7h.9M175.3 313.2h.9M198.4 293.3h.9M187.8 319.2h.9M178.2 297.1h.9M195.6 326.9h.9M202.2 308.8h.9M196.4 295.8h.9M179.1 317.5h.9M188.5 302.4h.9M175.7 308.5h.9M211.5 295.9h.9M182.9 324.4h.9M175.3 304.3h.9M192.6 326.3h.9M191.4 333.5h.9M191.7 312.8h.9M195.9 318.5h.9M178.9 301.4h.9M190.0 317.3h.9M181.3 304.4h.9M185.5 316.5h.9M188.3 319.8h.9M195.4 304.8h.9M189.4 300.2h.9M192.9 322.9h.9M183.4 293.4h.9M196.5 311.7h.9M191.8 318.9h.9M195.3 324.6h.9M188.0 289.5h.9M187.8 309.9h.9M188.4 317.6h.9M189.8 327.6h.9M186.5 312.9h.9M188.9 336.3h.9M183.7 301.7h.9M188.7 321.6h.9M192.1 312.1h.9M179.2 289.3h.9M190.1 311.1h.9M207.4 320.8h.9M195.7 325.1h.9M184.2 299.3h.9M188.8 329.4h.9M200.7 309.3h.9M181.1 322.0h.9M201.6 303.9h.9M206.1 308.2h.9M198.6 313.0h.9M189.1 306.9h.9M198.1 321.8h.9M199.1 312.3h.9M184.6 335.8h.9M207.1 314.7h.9M181.9 328.3h.9M193.2 314.8h.9M199.5 319.2h.9M193.0 335.7h.9M175.4 317.9h.9M183.3 313.2h.9M190.5 316.6h.9M212.5 313.3h.9M199.9 322.2h.9M194.6 309.0h.9M197.6 318.0h.9M204.8 325.3h.9M185.7 281.3h.9M205.3 321.7h.9M193.5 307.7h.9M214.1 332.5h.9M192.9 310.2h.9M197.1 329.6h.9M196.6 325.1h.9M194.3 318.3h.9M180.8 313.3h.9M192.5 313.3h.9M189.9 316.9h.9M186.9 310.9h.9M180.4 336.9h.9M184.1 299.5h.9M187.2 308.6h.9M182.5 285.8h.9M206.6 327.7h.9M188.6 319.4h.9M182.1 294.6h.9M195.0 320.8h.9M185.9 312.8h.9M201.4 317.6h.9M193.6 320.6h.9M180.7 314.6h.9M186.4 292.5h.9M199.9 313.4h.9M200.8 337.4h.9M177.3 297.5h.9M201.6 331.0h.9M195.5 318.6h.9M198.2 322.2h.9M180.6 320.0h.9M200.8 311.2h.9M183.8 307.2h.9M186.8 318.8h.9M198.9 315.5h.9M189.3 294.3h.9M188.2 302.5h.9M187.1 316.8h.9M184.2 306.8h.9M181.8 309.4h.9M189.4 324.4h.9M174.6 320.7h.9M197.7 309.4h.9M185.9 315.0h.9M196.7 313.1h.9M190.6 313.9h.9M182.3 315.2h.9M197.1 315.5h.9M181.8 312.1h.9M191.0 317.2h.9M188.3 322.3h.9M201.7 324.7h.9M194.1 327.5h.9M191.6 312.1h.9M179.2 311.9h.9M202.8 305.7h.9M198.9 301.6h.9M194.7 334.2h.9M192.4 301.5h.9M194.5 312.9h.9M199.1 309.7h.9M176.5 306.0h.9M197.2 326.0h.9M194.4 314.7h.9M198.1 313.0h.9M187.9 315.7h.9M201.7 310.4h.9M196.4 308.0h.9M185.4 314.7h.9M180.1 302.7h.9M181.3 305.6h.9M183.8 337.4h.9M197.4 315.8h.9M180.0 286.4h.9M195.9 308.0h.9M201.3 311.5h.9M180.3 305.1h.9M178.3 296.4h.9M198.3 309.5h.9M198.1 309.2h.9M189.9 307.8h.9M187.1 306.1h.9M205.3 315.9h.9M174.5 328.9h.9M203.2 328.0h.9M191.0 312.2h.9M187.7 314.6h.9M196.1 314.8h.9M184.6 302.4h.9M206.8 334.7h.9M180.8 305.2h.9M191.6 320.2h.9M190.9 316.4h.9M195.2 326.7h.9M180.2 323.5h.9M195.8 320.5h.9M178.4 309.1h.9M189.6 320.4h.9M198.0 322.4h.9M180.3 325.2h.9M192.5 324.0h.9M191.8 306.6h.9M215.4 325.3h.9M198.7 310.4h.9M189.9 325.4h.9M195.9 333.2h.9M202.7 304.6h.9M178.1 323.7h.9M197.3 312.3h.9M189.3 307.7h.9M208.0 315.2h.9M179.5 321.3h.9M191.1 317.6h.9M188.5 313.0h.9M175.0 316.6h.9M185.7 308.9h.9M194.7 328.0h.9M196.8 325.6h.9M183.7 315.9h.9M195.5 324.5h.9M186.3 311.1h.9M187.3 325.2h.9M201.6 311.2h.9M190.6 316.1h.9M183.8 311.4h.9M199.6 323.6h.9M185.8 306.1h.9M190.8 298.5h.9M194.6 315.8h.9M179.9 309.4h.9M185.9 310.1h.9M184.0 326.9h.9M183.2 320.4h.9M193.7 329.5h.9M191.3 314.0h.9M192.5 294.5h.9M213.4 315.8h.9M189.0 301.8h.9M190.6 330.6h.9M185.1 317.4h.9M201.1 325.6h.9M188.2 295.2h.9M195.5 320.7h.9M188.9 309.1h.9M207.6 300.5h.9M187.2 306.9h.9M177.8 304.3h.9M184.7 325.7h.9M176.2 296.9h.9M194.2 298.4h.9M173.8 304.3h.9M181.0 302.0h.9M190.4 318.5h.9M186.0 310.2h.9M198.2 313.7h.9M198.4 309.2h.9M196.2 328.1h.9M179.4 342.8h.9M188.9 310.1h.9M190.4 318.6h.9M181.0 312.5h.9M186.6 327.9h.9M176.3 318.0h.9M189.0 305.9h.9M193.1 311.9h.9M192.2 316.6h.9M202.6 311.9h.9M206.8 289.0h.9M208.2 329.7h.9M205.9 318.7h.9M194.4 304.1h.9M203.8 304.4h.9M184.7 312.8h.9M193.9 318.0h.9M181.4 308.6h.9M196.2 327.1h.9M198.7 319.6h.9M189.5 308.1h.9M187.2 312.3h.9M196.6 309.8h.9M210.3 307.2h.9M199.2 313.4h.9M190.6 310.0h.9M205.6 313.6h.9M196.8 316.2h.9M198.6 321.4h.9M206.7 309.3h.9M184.5 330.2h.9M203.3 317.0h.9M189.3 316.3h.9M203.5 308.4h.9M204.9 315.9h.9M188.6 309.5h.9M180.0 306.2h.9M183.8 315.1h.9M198.3 315.7h.9M193.5 318.7h.9M206.2 322.7h.9M205.9 316.1h.9M195.0 308.0h.9M197.2 306.3h.9M196.1 308.4h.9M188.7 326.1h.9M193.1 322.5h.9M189.7 294.6h.9M205.0 314.7h.9M186.0 322.8h.9M181.7 304.6h.9M202.1 308.9h.9M202.0 312.9h.9M189.9 314.5h.9M187.4 324.3h.9M201.7 316.6h.9M197.3 320.7h.9M206.9 300.6h.9M201.0 325.2h.9M189.0 313.8h.9M188.7 326.3h.9M181.6 318.5h.9M203.3 322.1h.9M187.5 308.6h.9M201.7 306.3h.9M177.1 308.9h.9M178.5 316.4h.9M184.0 322.5h.9M190.8 299.4h.9M184.9 306.3h.9M184.3 325.4h.9M182.8 316.2h.9M186.6 319.2h.9M179.0 295.8h.9M196.4 329.6h.9M179.4 308.7h.9M187.3 303.7h.9M200.5 316.2h.9M179.4 309.7h.9M203.8 309.1h.9M187.2 304.8h.9M193.3 308.7h.9M199.8 307.1h.9M178.8 316.4h.9M194.4 317.1h.9M186.7 308.7h.9M184.6 311.0h.9M187.8 319.1h.9M191.9 319.8h.9M206.5 314.0h.9M189.3 317.5h.9M210.7 313.9h.9M207.0 329.1h.9M183.0 316.6h.9M203.8 316.9h.9M193.3 336.6h.9M195.1 336.8h.9M183.8 329.6h.9M187.3 288.5h.9M184.4 307.9h.9M191.5 321.8h.9M198.0 320.6h.9M185.1 331.2h.9M202.6 316.5h.9M186.7 312.7h.9M189.9 306.7h.9M191.8 307.3h.9M197.6 308.5h.9M196.3 318.3h.9M193.4 319.8h.9M182.6 338.9h.9M185.6 320.5h.9M192.1 309.8h.9M207.5 328.3h.9M189.4 319.5h.9M198.0 331.5h.9M201.0 314.1h.9M189.6 301.8h.9M194.2 323.5h.9M188.4 320.3h.9M193.1 309.6h.9M180.9 323.6h.9M214.7 323.9h.9M182.2 301.8h.9M194.2 321.2h.9M205.5 291.8h.9M208.5 318.9h.9M193.1 318.3h.9M188.7 310.6h.9M201.4 298.1h.9M190.9 319.7h.9M177.1 309.8h.9M205.7 320.5h.9M198.3 322.6h.9M193.9 318.2h.9M184.6 310.7h.9M208.5 304.6h.9M190.4 300.8h.9M187.1 305.3h.9M180.9 314.6h.9M183.4 318.0h.9M208.2 290.8h.9M190.4 292.3h.9M190.8 317.8h.9M193.8 326.9h.9M193.3 296.6h.9M205.5 306.9h.9M191.1 317.3h.9M184.0 313.6h.9M205.4 299.2h.9M176.9 306.8h.9M190.4 300.7h.9M195.4 301.1h.9M197.1 314.4h.9M193.4 300.6h.9M190.0 318.7h.9M176.2 300.4h.9M200.7 336.4h.9M197.9 314.5h.9M182.2 308.1h.9M189.7 318.3h.9M189.7 339.3h.9M203.9 293.6h.9M181.4 312.2h.9M200.8 319.9h.9M204.1 322.5h.9M215.0 326.6h.9M196.1 330.7h.9M187.9 307.7h.9M182.8 315.0h.9M195.9 324.6h.9M205.0 323.0h.9M203.1 313.6h.9M183.3 320.1h.9M201.1 329.7h.9M190.5 309.0h.9M188.7 317.3h.9M191.5 312.1h.9M194.3 311.5h.9M195.0 308.4h.9M178.0 308.3h.9M209.0 308.8h.9M200.2 329.6h.9M187.1 315.9h.9M205.8 318.6h.9M174.0 304.8h.9M185.3 314.0h.9M194.6 310.3h.9M189.2 305.1h.9M197.1 317.1h.9M195.1 309.4h.9M196.4 311.8h.9M194.7 312.9h.9M186.0 301.6h.9M175.2 296.8h.9M177.2 302.9h.9M190.1 301.6h.9M195.8 336.6h.9M203.2 304.0h.9M191.0 307.3h.9M198.9 300.2h.9M194.8 316.9h.9M197.1 319.5h.9M193.4 295.8h.9M189.1 303.7h.9M196.8 312.5h.9M193.4 325.9h.9M191.0 331.5h.9M199.5 299.9h.9M186.7 325.9h.9M187.5 325.8h.9M186.9 311.9h.9M201.3 299.2h.9M192.7 309.4h.9M193.5 332.3h.9M196.4 300.7h.9M200.7 310.9h.9M193.5 326.5h.9M189.2 323.6h.9M193.6 304.9h.9M189.2 299.3h.9M202.7 317.7h.9M200.7 304.0h.9M199.6 302.9h.9M194.5 314.4h.9M186.7 316.3h.9M192.3 305.0h.9M185.3 299.1h.9M204.4 317.9h.9M188.7 320.7h.9M184.2 300.4h.9M195.2 331.3h.9M194.7 316.2h.9M207.7 300.7h.9M219.6 307.5h.9M191.3 299.8h.9M181.1 309.5h.9M214.0 308.2h.9M186.4 315.8h.9M182.8 309.6h.9M199.4 292.5h.9M189.3 310.4h.9M187.4 311.9h.9M175.8 306.4h.9M187.3 302.3h.9M203.4 337.2h.9M199.2 306.2h.9M204.8 321.6h.9M184.6 319.0h.9M186.8 319.1h.9M200.3 327.7h.9M182.5 310.9h.9M192.0 301.2h.9M195.7 322.0h.9M179.6 305.9h.9M182.0 298.8h.9M182.4 326.7h.9M186.0 308.8h.9M200.9 326.4h.9M204.7 294.5h.9M198.8 296.8h.9M186.3 308.6h.9M186.9 333.8h.9M190.5 326.1h.9M190.4 313.1h.9M196.6 319.5h.9M196.5 296.5h.9M196.6 318.2h.9M197.4 314.4h.9M195.7 300.9h.9M202.2 303.1h.9M204.6 327.0h.9M191.4 310.8h.9M199.0 312.1h.9M181.3 315.0h.9M181.0 307.2h.9M208.2 325.5h.9M187.9 312.5h.9M186.2 312.8h.9M179.0 318.8h.9M192.1 307.6h.9M186.5 340.8h.9M188.0 308.2h.9M186.8 307.8h.9M203.8 323.3h.9M195.8 318.6h.9M181.8 286.6h.9M205.6 324.1h.9M194.0 317.3h.9M193.8 314.6h.9M189.6 290.0h.9M197.1 315.4h.9M200.8 318.9h.9M189.4 319.9h.9M193.7 309.6h.9M188.6 308.9h.9M189.3 308.8h.9M191.0 325.7h.9M174.2 276.6h.9M187.7 311.6h.9M185.3 298.4h.9M184.3 307.2h.9M193.4 310.7h.9M181.2 308.1h.9M205.6 307.2h.9M192.6 324.8h.9M184.8 306.6h.9M218.1 331.9h.9M187.3 314.8h.9M192.9 315.7h.9M196.2 311.6h.9M193.4 299.8h.9M189.1 329.4h.9M194.1 307.5h.9M193.2 325.3h.9M176.6 298.0h.9M186.0 308.3h.9M191.2 307.7h.9M193.0 315.1h.9M181.5 305.5h.9M180.8 315.0h.9M194.4 321.3h.9M184.1 306.9h.9M177.5 315.0h.9M201.7 320.5h.9M197.6 317.4h.9M195.3 324.5h.9M203.4 337.4h.9M189.6 322.4h.9M199.8 319.9h.9M194.4 301.1h.9M201.8 306.5h.9M186.1 303.9h.9M197.0 304.7h.9M196.1 320.7h.9M192.9 310.6h.9M197.4 328.8h.9M187.8 302.1h.9M186.6 303.7h.9M189.9 312.0h.9M184.7 308.1h.9M174.4 290.0h.9M182.9 314.7h.9M199.6 296.3h.9M194.0 330.3h.9M189.5 323.2h.9M194.8 304.8h.9M200.9 309.2h.9M195.2 310.3h.9M190.1 315.3h.9M203.9 298.4h.9M182.0 313.2h.9M200.7 313.6h.9M190.3 319.2h.9M206.1 307.0h.9M177.7 308.4h.9M198.9 301.4h.9M202.1 325.8h.9M199.1 306.4h.9M180.4 318.8h.9M194.3 321.7h.9M179.9 280.6h.9M202.1 326.4h.9M189.5 313.5h.9M196.1 322.6h.9M190.3 308.3h.9M183.2 323.2h.9M192.9 278.2h.9M195.1 308.5h.9M180.6 306.5h.9M180.5 307.1h.9M187.1 318.5h.9M182.9 293.1h.9M186.6 298.5h.9M198.6 313.0h.9M177.0 302.0h.9M191.7 313.5h.9M175.5 309.6h.9M194.6 324.9h.9M201.8 314.5h.9M180.3 307.9h.9M197.8 305.4h.9M203.3 306.0h.9M181.9 320.9h.9M191.1 317.2h.9M189.3 313.8h.9M186.7 333.0h.9M197.9 313.7h.9M196.2 323.5h.9M187.3 315.0h.9M193.8 308.4h.9M185.0 310.6h.9M189.3 309.2h.9M174.5 311.6h.9M197.9 315.8h.9M207.4 325.9h.9M188.8 306.3h.9M196.5 310.9h.9M177.5 312.6h.9M189.3 311.1h.9M197.5 317.0h.9M210.2 309.5h.9M191.1 317.1h.9M188.0 307.9h.9M207.7 301.6h.9M195.1 296.1h.9M195.0 294.3h.9M181.5 324.0h.9M205.8 317.9h.9M194.2 302.8h.9M188.8 299.5h.9M191.2 312.9h.9M193.1 322.5h.9M186.2 289.8h.9M181.5 298.8h.9M188.7 308.8h.9M191.6 328.3h.9M192.2 302.7h.9M189.2 304.3h.9M189.8 319.7h.9M181.8 319.5h.9M208.0 332.9h.9M206.6 317.6h.9M179.9 332.8h.9M191.5 316.3h.9M188.8 303.5h.9M197.5 300.3h.9M179.7 317.5h.9M188.6 304.6h.9M196.4 329.7h.9M189.4 312.1h.9M197.0 324.7h.9M201.3 322.8h.9M186.0 318.5h.9M192.1 296.2h.9M203.1 322.0h.9M204.3 315.6h.9M198.5 314.4h.9M193.5 323.8h.9M192.5 320.5h.9M191.7 326.8h.9M197.8 297.7h.9M206.9 321.3h.9M187.4 306.6h.9M209.8 318.2h.9M196.6 321.1h.9M186.6 331.3h.9M210.8 309.3h.9M202.2 298.8h.9M189.0 314.1h.9M192.5 320.0h.9M195.6 318.6h.9M190.8 316.9h.9M187.0 333.6h.9M192.6 327.1h.9M192.9 312.6h.9M190.4 300.2h.9M210.6 321.7h.9M193.2 309.4h.9M203.5 312.7h.9M187.9 307.6h.9M205.8 319.8h.9M190.7 307.1h.9M203.5 319.1h.9M189.1 322.8h.9M199.9 305.1h.9M202.3 327.3h.9M189.9 299.8h.9M201.8 312.2h.9M190.2 310.7h.9M189.6 322.3h.9M182.3 317.8h.9M202.4 326.9h.9M198.5 318.0h.9M190.3 312.5h.9M184.2 330.0h.9M191.0 303.3h.9M199.5 331.1h.9M194.5 311.2h.9M182.1 318.9h.9M189.9 306.8h.9M197.4 301.6h.9M198.6 290.0h.9M186.6 298.2h.9M189.9 321.9h.9M180.5 326.0h.9M190.0 288.7h.9M204.9 287.5h.9M209.0 290.0h.9M195.2 286.4h.9M206.3 290.7h.9M191.8 286.5h.9M190.4 290.6h.9M189.7 294.8h.9M195.8 288.1h.9M200.2 297.8h.9M177.7 292.7h.9M205.7 291.7h.9M203.4 283.7h.9M189.5 295.8h.9M195.3 291.3h.9M201.7 292.8h.9M200.1 288.7h.9M193.5 297.2h.9M191.8 284.2h.9M193.0 295.3h.9M212.0 291.7h.9M190.6 293.9h.9M198.8 296.6h.9M200.7 294.6h.9M200.6 293.0h.9M188.1 290.2h.9M210.3 297.3h.9M204.6 292.9h.9M195.2 292.7h.9M193.2 296.2h.9M193.4 287.4h.9M182.0 298.4h.9M189.5 286.9h.9M199.7 299.5h.9M202.0 289.4h.9M201.2 287.1h.9M194.0 291.2h.9M196.3 294.7h.9M200.9 299.9h.9M203.5 289.7h.9M198.5 287.0h.9M190.8 289.4h.9M205.1 287.7h.9M182.5 286.2h.9M185.7 290.1h.9M193.6 285.5h.9M189.3 289.1h.9M199.7 293.9h.9M207.8 289.8h.9M201.8 291.4h.9M186.7 288.0h.9M215.4 290.3h.9M210.7 294.9h.9M210.8 290.1h.9M204.4 289.6h.9M186.6 285.5h.9M200.1 283.4h.9M199.5 286.9h.9M199.4 284.5h.9M203.7 289.9h.9M182.9 284.2h.9M196.9 283.3h.9M199.2 293.3h.9M190.6 297.6h.9M208.9 292.5h.9M200.3 293.2h.9M194.0 297.2h.9M191.7 279.1h.9M196.5 293.1h.9M203.5 285.8h.9M208.5 287.1h.9M201.8 294.5h.9M197.9 296.4h.9M192.0 300.7h.9M200.6 289.0h.9M219.0 291.0h.9M182.2 297.7h.9M209.8 288.3h.9M187.7 296.3h.9M196.9 286.5h.9M192.2 291.3h.9M204.9 298.4h.9M191.0 298.3h.9M183.2 294.4h.9M195.2 293.1h.9M192.6 287.7h.9M198.8 296.4h.9M177.1 291.3h.9M192.9 285.9h.9M184.7 293.5h.9M201.2 294.1h.9M179.1 283.8h.9M191.0 289.0h.9M211.7 289.2h.9M197.5 295.7h.9M210.9 292.8h.9M199.4 300.2h.9M192.9 282.5h.9M189.8 289.5h.9M207.8 292.5h.9M206.9 291.5h.9M196.7 288.3h.9M185.6 293.4h.9M199.5 293.7h.9M191.7 289.0h.9M199.7 293.9h.9M213.7 286.9h.9M205.0 295.2h.9M194.1 291.7h.9M195.9 298.2h.9M218.5 292.5h.9M194.2 295.5h.9M200.7 290.1h.9M202.9 295.1h.9M192.9 295.0h.9M176.9 284.9h.9M193.7 291.8h.9M183.7 298.0h.9M193.1 291.7h.9M196.0 294.6h.9M191.3 294.5h.9M189.2 284.0h.9M200.9 291.8h.9M204.0 281.8h.9M197.3 288.0h.9M194.7 289.1h.9M193.1 287.8h.9M205.3 282.9h.9M181.8 292.6h.9M213.9 287.4h.9M188.5 285.5h.9M187.5 296.9h.9M202.3 295.3h.9M199.4 292.1h.9M191.3 286.4h.9M201.8 302.8h.9M193.2 297.0h.9M190.3 291.2h.9M211.2 290.7h.9M201.9 288.3h.9M212.7 285.2h.9M201.3 289.9h.9M198.1 292.7h.9M207.8 295.2h.9M205.6 292.8h.9M187.1 297.4h.9M209.8 293.3h.9M203.3 289.9h.9M183.8 295.7h.9M190.1 300.1h.9M202.4 290.9h.9M191.0 291.5h.9M187.6 289.2h.9M210.3 289.6h.9M212.4 290.6h.9M200.0 286.6h.9M193.8 288.9h.9M184.3 300.2h.9M201.5 290.6h.9M186.8 291.2h.9M187.2 286.4h.9M194.7 301.3h.9M181.2 293.7h.9M191.6 277.2h.9M184.1 290.4h.9M196.9 287.4h.9M211.8 293.6h.9M190.9 283.2h.9M197.9 287.8h.9M205.3 286.0h.9M206.8 288.8h.9M198.0 289.7h.9M201.8 296.5h.9M191.6 286.7h.9M212.9 295.6h.9M213.0 295.6h.9M197.5 298.8h.9M190.5 289.0h.9M192.8 294.3h.9M188.9 290.2h.9M189.0 289.9h.9M206.1 296.3h.9M194.4 303.2h.9M190.2 293.2h.9M192.1 280.5h.9M186.0 296.9h.9M181.9 305.0h.9M195.2 292.3h.9M207.3 291.2h.9M190.8 288.1h.9M188.1 293.6h.9M192.2 293.5h.9M183.2 289.0h.9M214.3 292.7h.9M195.4 296.7h.9M198.7 298.3h.9M186.1 294.7h.9M187.0 294.3h.9M240.8 290.1h.9M231.8 293.9h.9M235.3 282.3h.9M234.8 280.8h.9M236.7 291.1h.9M233.6 293.3h.9M240.6 279.6h.9M229.0 296.7h.9M232.9 284.9h.9M236.5 291.9h.9M235.7 296.9h.9M232.4 287.8h.9M235.2 269.7h.9M226.6 299.6h.9M233.5 289.5h.9M231.5 293.0h.9M237.0 280.9h.9M235.6 285.6h.9M233.6 289.7h.9M238.2 286.8h.9M235.9 287.1h.9M228.2 301.5h.9M234.0 289.1h.9M232.7 280.2h.9M238.1 295.3h.9M238.4 271.5h.9M235.6 279.1h.9M233.6 285.7h.9M232.4 285.5h.9M232.8 295.0h.9M238.5 289.1h.9M234.0 287.5h.9M233.4 289.1h.9M232.4 289.3h.9M236.4 284.2h.9M231.8 290.3h.9M234.3 287.7h.9M233.3 293.8h.9M233.9 282.1h.9M235.6 282.0h.9M236.2 291.1h.9M235.4 288.8h.9M230.4 291.6h.9M234.4 292.1h.9M231.0 291.2h.9M229.9 294.6h.9M234.3 289.0h.9M238.6 287.7h.9M233.5 285.4h.9M232.8 294.9h.9M236.6 282.2h.9M233.7 286.1h.9M235.9 287.4h.9M232.1 285.1h.9M237.6 275.2h.9M229.1 274.7h.9M239.6 278.3h.9M236.4 289.2h.9M236.4 293.0h.9M232.8 289.9h.9M236.7 288.8h.9M232.0 286.1h.9M230.1 294.9h.9M232.6 280.2h.9M232.5 292.4h.9M234.6 286.4h.9M234.5 292.1h.9M230.8 287.2h.9M236.7 289.9h.9M230.2 288.5h.9M238.0 288.5h.9M233.7 295.5h.9M237.8 293.0h.9M230.2 284.8h.9M232.7 289.8h.9M233.1 291.2h.9M238.1 290.6h.9M236.8 285.1h.9M238.6 285.9h.9M234.7 287.5h.9M229.0 308.3h.9M234.0 294.3h.9M240.3 279.7h.9M230.8 298.8h.9M234.7 281.6h.9M236.7 285.3h.9M231.4 275.4h.9M231.3 294.2h.9M231.2 298.1h.9M240.1 283.2h.9M234.7 287.2h.9M236.4 285.8h.9M236.9 294.1h.9M236.4 279.5h.9M235.9 284.6h.9M234.9 293.6h.9M232.2 292.0h.9M238.1 278.2h.9M233.5 293.7h.9M233.4 295.8h.9M231.3 282.2h.9M235.1 286.3h.9M234.9 293.6h.9M237.0 282.7h.9M233.0 277.4h.9M231.4 293.3h.9M234.7 278.3h.9M236.2 285.6h.9M237.1 282.5h.9M236.7 278.2h.9M228.9 289.5h.9M236.0 288.7h.9M228.8 295.7h.9M235.9 296.9h.9M236.2 289.1h.9M229.7 296.1h.9M228.6 293.1h.9M233.0 283.5h.9M231.2 290.9h.9M235.7 282.4h.9M234.9 292.0h.9M234.0 300.7h.9M233.2 284.8h.9M228.8 301.6h.9M235.9 285.0h.9M234.9 286.6h.9M236.5 285.5h.9M234.7 287.2h.9M231.6 277.3h.9M235.6 278.7h.9M235.2 291.2h.9M239.3 277.4h.9M234.5 294.0h.9M232.2 287.0h.9M235.3 300.1h.9M237.0 290.9h.9M231.4 295.9h.9M237.2 276.6h.9M234.1 287.2h.9M235.8 275.2h.9M236.0 286.1h.9M233.3 275.9h.9M228.3 291.9h.9M235.9 289.0h.9M236.1 275.2h.9M234.6 296.3h.9M229.8 297.8h.9M232.0 294.4h.9M234.3 277.8h.9M231.1 300.0h.9M233.7 296.7h.9M235.0 293.0h.9M233.0 291.2h.9M233.0 295.5h.9M232.5 297.4h.9M238.4 275.5h.9M233.6 292.5h.9M239.0 289.8h.9M234.3 277.2h.9M236.4 281.9h.9M234.6 290.4h.9M230.1 299.9h.9M236.6 289.1h.9M235.7 288.7h.9M230.2 289.9h.9M236.3 283.6h.9M234.1 290.7h.9M234.3 289.8h.9M235.4 286.9h.9M231.0 290.4h.9M236.7 281.0h.9M235.3 288.8h.9M231.6 273.5h.9M234.0 283.6h.9M232.3 296.5h.9M231.9 293.2h.9M234.4 289.3h.9M239.6 269.3h.9M236.7 284.3h.9M233.3 285.2h.9M234.2 288.6h.9M231.5 301.9h.9M232.0 290.1h.9M230.5 293.7h.9M235.0 294.1h.9M236.8 282.0h.9M238.5 282.4h.9M238.3 294.1h.9M232.9 283.0h.9M235.5 295.7h.9M235.1 294.1h.9M235.7 292.1h.9M237.7 282.2h.9M230.1 292.4h.9M231.9 283.6h.9M233.6 293.5h.9M228.9 285.0h.9M236.2 280.2h.9M233.0 298.3h.9M237.1 287.0h.9M235.5 269.5h.9M235.6 289.0h.9M230.2 294.2h.9M235.3 286.2h.9M236.2 291.4h.9M234.2 286.7h.9M230.8 299.6h.9M232.5 292.4h.9M238.3 288.2h.9M230.5 292.2h.9M232.1 280.4h.9M231.8 294.8h.9M235.0 286.0h.9M234.5 280.5h.9M231.9 290.0h.9M236.2 283.8h.9M233.6 291.1h.9M238.1 275.6h.9M235.5 287.9h.9M233.8 290.3h.9M228.6 295.2h.9M233.4 281.5h.9M236.4 284.9h.9M233.1 294.4h.9M231.5 287.0h.9M236.3 291.2h.9M239.6 278.9h.9M230.0 283.9h.9M230.7 293.1h.9M233.4 285.0h.9M231.2 287.4h.9M233.0 297.2h.9M235.8 295.0h.9M236.3 290.5h.9M237.3 287.4h.9M238.3 290.5h.9M239.0 283.8h.9M231.9 306.9h.9M233.3 292.7h.9M233.0 285.3h.9M235.2 280.0h.9M233.6 297.9h.9M234.4 293.2h.9M235.8 288.8h.9M234.3 292.0h.9M231.4 295.4h.9M231.1 287.3h.9M232.4 282.0h.9M228.6 297.4h.9M235.4 291.0h.9M240.1 282.2h.9M236.1 281.3h.9M236.0 278.9h.9M239.5 275.8h.9M232.9 294.6h.9M228.0 304.2h.9M231.4 292.9h.9M236.7 286.2h.9M236.6 282.2h.9M235.7 272.8h.9M238.2 279.3h.9M231.6 291.5h.9M238.7 278.4h.9M234.0 286.3h.9M231.4 283.4h.9M235.6 291.0h.9M231.9 292.4h.9M235.3 289.4h.9M233.6 289.3h.9M234.8 280.9h.9M233.6 294.0h.9M232.5 298.6h.9M233.4 282.3h.9M233.2 280.9h.9M235.7 276.4h.9M234.1 287.0h.9M233.2 292.2h.9M234.8 284.0h.9M236.3 282.9h.9M236.5 294.0h.9M235.1 293.1h.9M230.3 296.5h.9M229.9 292.4h.9M235.9 269.3h.9M231.9 286.2h.9M231.4 291.8h.9M235.8 279.1h.9M232.3 278.9h.9M232.1 277.6h.9M229.9 296.5h.9M236.4 280.5h.9M235.0 282.4h.9M237.0 296.0h.9M227.2 291.2h.9M232.2 287.6h.9M238.3 293.2h.9M234.0 292.6h.9M229.6 291.9h.9M233.2 288.5h.9M234.8 277.7h.9M231.1 305.5h.9M229.2 294.6h.9M236.0 289.2h.9M234.2 278.1h.9M232.7 280.2h.9M239.4 284.2h.9M236.0 287.4h.9M232.9 297.2h.9M236.4 289.6h.9M235.6 291.2h.9M233.2 292.2h.9M234.2 286.6h.9M235.8 299.8h.9M228.4 304.3h.9M232.8 297.5h.9M231.2 290.7h.9M236.8 284.6h.9M235.0 279.7h.9M230.8 302.8h.9M234.4 287.4h.9M230.2 286.6h.9M231.2 291.6h.9M233.7 285.0h.9M232.2 291.4h.9M237.2 275.8h.9M230.1 300.3h.9M230.1 290.7h.9M234.3 299.6h.9M228.4 277.0h.9M233.8 295.5h.9M234.4 282.9h.9M234.5 274.9h.9M236.3 295.1h.9M233.4 294.4h.9M231.1 301.3h.9M232.2 285.6h.9M231.9 279.9h.9M235.9 298.9h.9M230.1 292.0h.9M235.2 283.4h.9M229.7 295.8h.9M236.8 285.8h.9M231.0 290.2h.9M228.7 294.6h.9M237.4 291.5h.9M233.8 291.5h.9M232.6 291.1h.9M232.4 291.5h.9M232.6 291.5h.9M235.9 286.1h.9M230.4 296.0h.9M233.3 286.2h.9M235.6 281.3h.9M236.6 288.9h.9M232.1 286.4h.9M233.7 283.2h.9M236.6 271.1h.9M234.4 285.8h.9M231.0 296.1h.9M232.7 293.0h.9M232.8 288.2h.9M235.4 292.8h.9M236.8 285.1h.9M238.1 281.4h.9M230.2 281.2h.9M230.0 287.8h.9M229.1 296.5h.9M234.1 288.2h.9M234.7 287.0h.9M233.3 287.3h.9M234.1 281.2h.9M237.5 294.0h.9M234.1 302.8h.9M231.3 297.4h.9M229.5 297.7h.9M231.9 297.3h.9M234.3 294.1h.9M235.7 289.8h.9M233.2 299.5h.9M235.0 290.4h.9M238.0 282.1h.9M238.8 289.6h.9M234.2 279.1h.9M237.4 282.5h.9M234.3 289.0h.9M236.6 289.3h.9M229.0 290.4h.9M235.0 288.4h.9M236.2 289.4h.9M238.5 278.5h.9M237.6 286.6h.9M234.8 291.8h.9M233.1 294.1h.9M233.4 293.8h.9M231.9 298.5h.9M229.8 289.4h.9M233.9 290.2h.9M231.8 288.6h.9M234.7 294.3h.9M237.6 281.2h.9M233.8 286.7h.9M229.8 290.7h.9M237.1 276.2h.9M241.9 285.2h.9M238.8 283.9h.9M227.7 298.9h.9M238.4 279.6h.9M237.5 289.1h.9M236.2 290.6h.9M235.6 290.7h.9M237.3 287.2h.9M235.8 289.1h.9M234.4 282.5h.9M229.1 288.0h.9M230.6 283.2h.9M235.9 284.1h.9M237.5 304.1h.9M236.1 283.0h.9M235.1 285.9h.9M234.8 300.8h.9M238.4 291.3h.9M234.8 298.8h.9M236.3 291.4h.9M230.8 288.5h.9M234.5 286.6h.9M232.6 277.5h.9M232.0 290.3h.9M234.9 280.7h.9M233.7 300.4h.9M234.5 275.5h.9M233.5 289.1h.9M237.5 285.5h.9M237.8 286.0h.9M237.2 293.2h.9M238.3 284.7h.9M235.8 311.3h.9M230.7 293.8h.9M235.3 282.5h.9M236.3 284.7h.9M236.2 287.1h.9M231.5 298.2h.9M239.5 287.7h.9M234.8 276.6h.9M234.9 287.2h.9M231.9 278.9h.9M235.3 293.2h.9M236.0 300.6h.9M228.8 297.0h.9M233.9 297.6h.9M233.9 282.5h.9M233.9 291.5h.9M232.0 285.9h.9M234.8 293.2h.9M233.4 292.4h.9M232.6 288.0h.9M234.6 294.0h.9M238.4 282.4h.9M235.3 299.5h.9M236.3 283.4h.9M235.2 278.1h.9M228.3 290.6h.9M232.1 282.3h.9M236.8 282.2h.9M234.3 288.7h.9M233.5 281.7h.9M239.3 269.5h.9M233.9 293.0h.9M233.5 288.5h.9M234.9 289.0h.9M233.1 296.5h.9M235.4 296.4h.9M234.3 275.5h.9M229.5 290.7h.9M235.3 276.6h.9M232.5 298.3h.9M235.0 282.9h.9M233.7 289.6h.9M232.9 287.9h.9M232.3 292.0h.9M238.4 292.5h.9M230.6 307.4h.9M233.7 279.9h.9M230.0 294.3h.9M234.7 283.6h.9M231.9 289.8h.9M234.8 291.9h.9M235.6 271.5h.9M232.4 292.1h.9M235.1 292.4h.9M230.0 303.4h.9M230.8 291.1h.9M232.8 287.0h.9M231.9 296.2h.9M236.2 288.1h.9M230.6 288.7h.9M233.9 291.2h.9M232.5 288.6h.9M241.2 280.3h.9M233.2 273.8h.9M232.0 301.4h.9M236.4 278.1h.9M236.2 287.0h.9M231.9 296.2h.9M232.4 288.6h.9M234.1 289.8h.9M232.9 291.8h.9M234.1 289.7h.9M235.1 283.1h.9M230.3 292.5h.9M237.4 286.6h.9M234.7 283.0h.9M230.9 284.3h.9M231.6 289.1h.9M229.9 292.8h.9M229.8 297.8h.9M234.0 277.3h.9M232.6 291.8h.9M235.1 292.2h.9M233.1 288.7h.9M233.4 292.7h.9M232.2 289.7h.9M234.4 285.8h.9M231.1 300.7h.9M235.4 281.0h.9M239.4 277.2h.9M231.7 289.0h.9M235.5 296.3h.9M237.8 287.5h.9M234.2 292.5h.9M231.9 286.6h.9M235.5 288.0h.9M234.7 281.2h.9M234.7 278.5h.9M236.6 285.5h.9M232.3 287.6h.9M241.6 299.4h.9M232.2 299.5h.9M226.2 305.1h.9M234.1 290.1h.9M231.5 283.3h.9M234.7 284.9h.9M235.4 293.6h.9M233.7 292.3h.9M234.5 289.4h.9M232.6 291.7h.9M235.2 287.6h.9M232.8 280.7h.9M231.2 301.9h.9M236.8 287.1h.9M234.8 286.6h.9M235.9 292.4h.9M233.4 291.3h.9M236.6 275.3h.9M231.5 287.9h.9M230.9 289.5h.9M231.8 288.7h.9M235.3 279.4h.9M234.3 297.0h.9M234.6 280.1h.9M232.4 297.9h.9M233.3 285.3h.9M236.2 281.4h.9M231.0 296.0h.9M234.1 284.3h.9M235.3 294.0h.9M237.0 285.6h.9M235.3 290.2h.9M230.0 303.9h.9M232.3 287.1h.9M231.8 285.0h.9M237.0 285.0h.9M232.5 278.7h.9M234.5 287.6h.9M231.3 291.2h.9M229.1 298.6h.9M230.8 295.6h.9M234.3 274.6h.9M231.0 288.0h.9M236.2 289.7h.9M235.8 297.1h.9M233.3 286.2h.9M229.0 288.0h.9M235.6 281.3h.9M231.7 297.4h.9M227.4 305.4h.9M237.5 272.9h.9M235.3 286.9h.9M236.5 283.4h.9M233.7 297.9h.9M232.5 293.1h.9M235.8 285.7h.9M236.4 289.0h.9M236.3 274.9h.9M231.3 293.7h.9M237.2 293.8h.9M234.1 283.7h.9M231.1 279.6h.9M232.7 293.8h.9M233.9 279.3h.9M233.8 289.1h.9M232.0 300.2h.9M235.2 294.1h.9M234.3 282.0h.9M237.0 292.0h.9M232.5 281.9h.9M236.3 282.2h.9M230.9 291.7h.9M235.5 281.9h.9M234.2 294.7h.9M236.1 276.1h.9M236.0 297.5h.9M236.5 285.0h.9M235.1 277.2h.9M232.5 287.1h.9M239.6 281.8h.9M231.4 302.4h.9M237.4 274.0h.9M233.5 278.4h.9M236.8 270.6h.9M239.0 275.7h.9M231.3 305.4h.9M235.5 289.0h.9M236.4 279.4h.9M236.4 283.9h.9M235.5 288.3h.9M237.8 275.8h.9M230.3 297.2h.9M240.4 284.3h.9M233.6 293.3h.9M230.8 293.0h.9M229.6 294.7h.9M236.0 297.0h.9M232.7 296.1h.9M237.7 277.5h.9M233.3 277.5h.9M231.7 294.1h.9M228.6 293.1h.9M236.0 295.3h.9M227.4 299.0h.9M232.4 275.8h.9M231.3 295.6h.9M234.0 293.1h.9M233.3 293.7h.9M231.4 285.4h.9M233.6 277.8h.9M237.4 282.9h.9M231.4 286.1h.9M231.5 292.4h.9M233.1 295.2h.9M231.0 291.8h.9M230.0 290.4h.9M237.7 283.3h.9M236.4 285.2h.9M231.1 286.4h.9M231.0 294.3h.9M234.7 306.6h.9M238.5 288.6h.9M231.4 292.4h.9M231.6 306.5h.9M232.1 298.3h.9M230.4 297.8h.9M230.8 289.5h.9M234.5 288.8h.9M233.9 288.3h.9M231.7 290.6h.9M233.9 282.7h.9M235.6 287.8h.9M232.0 299.3h.9M232.5 278.1h.9M237.4 282.0h.9M238.0 286.6h.9M231.7 298.6h.9M235.3 293.0h.9M234.2 298.4h.9M236.5 283.4h.9M230.0 293.1h.9M234.2 281.9h.9M233.5 298.8h.9M232.8 297.3h.9M231.5 285.3h.9M236.6 284.4h.9M234.6 294.4h.9M238.4 275.3h.9M235.6 288.1h.9M226.2 328.2h.9M223.3 310.2h.9M229.0 294.7h.9M227.9 304.8h.9M227.6 306.3h.9M229.0 309.5h.9M219.7 321.9h.9M230.8 297.1h.9M215.3 318.0h.9M222.2 326.9h.9M237.2 310.4h.9M233.5 306.1h.9M214.7 323.1h.9M211.7 336.0h.9M227.1 322.5h.9M220.2 303.6h.9M223.6 319.0h.9M223.5 310.8h.9M225.7 312.0h.9M235.8 296.4h.9M208.2 323.8h.9M227.2 299.9h.9M224.8 317.9h.9M227.7 314.9h.9M219.3 305.5h.9M232.4 306.5h.9M214.6 333.5h.9M230.8 287.0h.9M244.9 302.9h.9M212.8 329.7h.9M227.6 322.8h.9M225.2 300.1h.9M223.8 311.2h.9M227.3 311.1h.9M229.4 301.1h.9M220.9 312.3h.9M228.3 297.8h.9M225.1 333.9h.9M211.3 331.2h.9M225.8 321.8h.9M225.5 315.9h.9M227.9 316.1h.9M215.9 318.7h.9M239.1 317.1h.9M218.6 310.1h.9M223.8 323.7h.9M232.1 304.7h.9M206.9 325.0h.9M212.4 331.9h.9M236.4 312.5h.9M229.6 315.9h.9M239.2 314.3h.9M236.1 297.5h.9M221.1 316.5h.9M208.0 322.3h.9M224.9 313.5h.9M244.4 300.2h.9M223.6 313.9h.9M222.4 303.8h.9M233.7 308.8h.9M227.8 312.6h.9M219.1 304.4h.9M222.9 319.8h.9M224.1 320.7h.9M219.0 315.3h.9M226.2 312.4h.9M226.4 325.1h.9M221.8 317.1h.9M220.1 321.7h.9M226.8 306.8h.9M217.3 308.8h.9M222.9 316.6h.9M221.3 315.4h.9M226.1 333.0h.9M234.1 327.7h.9M226.1 315.2h.9M240.0 307.8h.9M230.1 306.6h.9M220.9 323.1h.9M220.5 311.4h.9M213.6 323.6h.9M224.3 319.0h.9M218.4 307.8h.9M233.5 308.9h.9M231.1 300.6h.9M215.1 299.1h.9M227.3 320.8h.9M235.2 322.4h.9M211.1 313.6h.9M221.0 309.9h.9M223.4 308.3h.9M213.8 320.7h.9M226.0 307.0h.9M225.3 303.0h.9M222.5 312.8h.9M221.5 315.6h.9M215.3 308.9h.9M218.7 324.1h.9M217.7 310.8h.9M240.2 302.3h.9M222.1 308.4h.9M236.3 311.3h.9M227.0 326.1h.9M215.9 305.7h.9M233.5 312.3h.9M221.1 323.1h.9M224.3 330.8h.9M215.3 323.1h.9M232.5 316.7h.9M222.2 312.4h.9M221.7 321.9h.9M221.9 314.8h.9M232.9 308.1h.9M226.9 311.8h.9M225.1 295.4h.9M217.8 321.6h.9M220.1 311.9h.9M225.4 332.9h.9M219.2 309.7h.9M211.2 326.5h.9M224.6 307.2h.9M221.9 324.2h.9M232.8 312.2h.9M233.9 316.9h.9M221.5 322.9h.9M226.2 319.7h.9M227.1 330.6h.9M215.3 323.1h.9M216.7 338.7h.9M221.0 313.4h.9M224.8 313.7h.9M238.1 305.4h.9M226.9 321.7h.9M236.6 298.7h.9M227.3 301.4h.9M228.8 323.5h.9M221.0 314.2h.9M234.2 312.0h.9M231.2 306.3h.9M222.6 312.4h.9M237.1 293.9h.9M221.0 329.6h.9M224.5 305.2h.9M226.8 311.0h.9M224.1 318.8h.9M231.1 297.6h.9M226.5 325.6h.9M214.7 319.7h.9M216.1 325.2h.9M218.5 315.3h.9M221.8 319.8h.9M214.9 308.5h.9M226.4 324.5h.9M221.1 319.9h.9M227.0 313.6h.9M224.8 309.5h.9M223.1 325.3h.9M228.4 322.7h.9M219.4 318.5h.9M220.0 306.0h.9M231.9 307.3h.9M226.8 300.9h.9M223.0 314.2h.9M222.0 324.5h.9M228.5 312.9h.9M226.7 309.2h.9M219.5 315.1h.9M217.1 317.5h.9M224.1 324.1h.9M221.6 336.6h.9M221.0 317.6h.9M224.8 309.0h.9M224.5 299.4h.9M233.6 303.8h.9M224.8 298.8h.9M229.3 300.5h.9M235.4 298.7h.9M219.3 323.1h.9M234.8 291.1h.9M212.0 335.8h.9M228.4 299.0h.9M221.6 322.0h.9M222.0 328.7h.9M219.5 318.9h.9M233.8 321.0h.9M226.8 317.8h.9M222.4 315.1h.9M220.5 320.1h.9M231.4 301.5h.9M216.0 320.0h.9M240.3 306.4h.9M226.0 313.0h.9M212.1 316.0h.9M236.5 288.9h.9M238.7 295.2h.9M240.6 326.5h.9M236.4 305.7h.9M229.5 306.5h.9M221.5 317.9h.9M200.8 333.9h.9M222.5 306.3h.9M222.8 320.9h.9M219.0 320.8h.9M214.6 321.3h.9M216.1 326.1h.9M216.9 324.3h.9M209.7 325.1h.9M233.4 301.7h.9M225.4 306.4h.9M228.6 318.2h.9M233.7 319.8h.9M234.9 301.6h.9M225.8 318.0h.9M226.4 301.9h.9M240.5 326.1h.9M225.4 291.5h.9M238.9 303.7h.9M242.3 294.2h.9M229.0 318.3h.9M213.9 318.1h.9M228.7 317.3h.9M227.9 289.8h.9M206.6 328.6h.9M237.2 293.2h.9M227.9 320.1h.9M217.4 305.2h.9M227.0 308.9h.9M224.2 312.7h.9M224.0 317.2h.9M220.9 316.3h.9M220.6 309.3h.9M227.6 305.2h.9M229.0 311.2h.9M233.2 313.9h.9M209.6 323.4h.9M230.0 311.8h.9M225.2 323.1h.9M230.1 299.3h.9M225.6 322.1h.9M226.1 302.3h.9M230.9 315.5h.9M233.7 310.0h.9M225.8 320.8h.9M216.5 334.0h.9M228.0 314.0h.9M230.7 317.2h.9M208.0 332.5h.9M224.1 307.8h.9M231.8 317.8h.9M227.8 306.9h.9M225.7 305.3h.9M244.3 296.3h.9M231.6 323.8h.9M218.3 313.5h.9M207.7 322.7h.9M214.8 321.7h.9M223.2 315.2h.9M225.2 309.8h.9M225.8 312.9h.9M219.4 314.8h.9M220.5 305.7h.9M224.7 298.2h.9M229.0 311.2h.9M226.2 323.2h.9M232.2 305.7h.9M227.6 322.6h.9M223.7 318.0h.9M228.1 303.1h.9M227.1 309.3h.9M222.9 319.0h.9M229.9 303.1h.9M223.0 313.5h.9M217.6 321.8h.9M223.3 308.9h.9M232.1 308.8h.9M216.0 318.8h.9M223.5 317.4h.9M242.2 307.9h.9M236.0 305.6h.9M228.5 316.0h.9M224.1 316.6h.9M221.4 322.1h.9M218.0 333.1h.9M196.4 319.9h.9M223.9 317.8h.9M226.0 299.4h.9M228.2 304.4h.9M226.4 309.5h.9M222.8 302.3h.9M214.9 315.5h.9M216.7 321.2h.9M214.2 322.6h.9M229.1 305.0h.9M217.6 315.6h.9M230.9 322.2h.9M241.4 304.5h.9M229.6 312.7h.9M224.7 304.9h.9M222.2 325.3h.9M235.5 302.2h.9M212.5 338.0h.9M225.1 317.8h.9M223.6 299.4h.9M227.3 304.2h.9M222.7 310.0h.9M222.9 335.9h.9M236.4 290.0h.9M213.1 317.1h.9M219.8 323.9h.9M236.9 300.3h.9M229.3 309.5h.9M209.7 333.6h.9M238.3 298.6h.9M229.7 306.6h.9M224.2 310.5h.9M223.8 315.1h.9M220.2 319.3h.9M215.0 327.2h.9M217.6 302.6h.9M231.3 307.1h.9M220.8 324.4h.9M224.6 330.9h.9M228.2 299.7h.9M221.0 310.7h.9M222.7 329.9h.9M245.7 315.7h.9M228.4 316.6h.9M226.2 294.2h.9M235.5 324.4h.9M220.9 316.3h.9M219.4 315.7h.9M218.3 308.5h.9M234.2 291.5h.9M232.8 299.3h.9M222.9 298.0h.9M229.9 302.3h.9M244.0 294.1h.9M226.8 318.5h.9M217.4 311.6h.9M216.7 324.0h.9M227.2 321.3h.9M213.9 312.9h.9M224.0 310.8h.9M227.3 322.2h.9M225.9 306.5h.9M224.6 308.0h.9M219.9 333.1h.9M230.1 326.5h.9M223.3 314.5h.9M215.2 322.1h.9M230.5 316.5h.9M216.0 320.5h.9M232.0 305.6h.9M230.3 306.3h.9M224.9 309.1h.9M213.5 314.0h.9M226.2 310.7h.9M224.8 309.1h.9M231.7 308.3h.9M227.9 308.1h.9M234.9 306.9h.9M228.2 330.9h.9M228.2 298.5h.9M219.8 320.0h.9M214.8 307.7h.9M224.0 301.0h.9M233.2 312.5h.9M222.5 325.9h.9M219.7 307.1h.9M231.9 309.8h.9M223.2 324.0h.9M223.9 320.2h.9M226.6 322.9h.9M229.1 307.3h.9M236.5 303.7h.9M238.2 294.8h.9M225.3 294.5h.9M228.9 323.0h.9M221.9 320.0h.9M223.2 327.5h.9M227.5 315.5h.9M233.3 295.7h.9M230.2 311.8h.9M234.9 308.1h.9M229.6 310.6h.9M217.4 314.4h.9M223.6 303.5h.9M224.6 310.2h.9M238.9 303.2h.9M225.9 314.2h.9M230.3 296.9h.9M211.6 336.0h.9M218.5 310.4h.9M233.9 311.0h.9M218.8 324.3h.9M216.3 333.4h.9M222.5 318.4h.9M224.9 330.6h.9M217.6 317.8h.9M241.4 286.2h.9M221.2 318.7h.9M223.3 318.9h.9M233.8 298.7h.9M220.0 328.4h.9M239.9 281.7h.9M229.1 320.0h.9M219.8 309.8h.9M216.3 317.7h.9M216.2 325.6h.9M219.7 321.8h.9M213.0 329.1h.9M230.1 318.9h.9M227.0 332.4h.9M232.4 309.8h.9M237.3 303.2h.9M226.2 327.3h.9M221.4 316.2h.9M226.9 314.4h.9M223.2 323.8h.9M241.5 300.4h.9M213.7 317.1h.9M214.4 309.7h.9M217.1 328.1h.9M226.2 319.4h.9M224.1 323.3h.9M221.9 327.1h.9M231.8 311.7h.9M213.7 311.6h.9M227.0 303.8h.9M223.7 313.4h.9M235.5 301.6h.9M226.0 309.4h.9M219.2 321.4h.9M232.4 297.1h.9M236.5 326.0h.9M226.2 317.7h.9M217.0 315.5h.9M227.4 311.8h.9M235.6 299.9h.9M223.1 319.7h.9M224.4 312.2h.9M224.1 318.0h.9M210.3 345.5h.9M230.7 301.4h.9M218.1 308.6h.9M228.3 296.0h.9M243.8 297.6h.9M214.2 338.4h.9M225.0 318.3h.9M223.6 312.7h.9M240.8 287.3h.9M227.0 306.4h.9M222.4 315.1h.9M210.9 328.1h.9M226.6 317.8h.9M220.4 323.2h.9M221.5 322.8h.9M235.3 312.9h.9M214.0 321.5h.9M217.1 335.6h.9M226.5 302.1h.9M213.4 332.6h.9M217.4 322.3h.9M222.5 314.3h.9M221.7 316.2h.9M237.4 298.8h.9M229.0 315.6h.9M219.9 307.9h.9M218.2 323.2h.9M226.3 322.0h.9M227.8 313.3h.9M225.2 315.9h.9M225.4 319.5h.9M218.4 327.3h.9M237.5 305.5h.9M229.4 301.2h.9M225.8 301.3h.9M232.6 309.7h.9M233.3 318.5h.9M219.4 324.5h.9M236.9 325.5h.9M224.2 319.2h.9M220.2 322.5h.9M229.6 323.5h.9M223.9 315.2h.9M228.9 310.2h.9M240.9 285.2h.9M211.9 317.9h.9M230.4 310.9h.9M228.3 299.1h.9M229.6 315.8h.9M237.6 313.2h.9M220.3 310.7h.9M216.4 315.3h.9M224.3 325.2h.9M237.7 306.7h.9M229.6 309.7h.9M215.1 324.7h.9M219.5 303.8h.9M218.6 330.7h.9M216.2 331.1h.9M214.6 320.0h.9M228.9 308.2h.9M217.6 318.7h.9M237.9 311.6h.9M226.6 317.9h.9M234.1 319.6h.9M223.0 307.8h.9M217.5 319.3h.9M222.8 315.5h.9M220.3 338.1h.9M219.7 329.5h.9M218.5 311.5h.9M216.1 310.4h.9M212.5 314.9h.9M223.2 321.1h.9M211.4 326.3h.9M224.2 314.5h.9M208.5 328.5h.9M230.2 320.5h.9M222.8 325.9h.9M225.6 305.9h.9M229.1 319.8h.9M226.8 312.6h.9M223.1 320.9h.9M211.2 325.3h.9M215.1 315.8h.9M226.6 323.5h.9M225.0 306.2h.9M246.0 303.7h.9M204.2 326.2h.9M219.4 312.4h.9M233.2 327.0h.9M225.8 302.2h.9M231.7 310.6h.9M221.9 317.7h.9M216.1 321.3h.9M227.8 322.4h.9M240.5 299.0h.9M228.0 305.5h.9M238.2 306.6h.9M247.0 316.4h.9M213.1 269.8h.9M251.2 332.1h.9M189.2 317.2h.9M236.6 333.9h.9M221.3 323.5h.9M187.2 299.6h.9M201.6 302.0h.9M244.2 289.0h.9M215.0 321.4h.9M251.0 332.0h.9M247.6 282.7h.9M250.9 320.3h.9M186.1 303.2h.9M241.9 314.1h.9M233.8 297.2h.9M198.3 324.8h.9M248.1 304.9h.9M217.7 275.0h.9M180.9 300.2h.9M233.4 332.5h.9M195.9 299.9h.9M202.3 331.9h.9M206.4 344.7h.9M235.6 334.5h.9M186.8 291.3h.9M247.8 287.1h.9M239.2 295.1h.9M232.5 286.5h.9M228.2 273.9h.9M182.3 319.3h.9M245.4 277.9h.9M226.3 301.9h.9M236.7 306.6h.9M198.9 315.4h.9M236.3 269.7h.9M245.9 320.3h.9M207.2 334.6h.9M247.9 287.3h.9M198.5 337.6h.9M187.9 346.0h.9M237.0 342.5h.9M189.7 339.0h.9M204.9 321.8h.9M238.5 298.1h.9M185.9 334.0h.9M239.9 331.3h.9M228.9 295.7h.9M194.8 312.7h.9M225.4 297.7h.9M231.3 273.1h.9M219.5 305.1h.9M190.8 313.2h.9M222.3 270.4h.9M244.7 296.9h.9M248.4 325.3h.9M228.0 281.9h.9M235.1 309.8h.9M208.7 285.0h.9M221.5 341.3h.9M180.4 339.6h.9" stroke="#000" stroke-width="0.8" stroke-opacity="0.33" fill="none"/>
<rect x="172.7" y="268.2" width="80.5" height="79.0" fill="none" stroke="#222" stroke-width="1" />
<line x1="213.3" y1="268.2" x2="213.3" y2="347.2" stroke="#333" stroke-width="1" />
<line x1="172.7" y1="299.9" x2="253.2" y2="299.9" stroke="#333" stroke-width="1" />
<text x="203.4" y="256.7" font-size="13" font-weight="bold" textLength="14.2" lengthAdjust="spacingAndGlyphs" >+/-</text>
<text x="174.3" y="283" font-size="13" font-weight="bold" >4.4</text>
<text x="255.6" y="283" font-size="13" font-weight="bold" text-anchor="end" >17.3</text>
<text x="174.3" y="343.2" font-size="13" font-weight="bold" >66.3</text>
<text x="250.5" y="343.2" font-size="13" font-weight="bold" text-anchor="end" >12.0</text>
<line x1="172.7" y1="347.2" x2="172.7" y2="349.2" stroke="#555" stroke-width="0.8" />
<text x="172.7" y="354.2" font-size="4.5" text-anchor="middle" fill="#666" >10</text>
<line x1="170.7" y1="347.2" x2="172.7" y2="347.2" stroke="#555" stroke-width="0.8" />
<text transform="translate(169.2,347.2) rotate(-90)" font-size="4.5" text-anchor="middle" fill="#666" >10</text>
<line x1="192.825" y1="347.2" x2="192.825" y2="349.2" stroke="#555" stroke-width="0.8" />
<text x="192.825" y="354.2" font-size="4.5" text-anchor="middle" fill="#666" >10</text>
<line x1="170.7" y1="327.45" x2="172.7" y2="327.45" stroke="#555" stroke-width="0.8" />
<text transform="translate(169.2,327.45) rotate(-90)" font-size="4.5" text-anchor="middle" fill="#666" >10</text>
<line x1="212.95" y1="347.2" x2="212.95" y2="349.2" stroke="#555" stroke-width="0.8" />
<text x="212.95" y="354.2" font-size="4.5" text-anchor="middle" fill="#666" >10</text>
<line x1="170.7" y1="307.7" x2="172.7" y2="307.7" stroke="#555" stroke-width="0.8" />
<text transform="translate(169.2,307.7) rotate(-90)" font-size="4.5" text-anchor="middle" fill="#666" >10</text>
<line x1="233.075" y1="347.2" x2="233.075" y2="349.2" stroke="#555" stroke-width="0.8" />
<text x="233.075" y="354.2" font-size="4.5" text-anchor="middle" fill="#666" >10</text>
<line x1="170.7" y1="287.95" x2="172.7" y2="287.95" stroke="#555" stroke-width="0.8" />
<text transform="translate(169.2,287.95) rotate(-90)" font-size="4.5" text-anchor="middle" fill="#666" >10</text>
<line x1="253.2" y1="347.2" x2="253.2" y2="349.2" stroke="#555" stroke-width="0.8" />
<text x="253.2" y="354.2" font-size="4.5" text-anchor="middle" fill="#666" >10</text>
<line x1="170.7" y1="268.2" x2="172.7" y2="268.2" stroke="#555" stroke-width="0.8" />
<text transform="translate(169.2,268.2) rotate(-90)" font-size="4.5" text-anchor="middle" fill="#666" >10</text>
<text x="212.95" y="359.7" font-size="4.5" text-anchor="middle" fill="#666" >FL2-H</text>
<text transform="translate(164.7,307.7) rotate(-90)" font-size="4.5" text-anchor="middle" fill="#666" >FL3-H</text>
<rect x="262.7" y="261.7" width="94.10000000000002" height="100.5" fill="none" stroke="#ececec" stroke-width="1" />
<path d="M282.0 315.4h.9M291.8 307.5h.9M291.3 304.2h.9M299.3 321.3h.9M295.6 308.5h.9M280.0 313.2h.9M296.8 315.7h.9M295.9 320.7h.9M292.1 325.9h.9M287.8 311.7h.9M295.6 321.1h.9M288.0 305.6h.9M297.4 287.8h.9M294.8 315.4h.9M284.5 318.6h.9M292.7 337.2h.9M291.9 293.3h.9M286.2 322.1h.9M288.3 315.0h.9M290.1 329.0h.9M292.0 314.8h.9M287.6 324.6h.9M287.3 319.2h.9M292.5 323.2h.9M294.2 319.2h.9M299.6 324.9h.9M287.1 307.1h.9M287.3 327.5h.9M285.5 329.4h.9M292.5 311.0h.9M286.0 314.2h.9M294.0 316.0h.9M293.8 318.2h.9M296.7 312.7h.9M289.9 305.6h.9M289.1 306.6h.9M283.6 312.7h.9M293.6 296.1h.9M284.7 302.1h.9M292.2 321.5h.9M292.0 314.6h.9M287.0 317.0h.9M286.6 313.1h.9M292.3 314.0h.9M296.0 297.1h.9M283.3 323.7h.9M288.0 311.2h.9M288.0 315.0h.9M289.8 319.1h.9M294.7 333.7h.9M280.9 313.2h.9M286.5 317.2h.9M286.0 315.7h.9M291.8 315.9h.9M291.6 322.2h.9M285.7 314.7h.9M295.3 325.4h.9M295.0 309.2h.9M287.5 324.4h.9M290.5 318.7h.9M288.9 324.0h.9M291.3 307.1h.9M292.2 313.1h.9M289.3 320.9h.9M291.2 310.9h.9M285.2 310.9h.9M289.9 305.0h.9M287.7 336.6h.9M287.6 316.0h.9M285.0 312.0h.9M291.6 317.7h.9M282.9 314.9h.9M286.1 325.1h.9M290.1 330.3h.9M292.2 305.7h.9M294.8 312.4h.9M290.0 316.8h.9M284.7 325.5h.9M291.2 306.7h.9M284.3 319.0h.9M296.0 320.7h.9M291.9 312.4h.9M295.5 321.9h.9M286.9 309.7h.9M280.8 324.7h.9M304.0 317.5h.9M292.5 323.3h.9M289.5 335.3h.9M285.9 307.5h.9M297.8 325.7h.9M293.9 315.7h.9M290.3 317.3h.9M292.4 310.9h.9M295.2 332.7h.9M288.1 306.9h.9M291.1 338.5h.9M286.2 327.4h.9M287.5 308.6h.9M295.4 315.4h.9M290.3 322.4h.9M295.6 319.1h.9M297.5 311.2h.9M288.2 321.8h.9M293.5 300.9h.9M289.1 322.0h.9M289.8 332.2h.9M283.4 316.5h.9M286.7 300.9h.9M289.5 315.3h.9M288.6 310.0h.9M294.4 307.3h.9M287.7 302.9h.9M295.8 303.7h.9M298.3 309.2h.9M290.3 330.8h.9M285.7 327.1h.9M284.6 310.8h.9M293.0 319.6h.9M292.0 319.2h.9M297.6 302.8h.9M287.4 323.4h.9M283.9 308.6h.9M301.6 330.3h.9M292.8 317.3h.9M289.8 308.0h.9M286.6 306.5h.9M284.7 316.2h.9M292.4 308.0h.9M291.1 304.2h.9M292.2 313.5h.9M290.2 317.8h.9M296.4 319.1h.9M287.6 317.0h.9M292.3 321.3h.9M295.3 309.6h.9M285.1 320.8h.9M285.4 319.3h.9M302.8 329.7h.9M283.9 307.4h.9M292.3 313.9h.9M293.7 318.9h.9M292.0 321.5h.9M283.4 325.2h.9M284.1 306.9h.9M279.6 314.1h.9M292.3 313.1h.9M285.1 295.4h.9M293.1 306.2h.9M288.8 318.0h.9M290.2 319.8h.9M298.0 324.0h.9M285.9 314.9h.9M289.5 308.2h.9M293.5 313.2h.9M291.6 322.2h.9M300.0 312.5h.9M293.8 336.3h.9M297.8 320.3h.9M287.2 317.0h.9M287.7 311.9h.9M282.7 312.1h.9M281.4 323.4h.9M292.9 313.0h.9M290.7 317.3h.9M289.4 318.6h.9M289.7 320.2h.9M286.8 316.1h.9M298.2 310.3h.9M286.8 324.1h.9M292.0 317.9h.9M291.4 312.7h.9M288.1 320.4h.9M291.3 322.2h.9M292.6 336.9h.9M290.9 329.0h.9M291.2 336.8h.9M295.0 310.2h.9M297.8 312.5h.9M295.2 310.3h.9M292.2 318.0h.9M297.1 298.0h.9M281.7 323.5h.9M294.0 312.3h.9M291.0 300.6h.9M288.8 310.0h.9M294.6 319.4h.9M289.8 326.7h.9M287.6 322.7h.9M289.5 320.3h.9M289.2 328.8h.9M288.5 334.2h.9M294.2 309.5h.9M288.5 328.1h.9M297.3 306.7h.9M291.3 322.2h.9M301.4 324.5h.9M289.6 324.6h.9M290.9 308.7h.9M290.3 314.4h.9M289.6 317.0h.9M292.2 309.7h.9M293.6 302.7h.9M293.6 321.4h.9M292.5 303.3h.9M288.3 317.9h.9M292.7 323.6h.9M283.5 315.3h.9M295.5 306.9h.9M285.0 311.2h.9M289.3 313.9h.9M296.3 320.1h.9M281.8 322.0h.9M291.0 324.3h.9M290.4 329.0h.9M291.2 312.2h.9M285.0 323.9h.9M289.9 300.6h.9M294.4 329.0h.9M281.0 319.9h.9M293.6 332.7h.9M296.2 310.9h.9M292.6 323.6h.9M283.8 328.3h.9M292.8 324.6h.9M286.5 323.3h.9M290.3 313.8h.9M290.7 319.7h.9M283.6 315.3h.9M292.2 302.3h.9M298.4 341.3h.9M293.6 317.2h.9M285.8 305.7h.9M284.9 323.6h.9M286.5 317.6h.9M288.5 324.4h.9M296.4 326.0h.9M293.6 326.9h.9M298.4 310.2h.9M291.8 311.0h.9M290.8 314.7h.9M291.1 323.2h.9M284.6 292.0h.9M291.8 326.5h.9M288.7 329.7h.9M300.9 319.2h.9M289.6 321.2h.9M294.1 303.8h.9M292.8 298.6h.9M285.6 317.8h.9M292.0 306.2h.9M290.8 328.4h.9M283.0 320.4h.9M296.4 305.6h.9M296.0 321.8h.9M289.1 316.6h.9M290.4 317.0h.9M289.6 309.9h.9M294.7 332.9h.9M289.6 329.4h.9M287.0 304.5h.9M293.5 319.5h.9M292.6 308.4h.9M288.7 325.6h.9M297.9 320.4h.9M292.3 293.2h.9M287.5 328.0h.9M299.3 310.9h.9M278.9 319.1h.9M284.5 311.8h.9M287.8 312.9h.9M286.1 321.8h.9M291.9 305.1h.9M283.3 334.3h.9M293.1 319.1h.9M282.7 334.9h.9M285.7 317.0h.9M292.0 310.5h.9M291.1 312.7h.9M281.0 302.4h.9M287.6 311.4h.9M292.5 332.1h.9M289.4 336.3h.9M288.5 317.4h.9M289.5 301.3h.9M290.2 314.8h.9M286.7 322.8h.9M292.3 314.3h.9M286.5 318.7h.9M286.8 308.3h.9M288.2 324.9h.9M289.2 315.1h.9M288.9 321.9h.9M289.7 324.1h.9M289.8 324.3h.9M289.1 309.8h.9M292.4 315.3h.9M288.4 329.5h.9M288.2 309.3h.9M288.9 329.6h.9M284.3 326.2h.9M292.8 313.6h.9M288.9 309.9h.9M281.2 306.6h.9M284.0 301.1h.9M288.4 321.8h.9M286.1 313.0h.9M286.9 314.3h.9M292.2 328.2h.9M293.1 320.7h.9M296.7 324.5h.9M292.6 322.4h.9M294.1 308.2h.9M286.3 316.9h.9M282.2 312.8h.9M288.8 319.4h.9M293.5 329.3h.9M279.5 316.8h.9M291.9 330.2h.9M287.5 320.1h.9M289.6 308.1h.9M291.4 325.8h.9M288.7 317.4h.9M295.3 316.1h.9M288.9 319.2h.9M292.3 320.9h.9M296.0 321.9h.9M284.8 301.1h.9M289.9 332.0h.9M290.5 312.9h.9M291.5 321.9h.9M296.0 306.3h.9M293.8 319.2h.9M294.0 327.4h.9M280.1 323.3h.9M292.6 310.1h.9M289.7 326.3h.9M283.4 323.6h.9M293.9 333.5h.9M286.4 310.5h.9M294.8 315.1h.9M292.1 293.5h.9M301.2 302.0h.9M282.7 320.0h.9M292.5 309.9h.9M280.2 319.9h.9M291.3 308.7h.9M290.9 311.7h.9M285.6 322.3h.9M290.3 317.2h.9M284.6 309.3h.9M289.0 311.1h.9M291.8 317.4h.9M289.2 315.1h.9M292.1 326.4h.9M285.3 324.6h.9M294.4 324.8h.9M287.7 318.2h.9M299.9 306.5h.9M294.1 315.2h.9M297.8 319.5h.9M294.1 311.9h.9M288.0 331.0h.9M284.4 310.9h.9M289.1 305.2h.9M293.1 306.1h.9M290.4 314.7h.9M280.2 316.3h.9M283.2 315.7h.9M279.6 309.9h.9M294.0 320.0h.9M295.4 332.6h.9M293.6 315.7h.9M289.7 322.4h.9M284.5 306.2h.9M290.2 332.7h.9M285.1 318.1h.9M287.0 322.8h.9M291.8 316.8h.9M294.4 315.2h.9M282.6 334.6h.9M289.7 319.5h.9M293.8 310.0h.9M288.1 309.5h.9M292.9 320.9h.9M291.1 305.0h.9M286.5 302.9h.9M284.0 308.8h.9M291.6 321.6h.9M282.0 321.0h.9M291.9 331.6h.9M294.1 303.8h.9M292.5 319.3h.9M291.7 310.3h.9M296.8 318.9h.9M287.6 299.7h.9M289.1 304.0h.9M283.5 330.4h.9M289.9 325.7h.9M295.3 324.5h.9M288.3 305.6h.9M289.5 317.7h.9M289.6 313.8h.9M290.9 303.7h.9M295.1 306.8h.9M290.8 308.8h.9M296.4 312.8h.9M286.0 312.5h.9M294.3 306.2h.9M284.3 310.7h.9M293.7 290.4h.9M294.5 338.3h.9M289.4 325.1h.9M289.6 299.5h.9M288.3 322.0h.9M285.1 313.0h.9M287.2 319.7h.9M301.6 319.6h.9M284.3 330.9h.9M288.9 312.6h.9M292.5 324.2h.9M291.2 320.1h.9M291.1 305.7h.9M293.8 325.4h.9M286.6 299.8h.9M287.5 317.9h.9M296.7 320.0h.9M290.5 319.0h.9M283.2 312.1h.9M290.9 323.2h.9M294.0 332.7h.9M287.1 312.1h.9M288.2 320.9h.9M299.5 320.1h.9M291.0 308.3h.9M284.3 332.0h.9M289.8 329.8h.9M294.0 312.8h.9M291.4 308.5h.9M293.2 315.9h.9M293.9 328.9h.9M287.5 323.6h.9M292.3 312.2h.9M291.5 328.4h.9M291.0 325.9h.9M291.8 328.7h.9M289.6 313.5h.9M293.2 296.0h.9M287.9 330.5h.9M286.8 333.2h.9M297.7 313.5h.9M286.8 319.7h.9M294.5 333.7h.9M297.4 311.5h.9M294.3 312.7h.9M295.3 322.0h.9M297.0 317.1h.9M294.1 305.6h.9M285.8 320.6h.9M290.8 324.9h.9M301.0 312.9h.9M284.8 305.8h.9M287.4 326.9h.9M292.1 314.2h.9M293.4 315.7h.9M291.5 316.7h.9M284.0 323.1h.9M291.1 337.5h.9M290.8 311.2h.9M291.1 310.0h.9M290.1 313.1h.9M291.9 308.4h.9M289.8 312.7h.9M285.8 315.1h.9M293.5 324.0h.9M291.8 315.8h.9M294.8 314.8h.9M293.5 301.1h.9M284.7 308.8h.9M295.6 315.1h.9M292.5 306.8h.9M283.3 341.4h.9M298.0 334.5h.9M290.4 310.4h.9M291.5 314.6h.9M288.2 293.1h.9M291.4 296.2h.9M288.0 301.8h.9M299.7 306.4h.9M288.5 319.7h.9M288.9 318.6h.9M294.7 311.4h.9M292.8 315.8h.9M284.2 318.1h.9M285.3 325.3h.9M290.4 318.2h.9M295.0 309.7h.9M286.6 329.3h.9M293.8 321.2h.9M281.0 315.0h.9M285.9 310.0h.9M282.7 299.7h.9M288.3 319.7h.9M288.0 314.4h.9M290.7 329.2h.9M287.6 317.2h.9M303.4 318.7h.9M294.3 306.1h.9M285.4 311.4h.9M304.9 313.3h.9M297.1 313.0h.9M284.5 297.8h.9M291.2 326.5h.9M286.6 312.0h.9M285.1 308.6h.9M295.2 312.3h.9M285.4 321.3h.9M291.7 316.3h.9M300.2 321.1h.9M295.9 305.9h.9M290.1 328.3h.9M294.0 325.7h.9M283.4 312.5h.9M298.4 331.6h.9M297.0 325.1h.9M296.8 291.4h.9M290.9 324.0h.9M296.3 308.4h.9M295.5 324.8h.9M287.9 330.9h.9M296.6 325.9h.9M288.2 318.6h.9M290.3 332.0h.9M302.3 310.6h.9M300.1 322.4h.9M287.2 309.0h.9M297.9 320.8h.9M287.2 314.0h.9M288.6 314.8h.9M299.2 311.6h.9M288.9 287.7h.9M292.9 325.7h.9M300.5 312.5h.9M289.0 312.4h.9M284.4 315.2h.9M286.7 313.6h.9M291.2 323.6h.9M290.8 339.0h.9M292.1 321.6h.9M293.0 315.9h.9M295.2 318.7h.9M283.9 310.2h.9M297.7 302.6h.9M299.1 319.1h.9M291.8 328.3h.9M291.6 312.1h.9M279.8 308.6h.9M284.7 321.8h.9M291.0 307.6h.9M296.2 325.7h.9M301.4 320.9h.9M284.4 316.2h.9M294.2 325.4h.9M284.0 319.6h.9M293.8 320.7h.9M282.5 310.5h.9M289.9 314.1h.9M295.0 313.6h.9M281.5 294.7h.9M292.8 309.2h.9M290.3 326.6h.9M287.9 315.5h.9M283.4 303.7h.9M293.4 327.7h.9M287.3 313.9h.9M292.1 312.5h.9M290.9 312.6h.9M293.5 312.0h.9M288.2 303.1h.9M286.7 301.6h.9M289.8 325.4h.9M284.2 307.1h.9M286.7 319.8h.9M289.0 312.9h.9M285.8 312.9h.9M288.8 308.4h.9M297.5 322.1h.9M289.7 319.0h.9M301.8 324.1h.9M287.9 315.4h.9M296.1 321.5h.9M289.1 316.9h.9M285.0 312.1h.9M288.5 313.5h.9M297.2 317.7h.9M296.2 317.2h.9M283.1 326.1h.9M287.8 314.6h.9M295.9 330.2h.9M291.3 328.1h.9M288.1 321.7h.9M286.0 324.4h.9M287.7 321.7h.9M284.6 328.4h.9M298.5 315.2h.9M290.8 307.3h.9M289.5 302.6h.9M294.1 316.2h.9M296.2 317.2h.9M289.4 308.2h.9M293.6 315.6h.9M284.6 301.3h.9M295.2 316.1h.9M290.2 311.0h.9M287.9 315.5h.9M291.5 305.3h.9M302.7 326.9h.9M281.1 315.0h.9M296.1 311.2h.9M283.8 319.8h.9M287.5 315.5h.9M298.7 317.7h.9M297.1 310.1h.9M281.5 310.8h.9M288.6 322.0h.9M292.7 298.3h.9M285.0 311.0h.9M286.9 309.5h.9M288.9 317.2h.9M283.1 306.1h.9M286.0 326.3h.9M289.7 302.3h.9M292.9 325.1h.9M282.6 303.4h.9M292.7 317.0h.9M293.5 331.4h.9M293.8 325.9h.9M288.1 328.6h.9M287.1 318.5h.9M280.6 310.4h.9M294.4 308.3h.9M288.2 295.7h.9M288.8 303.7h.9M290.8 311.7h.9M287.1 312.3h.9M288.5 315.6h.9M289.2 326.3h.9M295.7 294.0h.9M297.1 315.3h.9M292.2 308.0h.9M293.5 321.8h.9M287.7 305.2h.9M293.0 320.6h.9M286.1 295.6h.9M285.0 318.6h.9M296.8 308.2h.9M287.7 305.6h.9M292.2 309.1h.9M298.8 322.9h.9M289.6 312.1h.9M295.5 313.3h.9M288.6 316.6h.9M295.7 330.0h.9M288.8 304.5h.9M286.1 313.6h.9M293.7 292.6h.9M293.7 320.3h.9M291.5 302.6h.9M291.0 311.3h.9M285.9 320.6h.9M296.6 318.8h.9M293.4 325.6h.9M290.7 312.1h.9M297.8 311.7h.9M289.1 318.8h.9M288.5 306.9h.9M295.9 316.8h.9M287.2 310.0h.9M293.5 323.9h.9M291.6 326.6h.9M290.5 330.4h.9M295.0 306.3h.9M290.2 318.8h.9M290.5 307.0h.9M292.9 315.8h.9M283.4 302.9h.9M288.7 324.0h.9M290.4 317.6h.9M295.2 314.8h.9M290.7 315.3h.9M295.0 310.8h.9M292.5 309.7h.9M291.1 326.0h.9M286.8 319.6h.9M291.0 318.0h.9M293.2 317.1h.9M293.0 332.8h.9M287.4 305.5h.9M294.2 320.1h.9M300.2 312.1h.9M294.1 311.6h.9M288.4 310.1h.9M286.8 306.7h.9M289.1 314.2h.9M290.9 323.3h.9M286.4 314.3h.9M286.5 322.7h.9M286.3 311.9h.9M286.9 324.9h.9M284.9 304.5h.9M288.8 312.4h.9M286.3 325.3h.9M288.1 296.6h.9M289.7 303.8h.9M287.6 310.9h.9M286.4 311.4h.9M288.8 321.2h.9M302.6 311.9h.9M288.5 325.7h.9M298.7 324.5h.9M289.5 333.2h.9M291.1 326.8h.9M288.1 304.3h.9M297.0 309.1h.9M285.8 316.3h.9M286.3 321.2h.9M291.0 314.2h.9M288.0 328.6h.9M297.2 327.4h.9M284.5 329.7h.9M291.2 331.5h.9M293.2 310.3h.9M282.9 308.4h.9M296.4 312.9h.9M298.4 305.8h.9M293.7 315.5h.9M284.1 318.2h.9M288.8 313.0h.9M280.9 305.1h.9M287.6 314.0h.9M286.8 333.6h.9M288.7 317.5h.9M289.1 327.1h.9M293.4 325.5h.9M283.4 316.1h.9M290.0 321.6h.9M287.5 316.7h.9M286.0 311.9h.9M292.3 311.7h.9M286.7 314.0h.9M292.2 320.0h.9M285.1 311.0h.9M285.2 305.8h.9M301.8 329.0h.9M293.9 314.0h.9M294.7 330.7h.9M296.4 323.6h.9M286.0 336.7h.9M294.2 324.5h.9M292.3 319.7h.9M288.7 300.3h.9M299.0 341.0h.9M292.9 322.5h.9M290.5 322.9h.9M289.9 315.1h.9M293.5 301.1h.9M297.2 313.7h.9M293.2 322.0h.9M298.1 332.6h.9M284.5 306.2h.9M291.4 301.3h.9M293.5 315.4h.9M286.9 322.9h.9M286.2 308.4h.9M290.5 323.8h.9M289.6 312.7h.9M291.5 312.8h.9M281.8 322.7h.9M292.8 326.4h.9M291.1 320.3h.9M282.7 302.1h.9M281.4 324.9h.9M287.2 327.4h.9M292.5 312.3h.9M290.0 308.7h.9M288.4 318.6h.9M293.7 312.1h.9M283.0 324.9h.9M285.2 321.5h.9M283.3 306.4h.9M281.0 320.1h.9M292.5 344.4h.9M299.3 318.8h.9M280.8 312.1h.9M291.6 319.5h.9M291.1 306.9h.9M288.9 332.8h.9M287.8 311.9h.9M284.8 309.3h.9M296.1 320.3h.9M288.0 312.2h.9M294.2 311.5h.9M286.6 312.4h.9M278.3 324.0h.9M286.5 322.1h.9M290.3 325.1h.9M287.8 337.8h.9M293.0 314.5h.9M291.8 297.4h.9M285.0 296.4h.9M289.1 335.4h.9M291.9 303.0h.9M283.0 318.0h.9M293.3 314.6h.9M297.2 319.4h.9M299.9 325.4h.9M300.1 293.8h.9M293.9 323.7h.9M297.4 322.7h.9M292.2 319.2h.9M291.3 321.3h.9M298.0 302.8h.9M288.2 302.3h.9M287.6 317.9h.9M291.2 319.6h.9M293.8 320.5h.9M288.8 314.6h.9M285.3 311.0h.9M289.8 319.3h.9M282.8 324.5h.9M290.0 301.8h.9M289.6 321.0h.9M290.8 312.3h.9M286.1 317.2h.9M291.1 318.8h.9M288.5 326.7h.9M281.7 314.3h.9M282.6 296.9h.9M291.1 323.6h.9M288.9 319.7h.9M289.4 326.2h.9M287.5 320.2h.9M291.8 302.0h.9M295.8 311.7h.9M284.9 309.0h.9M294.3 313.0h.9M293.9 308.1h.9M291.5 300.6h.9M288.9 327.3h.9M287.8 317.1h.9M281.7 329.3h.9M289.2 319.8h.9M288.4 306.3h.9M288.6 312.6h.9M285.3 313.6h.9M285.6 310.6h.9M276.8 304.6h.9M291.7 318.2h.9M289.1 319.4h.9M298.3 320.6h.9M290.8 315.2h.9M291.8 321.9h.9M279.7 332.8h.9M294.7 321.0h.9M287.3 314.4h.9M286.6 327.2h.9M287.0 300.8h.9M289.1 308.1h.9M291.1 317.3h.9M286.2 301.4h.9M288.6 304.0h.9M289.2 317.3h.9M288.3 317.0h.9M288.2 330.2h.9M281.8 304.6h.9M295.4 305.9h.9M293.0 314.5h.9M290.1 303.3h.9M288.2 314.2h.9M280.1 314.1h.9M288.0 295.4h.9M290.8 312.8h.9M283.0 324.7h.9M289.5 305.6h.9M285.9 317.6h.9M287.5 321.6h.9M284.2 317.0h.9M292.2 320.8h.9M286.2 306.6h.9M284.7 315.6h.9M280.3 338.8h.9M288.7 326.2h.9M288.5 327.2h.9M288.8 324.5h.9M294.7 319.2h.9M284.1 318.4h.9M290.7 313.2h.9M288.9 321.7h.9M280.4 318.8h.9M297.5 311.2h.9M295.7 312.8h.9M288.6 312.4h.9M289.9 308.9h.9M287.2 313.2h.9M285.7 314.4h.9M294.7 309.3h.9M290.9 309.2h.9M284.6 314.6h.9M288.7 324.2h.9M293.2 317.2h.9M287.0 327.1h.9M283.9 307.8h.9M293.3 319.9h.9M292.8 314.3h.9M293.3 326.6h.9M281.0 318.7h.9M294.4 307.4h.9M285.6 318.1h.9M292.8 316.1h.9M282.4 316.1h.9M289.5 312.3h.9M294.7 297.8h.9M290.4 310.5h.9M292.6 313.4h.9M297.9 318.8h.9M287.5 300.9h.9M288.7 315.0h.9M297.2 320.3h.9M290.8 307.8h.9M290.9 307.4h.9M283.5 318.3h.9M287.9 303.5h.9M295.2 327.4h.9M292.0 301.6h.9M286.1 306.4h.9M291.1 345.7h.9M294.2 315.5h.9M286.1 302.7h.9M286.6 316.5h.9M288.8 319.9h.9M292.4 306.1h.9M293.8 316.6h.9M297.4 315.8h.9M288.3 314.3h.9M295.6 321.2h.9M295.4 325.7h.9M291.5 336.3h.9M289.6 313.6h.9M295.2 306.5h.9M291.5 324.7h.9M285.9 298.3h.9M283.5 324.3h.9M301.5 310.0h.9M284.0 303.5h.9M297.3 323.7h.9M293.2 309.9h.9M293.1 309.7h.9M292.7 309.5h.9M284.2 310.6h.9M292.0 318.8h.9M287.5 323.2h.9M282.6 297.0h.9M292.8 314.8h.9M289.9 311.6h.9M292.5 318.0h.9M296.5 308.5h.9M284.2 313.4h.9M288.9 312.7h.9M280.1 316.9h.9M297.9 320.2h.9M295.8 321.9h.9M291.3 319.3h.9M295.2 320.5h.9M293.2 315.6h.9M286.7 318.0h.9M288.3 320.3h.9M279.8 329.2h.9M296.3 330.1h.9M292.0 306.7h.9M288.3 305.0h.9M292.1 316.1h.9M290.9 299.5h.9M283.2 295.0h.9M296.7 321.2h.9M290.5 312.5h.9M281.9 310.8h.9M288.3 307.9h.9M294.9 298.7h.9M291.0 322.8h.9M294.0 303.1h.9M277.2 325.3h.9M296.9 315.4h.9M289.0 318.3h.9M295.3 317.6h.9M288.7 317.2h.9M292.1 334.0h.9M290.4 307.5h.9M299.3 330.5h.9M297.2 308.7h.9M287.5 303.0h.9M289.7 327.2h.9M294.7 316.9h.9M291.4 320.1h.9M289.7 306.3h.9M287.1 329.6h.9M285.9 304.8h.9M293.0 313.2h.9M288.8 316.7h.9M289.7 301.0h.9M294.8 318.4h.9M298.5 324.7h.9M287.7 311.3h.9M287.0 295.6h.9M293.9 310.4h.9M295.1 318.1h.9M289.9 329.8h.9M286.0 330.3h.9M288.7 334.3h.9M295.9 312.2h.9M298.8 321.0h.9M292.1 312.5h.9M290.2 312.0h.9M288.9 322.4h.9M294.3 327.4h.9M296.2 316.1h.9M294.0 314.2h.9M293.2 321.8h.9M292.3 309.1h.9M284.9 329.8h.9M286.8 309.6h.9M292.3 312.8h.9M292.5 328.2h.9M283.2 315.2h.9M293.3 304.0h.9M294.0 329.4h.9M290.7 320.0h.9M289.1 324.2h.9M288.1 315.4h.9M287.4 308.9h.9M296.0 316.4h.9M294.8 302.6h.9M284.9 306.8h.9M299.5 327.8h.9M301.1 313.9h.9M293.4 319.6h.9M289.3 320.9h.9M290.4 320.0h.9M282.2 305.1h.9M285.8 329.7h.9M294.7 308.1h.9M292.9 311.3h.9M285.2 306.7h.9M304.6 319.3h.9M290.1 326.7h.9M291.9 306.4h.9M300.7 337.1h.9M294.3 309.1h.9M290.3 316.8h.9M285.3 338.1h.9M290.6 311.0h.9M289.3 312.7h.9M278.6 314.9h.9M296.1 318.8h.9M292.6 315.6h.9M282.3 319.5h.9M293.8 307.4h.9M285.2 309.7h.9M284.3 292.8h.9M288.7 310.3h.9M291.1 326.5h.9M286.3 301.4h.9M290.1 321.7h.9M297.4 325.4h.9M291.2 316.4h.9M282.4 320.4h.9M294.3 315.9h.9M289.1 319.2h.9M292.6 320.8h.9M292.5 302.8h.9M287.9 300.8h.9M294.3 339.2h.9M286.8 313.9h.9M291.7 309.9h.9M298.6 319.2h.9M300.7 337.8h.9M292.8 309.6h.9M296.8 314.7h.9M286.7 313.3h.9M295.9 309.8h.9M289.5 323.3h.9M289.2 323.4h.9M296.3 312.6h.9M285.0 304.4h.9M296.5 321.8h.9M290.9 312.5h.9M295.6 312.6h.9M303.4 321.0h.9M283.0 323.7h.9M291.7 315.9h.9M289.7 326.1h.9M288.2 329.0h.9M286.9 323.1h.9M283.4 322.9h.9M285.9 312.8h.9M294.1 309.7h.9M293.0 316.3h.9M296.7 324.8h.9M291.7 314.4h.9M286.3 327.3h.9M289.4 304.6h.9M286.7 298.6h.9M286.4 311.1h.9M291.7 324.0h.9M294.4 300.6h.9M288.2 320.6h.9M292.1 315.9h.9M286.7 321.2h.9M290.1 313.5h.9M289.9 313.6h.9M291.9 325.6h.9M290.8 310.2h.9M289.9 314.3h.9M292.8 322.8h.9M298.2 325.0h.9M282.5 306.8h.9M284.5 317.2h.9M301.5 321.8h.9M287.8 327.3h.9M293.4 309.1h.9M285.9 327.7h.9M294.0 298.1h.9M286.9 319.9h.9M284.0 314.4h.9M286.3 300.3h.9M288.0 310.6h.9M291.7 300.9h.9M291.6 312.7h.9M282.9 324.8h.9M288.3 318.9h.9M297.8 320.6h.9M294.8 318.4h.9M287.7 316.9h.9M283.0 318.5h.9M294.3 320.2h.9M287.2 304.6h.9M286.9 312.5h.9M283.6 331.2h.9M286.6 316.1h.9M288.2 316.4h.9M280.2 304.8h.9M290.2 315.3h.9M292.3 311.4h.9M294.3 318.3h.9M290.2 315.8h.9M295.4 316.3h.9M297.8 318.2h.9M291.5 315.9h.9M291.8 320.0h.9M287.4 322.0h.9M302.6 322.7h.9M290.9 308.8h.9M286.7 307.9h.9M291.6 309.9h.9M298.0 313.4h.9M286.1 307.0h.9M289.9 314.3h.9M294.8 310.2h.9M292.0 324.3h.9M289.0 300.3h.9M291.5 324.8h.9M292.2 316.1h.9M281.2 328.0h.9M289.5 305.1h.9M288.8 316.7h.9M290.6 307.9h.9M301.8 328.7h.9M295.1 322.1h.9M288.5 305.1h.9M284.3 323.9h.9M290.7 330.0h.9M279.6 325.2h.9M292.6 311.3h.9M294.5 310.7h.9M289.0 320.0h.9M291.1 318.3h.9M291.4 324.9h.9M286.3 297.4h.9M286.0 293.8h.9M299.6 311.6h.9M290.1 318.5h.9M286.6 310.6h.9M291.6 316.0h.9M294.2 314.3h.9M287.2 302.3h.9M282.3 316.4h.9M291.8 312.4h.9M296.1 293.2h.9M293.4 305.8h.9M288.7 313.3h.9M286.8 312.5h.9M291.7 336.8h.9M290.3 321.9h.9M294.3 308.1h.9M292.6 312.5h.9M294.6 311.4h.9M295.4 308.8h.9M288.1 322.6h.9M295.2 324.1h.9M299.8 326.4h.9M290.3 323.8h.9M286.4 322.0h.9M292.2 314.7h.9M286.9 324.3h.9M280.8 312.4h.9M283.6 311.4h.9M288.2 308.0h.9M287.4 317.6h.9M299.7 332.6h.9M289.4 311.8h.9M293.2 308.9h.9M283.2 322.8h.9M288.4 328.6h.9M291.9 303.2h.9M291.7 320.2h.9M290.6 303.8h.9M283.1 330.6h.9M277.0 304.8h.9M294.2 332.1h.9M293.4 316.0h.9M292.1 326.0h.9M287.8 326.3h.9M291.5 317.7h.9M292.4 318.8h.9M285.9 328.4h.9M288.0 312.9h.9M279.1 299.2h.9M293.0 315.3h.9M289.8 312.3h.9M293.3 310.5h.9M283.3 300.1h.9M286.5 317.7h.9M297.2 321.9h.9M287.1 303.4h.9M294.3 320.8h.9M290.1 321.1h.9M293.1 320.6h.9M296.7 303.3h.9M287.2 310.4h.9M285.6 332.1h.9M292.0 319.7h.9M294.1 314.3h.9M294.3 314.6h.9M293.9 321.2h.9M296.6 303.5h.9M285.9 308.2h.9M286.4 318.3h.9M294.9 313.5h.9M295.5 324.4h.9M287.5 321.0h.9M297.2 312.7h.9M279.9 318.6h.9M291.7 321.4h.9M292.8 315.7h.9M290.3 308.6h.9M299.7 331.1h.9M289.7 308.1h.9M292.4 330.1h.9M290.6 308.5h.9M294.8 318.8h.9M286.6 313.1h.9M291.1 306.1h.9M291.7 327.2h.9M295.4 327.6h.9M293.9 315.6h.9M293.3 327.1h.9M290.6 320.4h.9M287.4 315.3h.9M288.1 305.9h.9M292.3 335.6h.9M282.3 310.0h.9M291.3 309.4h.9M291.2 323.4h.9M282.7 313.5h.9M293.2 321.4h.9M299.1 319.2h.9M296.3 312.0h.9M286.1 310.3h.9M288.3 323.3h.9M294.0 316.7h.9M286.2 316.3h.9M288.5 312.2h.9M282.2 328.1h.9M293.2 342.5h.9M303.2 318.7h.9M301.0 314.2h.9M303.7 317.9h.9M281.7 314.2h.9M294.3 331.7h.9M295.1 332.4h.9M291.3 302.7h.9M291.2 308.3h.9M294.4 297.9h.9M285.8 304.8h.9M291.0 325.1h.9M289.0 304.1h.9M288.0 314.1h.9M296.0 318.0h.9M297.0 292.0h.9M298.9 337.0h.9M288.0 339.4h.9M283.1 322.8h.9M284.3 309.3h.9M292.9 318.4h.9M291.9 314.5h.9M281.7 299.9h.9M286.4 306.3h.9M288.2 300.4h.9M289.9 320.2h.9M288.1 327.3h.9M291.4 324.3h.9M286.2 317.0h.9M283.7 297.8h.9M282.1 310.8h.9M291.6 335.0h.9M292.0 312.9h.9M295.5 317.9h.9M290.5 317.1h.9M295.1 331.1h.9M283.7 315.5h.9M288.2 315.7h.9M301.8 316.0h.9M278.7 321.4h.9M288.2 307.3h.9M301.0 335.8h.9M295.4 319.1h.9M287.0 328.3h.9M289.3 317.8h.9M289.6 317.2h.9M281.0 303.3h.9M284.3 295.3h.9M284.9 310.4h.9M289.6 315.0h.9M288.4 324.8h.9M280.5 309.3h.9M289.3 308.0h.9M297.1 316.1h.9M295.7 321.8h.9M289.2 324.4h.9M283.5 303.7h.9M288.5 294.2h.9M288.4 313.7h.9M282.1 305.0h.9M284.2 335.9h.9M296.5 322.4h.9M291.5 328.0h.9M291.0 327.0h.9M294.7 335.6h.9M295.6 311.8h.9M293.4 326.5h.9M293.6 336.1h.9M291.9 312.4h.9M294.7 326.9h.9M290.4 320.5h.9M291.1 318.3h.9M292.2 312.7h.9M294.0 319.8h.9M298.8 320.1h.9M291.0 305.1h.9M301.3 315.9h.9M288.0 313.0h.9M290.5 315.0h.9M298.6 313.1h.9M289.4 311.7h.9M293.4 301.8h.9M295.3 313.5h.9M283.6 327.8h.9M284.1 321.0h.9M290.6 309.9h.9M282.5 308.0h.9M294.1 315.9h.9M287.7 324.0h.9M290.7 316.5h.9M286.3 302.7h.9M288.2 318.0h.9M288.5 318.2h.9M289.2 313.4h.9M290.3 318.9h.9M279.7 313.7h.9M289.5 311.6h.9M295.1 327.0h.9M296.0 323.3h.9M292.6 317.4h.9M294.1 310.6h.9M289.8 318.5h.9M289.8 304.6h.9M290.0 312.0h.9M287.4 320.7h.9M295.6 317.5h.9M284.9 313.2h.9M289.6 306.2h.9M287.5 316.4h.9M287.6 319.1h.9M284.2 320.3h.9M287.1 316.2h.9M290.5 311.2h.9M295.4 300.8h.9M291.4 321.6h.9M289.3 314.9h.9M284.9 314.2h.9M291.2 310.5h.9M290.5 312.4h.9M285.5 314.0h.9M286.7 322.7h.9M286.6 327.3h.9M290.3 315.4h.9M286.9 318.8h.9M285.5 301.0h.9M292.5 297.5h.9M295.9 311.9h.9M298.0 319.1h.9M298.3 304.2h.9M288.3 317.5h.9M287.7 315.7h.9M289.6 321.3h.9M297.3 297.8h.9M293.4 305.9h.9M298.3 304.0h.9M286.4 319.3h.9M289.6 321.4h.9M292.2 309.1h.9M282.5 324.3h.9M289.4 314.4h.9M288.9 313.0h.9M286.9 315.4h.9M291.6 304.8h.9M282.8 319.0h.9M294.6 311.5h.9M289.6 311.0h.9M292.3 315.2h.9M287.7 308.3h.9M292.5 319.1h.9M288.3 318.6h.9M291.2 297.8h.9M287.6 317.1h.9M296.5 320.1h.9M284.4 322.2h.9M289.1 322.5h.9M283.6 299.9h.9M282.7 319.2h.9M296.2 318.8h.9M291.3 314.7h.9M291.4 306.7h.9M296.4 323.6h.9M295.1 315.7h.9M294.5 324.8h.9M302.6 327.3h.9M286.8 307.8h.9M294.6 320.7h.9M293.1 316.5h.9M286.5 316.0h.9M283.3 316.7h.9M301.5 324.0h.9M286.3 307.1h.9M302.1 323.4h.9M287.9 320.1h.9M288.8 305.9h.9M291.1 320.1h.9M296.7 305.7h.9M297.6 314.7h.9M280.7 322.4h.9M295.3 321.1h.9M294.5 308.4h.9M292.9 301.6h.9M287.2 337.1h.9M298.5 320.5h.9M292.9 316.8h.9M293.5 317.9h.9M285.9 311.6h.9M281.1 306.2h.9M289.6 318.7h.9M301.4 303.3h.9M300.7 313.7h.9M288.3 314.4h.9M301.2 308.1h.9M288.6 320.0h.9M295.1 319.8h.9M291.0 324.3h.9M285.7 328.4h.9M288.0 318.4h.9M285.9 309.3h.9M295.3 321.5h.9M289.5 322.5h.9M306.2 297.1h.9M280.4 315.3h.9M282.1 322.9h.9M286.4 314.8h.9M286.4 332.9h.9M297.9 302.1h.9M293.7 313.5h.9M297.7 319.9h.9M286.8 311.1h.9M290.7 330.5h.9M290.9 311.1h.9M288.5 322.6h.9M289.0 330.6h.9M294.8 317.7h.9M291.0 312.8h.9M278.8 323.7h.9M297.9 315.2h.9M291.9 304.0h.9M289.5 317.0h.9M290.1 316.0h.9M295.4 322.8h.9M294.3 311.3h.9M288.0 315.2h.9M282.6 301.6h.9M292.1 316.0h.9M290.9 326.1h.9M280.0 317.2h.9M289.3 304.0h.9M293.8 328.6h.9M283.2 314.6h.9M295.2 316.9h.9M288.3 323.7h.9M282.0 313.7h.9M287.3 314.4h.9M284.3 316.0h.9M296.6 320.7h.9M284.1 309.9h.9M286.7 301.9h.9M294.1 320.7h.9M289.6 328.4h.9M294.0 311.2h.9M290.7 314.5h.9M290.4 327.2h.9M296.7 308.4h.9M300.1 303.4h.9M289.2 336.7h.9M293.9 326.6h.9M291.2 320.3h.9M287.3 328.0h.9M289.5 310.9h.9M283.2 333.5h.9M283.2 305.4h.9M292.9 316.4h.9M299.0 322.8h.9M292.1 309.2h.9M293.2 303.7h.9M286.8 327.1h.9M291.8 305.9h.9M287.4 314.0h.9M292.0 317.8h.9M294.5 290.5h.9M294.1 300.0h.9M288.3 316.5h.9M295.7 311.3h.9M284.0 307.3h.9M291.8 337.0h.9M284.4 310.1h.9M287.0 325.0h.9M293.3 314.9h.9M292.0 329.9h.9M289.1 305.6h.9M290.6 305.0h.9M291.6 323.6h.9M288.7 323.6h.9M296.4 333.0h.9M288.8 320.6h.9M294.5 323.7h.9M295.2 321.0h.9M293.9 324.5h.9M292.9 321.4h.9M291.9 315.5h.9M281.6 313.6h.9M290.7 311.1h.9M288.4 326.4h.9M289.3 295.9h.9M288.0 314.3h.9M296.6 319.7h.9M293.1 311.6h.9M287.8 301.5h.9M293.6 316.7h.9M287.1 315.8h.9M296.0 325.1h.9M294.5 326.7h.9M291.7 316.2h.9M290.5 320.1h.9M282.2 316.8h.9M290.7 308.3h.9M287.8 325.5h.9M288.6 314.7h.9M297.8 308.8h.9M290.3 312.2h.9M288.0 313.9h.9M293.2 314.1h.9M295.1 323.2h.9M285.3 315.4h.9M289.7 304.5h.9M281.9 323.1h.9M292.0 326.9h.9M298.2 324.1h.9M292.3 327.4h.9M289.9 312.4h.9M295.3 322.5h.9M288.0 311.8h.9M284.4 333.0h.9M288.7 311.3h.9M287.6 310.9h.9M291.1 316.4h.9M294.4 294.9h.9M291.2 330.6h.9M290.8 310.8h.9M300.3 313.2h.9M293.9 318.6h.9M289.8 307.1h.9M291.3 317.8h.9M299.4 304.4h.9M283.0 319.3h.9M283.3 289.8h.9M288.9 325.5h.9M281.7 301.1h.9M297.8 309.6h.9M286.2 313.6h.9M298.3 315.6h.9M294.3 315.1h.9M285.3 317.2h.9M281.7 323.1h.9M282.7 315.6h.9M280.1 313.0h.9M292.5 309.8h.9M300.0 317.6h.9M292.7 303.5h.9M288.1 317.4h.9M294.2 321.6h.9M283.7 301.6h.9M285.1 324.6h.9M282.0 303.5h.9M291.1 315.5h.9M290.2 308.5h.9M292.2 315.1h.9M289.6 317.6h.9M289.4 313.9h.9M296.0 323.0h.9M290.9 317.0h.9M297.1 305.4h.9M281.1 314.3h.9M282.2 305.0h.9M291.6 317.7h.9M288.8 308.8h.9M283.4 308.2h.9M286.5 314.7h.9M295.0 314.0h.9M285.0 318.4h.9M296.4 319.6h.9M288.3 312.0h.9M288.9 306.4h.9M294.9 313.9h.9M299.8 328.0h.9M288.1 337.6h.9M288.2 308.5h.9M281.9 314.2h.9M292.4 313.0h.9M289.9 319.7h.9M286.7 314.6h.9M289.2 328.6h.9M293.7 315.5h.9M285.5 313.6h.9M286.6 311.9h.9M292.2 323.1h.9M295.3 311.6h.9M291.4 315.7h.9M294.5 335.5h.9M295.4 324.5h.9M291.7 320.5h.9M280.9 316.9h.9M289.7 315.3h.9M294.0 343.6h.9M291.8 305.6h.9M288.6 322.6h.9M293.9 318.1h.9M293.1 309.5h.9M297.7 299.3h.9M288.8 308.9h.9M288.3 317.3h.9M291.0 324.3h.9M299.6 322.0h.9M286.0 315.1h.9M286.8 308.3h.9M288.5 323.7h.9M286.7 318.0h.9M286.9 322.7h.9M296.0 304.5h.9M294.0 309.1h.9M292.1 315.4h.9M294.6 305.8h.9M299.6 320.6h.9M287.4 326.2h.9M297.0 321.6h.9M288.1 308.5h.9M286.2 329.0h.9M290.8 315.7h.9M288.8 326.1h.9M288.8 323.0h.9M281.9 307.5h.9M292.1 308.0h.9M299.7 300.0h.9M292.4 320.9h.9M292.6 315.8h.9M295.4 307.7h.9M292.8 332.9h.9M292.8 325.5h.9M305.2 309.5h.9M310.3 300.2h.9M288.5 312.5h.9M290.7 320.0h.9M292.0 320.0h.9M285.7 296.4h.9M309.4 318.7h.9M296.6 302.1h.9M297.1 313.9h.9M297.4 315.8h.9M302.4 329.9h.9M289.8 309.6h.9M299.6 299.4h.9M286.6 309.3h.9M290.6 311.4h.9M282.4 318.4h.9M288.9 300.9h.9M296.1 330.5h.9M279.6 312.0h.9M312.5 314.3h.9M286.6 330.1h.9M295.1 324.0h.9M307.8 322.6h.9M295.9 334.7h.9M279.5 300.3h.9M291.0 307.3h.9M291.5 293.9h.9M278.5 319.7h.9M291.3 318.2h.9M289.5 313.4h.9M279.4 331.0h.9M302.4 301.0h.9M289.0 317.3h.9M289.2 313.0h.9M294.9 294.7h.9M299.7 319.8h.9M284.3 310.9h.9M292.2 311.1h.9M293.4 297.9h.9M293.6 318.5h.9M296.5 319.1h.9M287.9 314.8h.9M301.7 315.9h.9M295.0 314.9h.9M297.8 301.0h.9M292.5 322.9h.9M284.9 319.0h.9M288.9 309.0h.9M282.9 303.2h.9M303.6 299.9h.9M294.3 299.7h.9M311.2 323.7h.9M285.9 301.1h.9M290.5 317.3h.9M308.0 331.2h.9M284.2 315.4h.9M301.3 307.5h.9M288.7 323.3h.9M280.6 312.9h.9M292.4 310.9h.9M293.2 296.8h.9M300.4 310.1h.9M310.6 337.2h.9M288.8 334.0h.9M305.7 307.0h.9M290.7 326.5h.9M286.5 309.5h.9M282.5 305.2h.9M286.5 315.9h.9M295.3 310.4h.9M280.7 315.1h.9M298.5 314.1h.9M305.3 310.7h.9M300.6 317.8h.9M304.9 332.7h.9M282.6 293.5h.9M302.3 318.5h.9M296.1 309.7h.9M286.3 325.9h.9M297.2 308.8h.9M293.4 317.2h.9M281.3 305.9h.9M297.6 316.1h.9M280.6 315.8h.9M310.8 322.7h.9M281.2 307.7h.9M287.4 305.1h.9M285.6 307.0h.9M292.2 300.8h.9M301.3 318.5h.9M310.5 325.0h.9M301.6 320.6h.9M292.0 302.6h.9M299.0 315.8h.9M287.2 317.6h.9M295.9 307.6h.9M306.0 310.5h.9M294.1 325.5h.9M288.3 310.2h.9M297.1 311.1h.9M288.5 301.6h.9M295.1 310.3h.9M300.4 325.7h.9M292.8 322.2h.9M286.7 330.3h.9M288.1 312.1h.9M289.7 308.5h.9M300.1 314.9h.9M285.1 321.3h.9M293.4 320.2h.9M294.9 309.5h.9M276.9 309.0h.9M285.1 325.9h.9M291.1 329.4h.9M313.6 328.9h.9M314.4 306.9h.9M288.6 302.6h.9M281.0 299.1h.9M301.0 306.7h.9M290.1 319.9h.9M289.4 330.1h.9M303.7 323.0h.9M307.9 321.6h.9M294.7 326.0h.9M302.4 301.1h.9M302.9 326.1h.9M294.5 329.2h.9M282.6 315.1h.9M286.9 304.6h.9M295.5 299.3h.9M292.8 321.5h.9M286.4 301.9h.9M298.1 324.5h.9M301.2 309.6h.9M289.4 328.2h.9M300.9 318.6h.9M295.1 312.8h.9M298.5 322.3h.9M293.5 317.1h.9M280.7 311.3h.9M307.2 318.3h.9M280.9 307.9h.9M293.9 329.5h.9M312.1 316.2h.9M291.7 315.5h.9M283.2 326.9h.9M282.4 320.7h.9M289.0 302.9h.9M296.0 332.2h.9M282.3 315.2h.9M286.9 324.8h.9M279.9 299.3h.9M289.6 300.3h.9M301.8 299.7h.9M293.6 309.2h.9M301.9 309.8h.9M291.3 331.8h.9M298.8 328.2h.9M305.7 321.1h.9M295.8 297.1h.9M277.7 308.1h.9M295.6 326.3h.9M286.2 310.1h.9M311.6 304.9h.9M291.4 313.0h.9M286.8 329.3h.9M278.8 309.5h.9M278.1 305.1h.9M306.9 295.0h.9M278.1 312.6h.9M296.2 307.0h.9M296.9 312.7h.9M289.6 314.9h.9M304.0 303.3h.9M300.7 318.2h.9M291.1 306.4h.9M296.1 323.1h.9M284.7 321.0h.9M293.3 323.1h.9M295.4 312.5h.9M294.9 321.3h.9M280.1 312.8h.9M288.8 314.0h.9M301.9 325.2h.9M305.8 325.7h.9M291.1 305.7h.9M316.0 310.0h.9M289.8 318.4h.9M285.7 315.0h.9M294.9 308.9h.9M283.8 313.5h.9M296.8 304.4h.9M294.2 315.5h.9M285.1 317.7h.9M280.8 322.3h.9M286.7 324.3h.9M293.9 315.0h.9M281.1 320.8h.9M283.2 336.4h.9M296.9 316.9h.9M293.3 321.5h.9M297.1 319.0h.9M300.8 313.7h.9M307.4 300.2h.9M278.3 318.6h.9M292.8 298.4h.9M282.3 305.5h.9M304.3 322.5h.9M278.3 298.4h.9M294.2 301.5h.9M287.5 307.5h.9M293.5 320.5h.9M286.7 308.1h.9M295.4 331.7h.9M296.7 311.0h.9M301.4 313.9h.9M280.8 319.7h.9M307.6 304.3h.9M299.9 302.3h.9M292.3 313.0h.9M289.9 312.7h.9M299.1 309.7h.9M291.0 310.8h.9M295.5 307.8h.9M300.0 318.3h.9M287.7 300.2h.9M290.7 324.6h.9M298.7 315.1h.9M311.1 332.8h.9M297.7 329.5h.9M290.8 310.2h.9M295.1 294.7h.9M293.3 309.0h.9M305.1 321.7h.9M307.0 311.2h.9M306.2 317.4h.9M297.8 319.1h.9M281.8 322.5h.9M289.0 320.5h.9M292.6 303.9h.9M290.3 317.0h.9M290.4 331.8h.9M303.9 316.6h.9M289.8 329.1h.9M293.4 326.5h.9M280.9 291.8h.9M299.9 324.7h.9M291.6 312.3h.9M297.2 320.3h.9M292.4 314.4h.9M295.2 325.8h.9M299.4 287.8h.9M296.2 311.4h.9M302.7 323.0h.9M288.4 312.8h.9M283.3 314.3h.9M286.7 326.5h.9M304.6 311.9h.9M285.2 326.9h.9M281.0 309.1h.9M289.7 316.4h.9M293.5 304.7h.9M300.9 319.2h.9M296.0 331.2h.9M309.9 319.0h.9M289.4 310.9h.9M292.0 302.8h.9M286.8 308.0h.9M297.7 322.6h.9M287.6 302.2h.9M292.8 295.7h.9M291.0 316.0h.9M296.6 310.1h.9M296.8 322.6h.9M289.9 302.7h.9M288.5 316.7h.9M295.5 296.7h.9M279.7 295.6h.9M309.2 320.6h.9M294.6 301.9h.9M298.6 288.8h.9M307.4 320.0h.9M292.6 316.8h.9M301.1 294.2h.9M295.6 301.0h.9M289.4 311.5h.9M289.2 305.9h.9M294.6 310.1h.9M295.4 322.4h.9M285.4 311.2h.9M285.4 321.8h.9M299.6 325.8h.9M302.5 316.6h.9M284.1 305.1h.9M303.9 316.8h.9M300.2 308.9h.9M291.0 334.2h.9M301.8 298.5h.9M286.9 314.9h.9M302.4 325.5h.9M300.7 328.0h.9M299.3 323.9h.9M285.2 300.4h.9M288.5 327.0h.9M305.1 304.2h.9M290.5 314.7h.9M298.2 318.3h.9M306.3 318.5h.9M291.1 311.3h.9M302.8 312.7h.9M297.8 310.4h.9M282.6 290.3h.9M290.4 305.4h.9M300.3 311.1h.9M284.7 320.8h.9M289.3 335.6h.9M289.0 314.4h.9M286.1 329.4h.9M295.6 312.0h.9M292.2 292.1h.9M304.3 315.6h.9M303.4 306.6h.9M305.9 308.8h.9M293.3 335.4h.9M288.6 313.8h.9M291.6 315.2h.9M294.4 312.7h.9M296.9 310.0h.9M304.9 322.8h.9M282.9 307.3h.9M290.1 323.8h.9M275.7 323.7h.9M285.4 309.6h.9M300.1 324.7h.9M292.1 311.8h.9M284.3 325.4h.9M288.7 342.1h.9M279.0 305.4h.9M299.2 334.1h.9M290.2 318.4h.9M287.5 315.8h.9M288.3 318.1h.9M291.8 303.8h.9M279.2 302.0h.9M292.6 321.7h.9M303.0 325.6h.9M311.4 326.9h.9M309.1 324.5h.9M295.9 296.4h.9M301.7 313.7h.9M289.6 299.7h.9M304.3 315.4h.9M289.2 305.4h.9M292.2 318.7h.9M298.4 316.0h.9M295.0 315.1h.9M289.2 325.8h.9M291.8 307.9h.9M308.4 306.1h.9M289.0 314.9h.9M291.5 313.0h.9M301.6 325.8h.9M281.1 332.4h.9M282.5 302.0h.9M299.1 304.3h.9M282.3 321.6h.9M297.5 318.7h.9M305.6 326.6h.9M288.9 308.7h.9M296.7 310.2h.9M295.3 323.7h.9M295.4 299.6h.9M307.7 315.3h.9M296.1 297.3h.9M292.7 300.6h.9M307.2 310.9h.9M280.6 311.3h.9M284.7 313.8h.9M284.6 295.0h.9M291.3 310.8h.9M285.8 320.4h.9M300.5 314.1h.9M292.2 317.8h.9M301.2 317.0h.9M283.0 319.6h.9M314.3 323.4h.9M295.9 308.6h.9M279.3 317.8h.9M298.2 319.5h.9M294.4 327.8h.9M292.0 294.3h.9M291.7 315.8h.9M300.0 320.9h.9M299.2 319.7h.9M295.7 302.2h.9M290.2 324.4h.9M307.7 288.0h.9M291.7 309.4h.9M300.7 294.5h.9M288.0 315.5h.9M285.8 295.1h.9M309.6 313.5h.9M293.6 320.7h.9M310.0 308.8h.9M291.6 310.4h.9M301.5 325.0h.9M307.1 311.2h.9M282.1 306.2h.9M275.9 315.7h.9M283.6 317.4h.9M306.2 314.5h.9M291.7 314.4h.9M287.3 317.1h.9M290.7 315.5h.9M285.7 318.8h.9M295.9 305.4h.9M292.3 299.4h.9M280.3 300.9h.9M296.5 310.4h.9M292.5 316.9h.9M290.4 311.9h.9M287.9 336.2h.9M285.6 319.6h.9M290.7 332.8h.9M282.7 311.9h.9M296.4 309.4h.9M312.0 319.2h.9M296.5 297.0h.9M296.7 301.9h.9M297.9 318.6h.9M291.8 308.1h.9M285.6 306.5h.9M306.7 307.3h.9M290.2 318.1h.9M280.7 308.2h.9M303.1 317.9h.9M297.9 322.2h.9M292.6 289.2h.9M299.7 320.9h.9M305.6 303.4h.9M301.3 330.3h.9M291.8 311.1h.9M283.8 319.7h.9M295.0 320.2h.9M292.3 314.4h.9M287.5 324.7h.9M291.6 327.0h.9M300.9 307.3h.9M282.8 323.7h.9M296.4 310.7h.9M302.2 294.0h.9M298.0 311.0h.9M299.5 308.8h.9M288.6 320.7h.9M296.2 299.4h.9M297.6 322.0h.9M278.1 302.3h.9M282.7 302.5h.9M286.7 333.2h.9M283.9 303.0h.9M290.6 327.6h.9M289.2 323.6h.9M302.1 310.9h.9M296.4 324.9h.9M294.9 331.3h.9M296.4 331.1h.9M283.9 315.4h.9M287.9 309.2h.9M290.8 319.2h.9M279.9 294.5h.9M299.6 318.1h.9M301.3 323.8h.9M295.7 308.9h.9M297.3 304.8h.9M281.1 309.1h.9M312.8 306.4h.9M304.8 313.7h.9M308.2 310.7h.9M282.3 306.0h.9M291.1 319.7h.9M286.4 315.4h.9M313.9 316.9h.9M298.7 342.3h.9M286.0 313.1h.9M289.8 316.5h.9M285.7 310.0h.9M299.3 314.9h.9M296.1 334.6h.9M285.3 316.8h.9M284.6 321.3h.9M287.7 326.9h.9M293.7 291.3h.9M282.6 319.8h.9M299.5 325.4h.9M297.3 309.7h.9M293.9 314.7h.9M292.9 324.6h.9M284.4 309.8h.9M304.6 314.1h.9M297.7 309.0h.9M293.3 327.7h.9M307.1 316.2h.9M287.1 329.0h.9M275.8 310.0h.9M299.2 339.6h.9M302.2 313.8h.9M292.2 313.4h.9M284.3 308.7h.9M295.6 296.6h.9M285.5 282.0h.9M301.2 316.2h.9M277.9 296.6h.9M286.4 330.4h.9M297.1 302.8h.9M288.2 296.2h.9M284.2 294.8h.9M308.9 323.3h.9M304.4 320.1h.9M286.0 323.5h.9M297.0 307.0h.9M278.0 311.8h.9M281.8 309.6h.9M301.4 320.7h.9M294.0 311.3h.9M294.5 304.1h.9M299.7 331.5h.9M287.3 297.0h.9M292.8 295.8h.9M310.5 315.0h.9M296.5 316.3h.9M288.2 305.5h.9M283.0 333.7h.9M293.4 325.4h.9M306.2 312.5h.9M288.1 309.1h.9M296.0 303.8h.9M301.3 312.3h.9M285.8 320.4h.9M305.6 306.0h.9M291.0 311.9h.9M297.5 322.8h.9M291.6 303.9h.9M287.3 322.5h.9M309.4 317.8h.9M285.3 339.7h.9M303.1 307.4h.9M281.3 302.7h.9M319.5 330.4h.9M283.7 304.5h.9M289.4 299.7h.9M298.0 302.9h.9M290.6 319.8h.9M290.5 324.0h.9M288.0 325.7h.9M286.7 306.8h.9M279.5 315.8h.9M298.9 314.7h.9M305.7 322.2h.9M295.9 296.6h.9M291.1 317.4h.9M281.9 328.1h.9M295.7 330.1h.9M281.5 331.6h.9M305.2 316.8h.9M289.6 330.7h.9M283.8 310.4h.9M302.9 314.2h.9M285.3 300.6h.9M288.3 326.8h.9M317.6 306.4h.9M281.7 319.1h.9M291.1 309.1h.9M291.4 327.9h.9M299.7 306.6h.9M297.4 301.3h.9M302.9 293.3h.9M288.8 323.0h.9M308.3 321.2h.9M301.2 321.7h.9M296.2 308.2h.9M294.1 306.8h.9M284.9 317.0h.9M289.7 315.4h.9M302.5 307.3h.9M301.8 302.8h.9M300.7 319.1h.9M297.3 322.2h.9M294.7 295.4h.9M308.1 318.0h.9M294.6 314.6h.9M296.3 311.8h.9M280.5 299.6h.9M308.9 322.4h.9M282.9 329.9h.9M295.3 302.2h.9M285.7 305.8h.9M303.2 323.2h.9M290.4 310.9h.9M286.3 314.2h.9M283.3 322.2h.9M291.9 323.9h.9M307.0 318.8h.9M300.7 281.9h.9M284.3 315.5h.9M284.8 324.4h.9M289.8 311.5h.9M288.1 327.3h.9M297.4 313.8h.9M300.7 311.9h.9M285.3 312.4h.9M290.6 325.3h.9M286.5 301.5h.9M305.1 325.0h.9M289.4 314.8h.9M278.0 329.9h.9M287.8 289.9h.9M291.6 319.2h.9M298.8 317.2h.9M295.0 312.3h.9M292.1 311.2h.9M315.5 317.4h.9M294.1 291.7h.9M292.5 319.9h.9M299.3 297.8h.9M292.2 330.9h.9M291.0 311.5h.9M298.3 313.5h.9M287.9 306.3h.9M277.0 313.9h.9M298.0 321.0h.9M285.9 317.5h.9M283.2 295.0h.9M298.6 300.8h.9M280.1 308.8h.9M289.8 330.2h.9M302.2 337.6h.9M294.5 296.3h.9M281.1 315.4h.9M280.3 317.0h.9M302.4 321.4h.9M277.4 324.1h.9M308.6 327.0h.9M314.4 307.7h.9M291.6 322.9h.9M302.0 331.2h.9M291.4 306.2h.9M291.0 305.8h.9M293.7 310.3h.9M299.9 307.1h.9M301.3 306.4h.9M304.0 328.4h.9M292.6 311.5h.9M296.0 319.1h.9M283.5 320.4h.9M275.9 299.0h.9M281.9 314.7h.9M285.2 287.2h.9M302.7 308.8h.9M289.8 317.1h.9M296.1 320.6h.9M281.1 315.8h.9M301.7 323.1h.9M306.3 299.7h.9M303.9 299.5h.9M282.6 314.8h.9M314.3 329.6h.9M291.6 314.7h.9M302.9 301.7h.9M289.6 307.0h.9M303.8 321.3h.9M295.8 327.5h.9M290.6 303.7h.9M301.2 294.9h.9M295.4 314.0h.9M278.2 314.2h.9M285.0 327.8h.9M299.9 324.6h.9M301.9 315.0h.9M303.1 321.8h.9M298.1 326.2h.9M311.0 297.8h.9M288.7 297.4h.9M281.5 320.1h.9M284.0 310.6h.9M287.8 323.9h.9M307.6 317.0h.9M286.6 306.9h.9M291.2 296.0h.9M281.8 314.7h.9M295.2 316.1h.9M296.0 306.3h.9M291.9 302.8h.9M295.1 292.3h.9M297.7 317.1h.9M289.2 315.1h.9M302.3 315.8h.9M310.5 329.2h.9M294.0 311.9h.9M282.2 300.9h.9M294.8 315.5h.9M296.2 332.5h.9M296.8 318.7h.9M290.9 301.8h.9M288.8 312.4h.9M299.5 322.2h.9M283.8 311.6h.9M299.9 299.3h.9M290.8 297.9h.9M286.7 325.7h.9M296.4 338.0h.9M283.7 322.7h.9M291.5 296.4h.9M294.8 316.7h.9M290.6 326.8h.9M290.2 321.6h.9M293.0 308.2h.9M296.5 325.9h.9M306.1 328.5h.9M277.7 297.6h.9M290.7 326.6h.9M275.9 313.4h.9M282.3 321.2h.9M302.4 312.2h.9M305.4 323.6h.9M291.7 329.6h.9M312.3 315.5h.9M295.4 317.9h.9M300.5 310.6h.9M291.1 326.7h.9M292.0 328.3h.9M295.6 333.0h.9M306.5 303.2h.9M299.4 312.2h.9M287.7 322.9h.9M302.7 321.0h.9M303.1 333.0h.9M296.4 321.3h.9M297.6 331.0h.9M285.3 312.4h.9M282.3 306.8h.9M296.4 310.7h.9M286.4 310.8h.9M303.4 338.0h.9M294.4 306.4h.9M295.0 307.7h.9M296.2 322.0h.9M310.7 308.2h.9M292.0 305.0h.9M303.0 305.1h.9M305.0 335.3h.9M277.8 324.2h.9M313.9 317.9h.9M292.7 336.2h.9M291.3 313.0h.9M285.1 320.3h.9M305.2 307.3h.9M300.8 320.7h.9M307.5 315.0h.9M286.4 315.9h.9M297.5 311.9h.9M284.8 320.2h.9M278.9 300.0h.9M292.2 299.4h.9M297.8 297.3h.9M291.6 318.7h.9M305.5 306.7h.9M295.8 327.7h.9M286.0 317.5h.9M303.5 327.7h.9M292.7 318.2h.9M286.9 319.5h.9M297.2 309.1h.9M314.9 324.0h.9M285.8 313.8h.9M297.7 303.5h.9M285.1 321.5h.9M292.7 313.6h.9M302.7 312.6h.9M279.9 300.5h.9M291.9 312.1h.9M289.8 304.3h.9M277.4 309.7h.9M297.1 317.8h.9M298.9 347.2h.9M282.7 306.4h.9M294.8 288.2h.9M299.6 314.1h.9M322.0 316.8h.9M292.3 314.3h.9M291.2 306.7h.9M303.2 319.2h.9M296.2 311.8h.9M276.1 307.1h.9M296.5 311.8h.9M294.0 331.7h.9M298.3 325.8h.9M290.3 310.3h.9M280.6 328.9h.9M303.5 314.7h.9M297.4 317.5h.9M305.6 321.4h.9M292.4 302.7h.9M291.0 327.1h.9M286.8 310.8h.9M298.8 332.6h.9M288.7 322.7h.9M289.6 294.8h.9M289.4 302.1h.9M280.7 334.4h.9M279.5 309.2h.9M304.1 315.5h.9M292.9 328.8h.9M285.7 296.5h.9M289.5 301.5h.9M294.9 321.5h.9M292.4 313.5h.9M282.0 297.6h.9M295.8 329.8h.9M300.4 341.6h.9M284.0 289.7h.9M292.6 316.9h.9M285.4 292.4h.9M305.4 294.9h.9M297.7 323.9h.9M305.1 315.0h.9M301.6 312.4h.9M299.8 329.5h.9M292.8 295.0h.9M297.0 281.6h.9M305.8 308.8h.9M288.0 324.4h.9M301.1 320.5h.9M287.8 321.3h.9M294.3 310.3h.9M285.8 318.4h.9M286.1 327.6h.9M276.6 301.0h.9M294.7 295.6h.9M310.0 300.8h.9M287.4 308.8h.9M294.6 329.5h.9M289.1 307.9h.9M304.8 315.3h.9M300.1 315.5h.9M288.3 306.7h.9M284.0 304.2h.9M294.6 313.7h.9M300.2 316.1h.9M296.8 304.9h.9M278.1 323.3h.9M309.4 312.8h.9M301.0 305.3h.9M284.7 317.3h.9M300.9 321.3h.9M303.2 316.2h.9M291.7 314.9h.9M284.9 309.1h.9M277.8 299.3h.9M300.1 308.9h.9M300.2 314.1h.9M292.2 320.4h.9M303.6 311.9h.9M295.2 336.2h.9M298.5 308.7h.9M285.4 308.0h.9M303.6 292.7h.9M298.8 310.1h.9M298.8 316.8h.9M278.5 306.9h.9M286.0 323.1h.9M276.3 315.1h.9M284.1 307.4h.9M277.4 332.3h.9M290.9 314.6h.9M314.0 297.6h.9M292.1 303.7h.9M290.5 309.1h.9M297.7 322.8h.9M293.6 327.0h.9M290.0 299.5h.9M277.4 321.4h.9M289.8 318.9h.9M299.6 304.8h.9M304.9 323.6h.9M308.1 323.6h.9M282.5 319.1h.9M294.2 298.4h.9M301.0 312.2h.9M296.8 332.5h.9M305.0 310.9h.9M299.7 326.1h.9M294.5 326.1h.9M298.3 309.8h.9M305.9 312.9h.9M288.6 309.3h.9M276.6 323.7h.9M281.9 292.6h.9M296.1 290.3h.9M290.4 321.9h.9M296.2 318.5h.9M290.4 303.2h.9M295.6 322.9h.9M292.5 324.6h.9M294.5 300.2h.9M288.0 312.4h.9M285.5 310.6h.9M301.8 315.2h.9M302.6 320.0h.9M288.3 314.3h.9M301.5 308.9h.9M287.0 326.8h.9M300.7 322.1h.9M288.2 311.4h.9M296.6 319.0h.9M301.0 302.9h.9M301.2 304.0h.9M284.2 307.6h.9M288.1 324.9h.9M304.1 338.6h.9M286.7 314.9h.9M305.1 296.6h.9M300.4 335.7h.9M302.0 307.0h.9M292.2 315.6h.9M286.8 301.9h.9M303.6 305.7h.9M302.8 303.4h.9M285.8 288.0h.9M287.1 309.0h.9M300.8 299.1h.9M293.0 326.5h.9M300.4 331.2h.9M291.8 297.2h.9M293.2 319.9h.9M283.6 309.4h.9M292.8 338.2h.9M287.0 304.6h.9M291.3 306.8h.9M293.5 308.3h.9M281.7 304.9h.9M305.7 314.3h.9M295.0 321.8h.9M296.0 304.6h.9M285.0 321.9h.9M290.6 318.4h.9M289.4 323.3h.9M291.7 316.5h.9M298.3 292.4h.9M301.4 329.7h.9M288.7 295.6h.9M296.6 304.7h.9M284.0 330.1h.9M292.0 302.0h.9M281.2 316.9h.9M296.1 318.8h.9M282.6 305.2h.9M292.9 309.7h.9M293.7 310.4h.9M292.6 316.0h.9M299.0 329.0h.9M292.6 291.5h.9M306.1 298.9h.9M295.3 327.5h.9M298.8 329.3h.9M293.2 338.4h.9M297.9 296.5h.9M299.7 311.3h.9M302.9 307.4h.9M300.8 300.7h.9M290.5 312.5h.9M303.5 306.4h.9M296.0 326.7h.9M276.6 329.1h.9M292.2 316.3h.9M310.8 315.6h.9M299.7 328.7h.9M306.5 329.2h.9M287.5 317.5h.9M279.9 298.8h.9M290.3 310.3h.9M287.9 304.9h.9M308.6 301.4h.9M297.9 300.6h.9M296.0 305.0h.9M277.5 289.8h.9M303.7 329.0h.9M290.5 311.8h.9M296.2 297.2h.9M288.9 295.2h.9M287.8 313.4h.9M290.2 332.9h.9M298.8 308.3h.9M295.2 309.3h.9M285.9 330.1h.9M291.4 307.4h.9M306.0 312.5h.9M302.2 285.8h.9M299.4 302.2h.9M289.5 323.5h.9M309.1 290.4h.9M305.2 312.1h.9M288.7 325.0h.9M291.9 307.5h.9M291.0 311.2h.9M288.4 325.5h.9M308.2 305.7h.9M287.0 311.8h.9M286.0 314.2h.9M294.4 314.1h.9M286.3 316.5h.9M281.4 308.3h.9M291.6 314.3h.9M300.6 312.8h.9M283.9 317.5h.9M291.7 322.5h.9M308.0 332.7h.9M292.8 303.0h.9M295.1 312.1h.9M286.2 296.1h.9M303.5 304.3h.9M302.4 326.9h.9M284.5 317.4h.9M292.3 297.7h.9M287.3 314.7h.9M301.7 306.9h.9M291.1 325.2h.9M289.3 305.9h.9M279.1 317.0h.9M286.5 302.3h.9M288.8 305.1h.9M319.4 310.9h.9M299.9 300.5h.9M300.8 318.8h.9M289.5 338.4h.9M284.3 300.7h.9M286.5 312.4h.9M300.0 313.8h.9M285.9 302.2h.9M307.8 310.7h.9M308.8 314.7h.9M289.6 309.3h.9M297.5 323.4h.9M289.6 319.1h.9M281.2 294.2h.9M278.4 306.8h.9M286.9 320.9h.9M289.7 308.7h.9M290.2 297.2h.9M281.6 333.8h.9M298.2 298.4h.9M281.8 316.5h.9M288.6 306.9h.9M300.0 302.8h.9M281.3 317.3h.9M284.1 314.4h.9M275.7 307.5h.9M309.4 299.9h.9M292.3 312.4h.9M294.1 312.3h.9M299.6 307.1h.9M284.4 314.9h.9M295.0 293.9h.9M299.6 310.4h.9M301.7 315.0h.9M281.6 308.3h.9M299.1 326.1h.9M291.3 320.8h.9M304.9 318.6h.9M306.0 322.7h.9M284.3 299.0h.9M285.4 332.0h.9M303.6 305.1h.9M292.7 336.9h.9M285.5 313.1h.9M289.7 323.0h.9M275.8 315.5h.9M294.6 326.9h.9M296.8 318.7h.9M284.3 316.0h.9M288.3 333.5h.9M295.9 314.7h.9M294.4 315.0h.9M289.4 320.8h.9M292.8 304.0h.9M301.0 323.3h.9M303.2 310.7h.9M301.5 331.9h.9M298.9 319.2h.9M292.6 296.5h.9M283.8 312.2h.9M302.5 321.1h.9M288.2 315.9h.9M292.0 305.8h.9M292.7 323.5h.9M282.7 308.2h.9M292.7 302.7h.9M284.6 318.0h.9M312.4 317.3h.9M288.4 331.2h.9M294.4 293.2h.9M288.1 292.0h.9M290.1 330.0h.9M302.0 311.6h.9M287.2 309.0h.9M283.3 302.6h.9M296.2 316.0h.9M294.8 312.6h.9M279.7 318.7h.9M293.2 323.2h.9M294.5 303.3h.9M301.6 323.9h.9M290.7 321.9h.9M297.1 309.4h.9M295.1 306.0h.9M305.2 310.7h.9M301.7 335.2h.9M293.6 321.7h.9M306.3 295.0h.9M312.3 323.3h.9M282.2 314.7h.9M312.5 317.8h.9M305.5 327.6h.9M287.3 317.6h.9M308.8 307.5h.9M294.0 308.3h.9M288.3 311.5h.9M277.7 301.8h.9M287.9 325.2h.9M283.2 322.8h.9M289.4 305.3h.9M277.9 314.2h.9M292.3 323.0h.9M287.5 290.7h.9M298.1 329.8h.9M293.4 315.8h.9M297.6 317.8h.9M316.3 316.0h.9M297.7 324.9h.9M297.9 296.0h.9M296.7 311.1h.9M284.2 323.6h.9M287.2 318.2h.9M286.8 320.2h.9M305.1 306.4h.9M286.0 323.9h.9M285.0 325.1h.9M296.6 304.8h.9M288.1 328.4h.9M300.7 317.0h.9M295.1 326.8h.9M287.6 317.6h.9M297.2 329.7h.9M289.8 312.0h.9M295.5 312.3h.9M290.9 320.3h.9M288.7 310.9h.9M295.5 316.1h.9M289.8 313.1h.9M282.3 304.9h.9M286.7 301.6h.9M306.7 339.4h.9M291.0 313.2h.9M291.9 310.4h.9M288.1 323.9h.9M297.9 300.8h.9M295.0 305.5h.9M298.8 306.7h.9M295.8 306.7h.9M291.4 318.3h.9M299.3 300.0h.9M288.2 304.8h.9M277.9 315.3h.9M291.1 310.9h.9M285.8 333.2h.9M285.2 284.6h.9M289.9 317.2h.9M283.4 311.8h.9M293.6 304.1h.9M283.2 301.5h.9M288.3 325.4h.9M294.0 307.7h.9M288.6 322.5h.9M287.0 303.8h.9M299.9 315.2h.9M304.8 313.1h.9M290.3 318.7h.9M294.8 315.0h.9M284.6 305.9h.9M286.2 308.0h.9M304.5 305.8h.9M297.2 319.7h.9M279.1 323.8h.9M295.1 318.7h.9M294.8 325.5h.9M296.5 307.6h.9M287.4 304.2h.9M286.0 304.0h.9M295.1 325.2h.9M291.2 325.4h.9M303.1 323.1h.9M278.3 284.1h.9M302.7 320.9h.9M280.4 304.6h.9M295.0 314.3h.9M281.5 312.3h.9M279.8 309.9h.9M298.5 317.9h.9M287.8 320.6h.9M310.3 313.3h.9M294.2 298.6h.9M300.1 297.4h.9M291.0 324.0h.9M298.3 279.0h.9M285.8 286.7h.9M290.4 297.8h.9M313.1 329.8h.9M284.1 309.7h.9M293.5 325.0h.9M305.5 323.1h.9M281.6 278.0h.9M279.2 299.7h.9M299.9 300.4h.9M304.5 324.3h.9M293.7 323.4h.9M286.6 324.9h.9M293.9 307.8h.9M285.9 290.3h.9M290.0 319.7h.9M289.3 308.7h.9M280.8 326.4h.9M292.8 313.9h.9M285.6 310.3h.9M295.7 319.2h.9M287.8 307.6h.9M298.8 331.5h.9M289.1 319.4h.9M299.6 318.9h.9M284.7 313.4h.9M293.8 301.9h.9M293.5 314.1h.9M286.7 331.6h.9M295.8 305.1h.9M303.8 312.2h.9M284.0 299.8h.9M302.7 302.3h.9M296.0 319.6h.9M287.9 321.7h.9M302.4 314.5h.9M293.0 321.6h.9M293.7 328.8h.9M299.9 316.0h.9M295.1 310.0h.9M299.0 306.8h.9M292.7 300.2h.9M314.5 320.1h.9M293.5 319.4h.9M278.0 328.4h.9M278.3 319.3h.9M289.6 322.0h.9M298.9 317.7h.9M302.1 311.8h.9M295.3 311.0h.9M286.9 301.4h.9M296.4 333.6h.9M285.5 307.8h.9M286.8 317.7h.9M286.4 302.2h.9M295.3 316.6h.9M295.7 328.0h.9M280.4 324.9h.9M297.9 341.8h.9M305.5 321.4h.9M306.9 325.0h.9M292.4 300.4h.9M293.5 297.9h.9M285.9 308.7h.9M296.8 307.5h.9M292.5 313.8h.9M295.5 321.2h.9M297.4 311.5h.9M294.5 307.3h.9M282.1 306.3h.9M292.9 291.5h.9M300.1 319.0h.9M278.9 300.9h.9M285.0 287.7h.9M277.3 316.9h.9M305.7 333.1h.9M297.6 327.7h.9M305.0 304.7h.9M307.3 307.0h.9M289.9 284.3h.9M290.1 294.5h.9M313.6 320.8h.9M301.1 309.6h.9M301.6 321.2h.9M289.6 319.7h.9M289.3 299.2h.9M298.4 336.7h.9M288.8 306.7h.9M305.0 313.8h.9M296.1 314.7h.9M295.9 315.5h.9M290.5 298.7h.9M297.3 290.5h.9M286.9 290.8h.9M298.3 303.1h.9M306.1 287.3h.9M303.3 284.0h.9M313.6 295.8h.9M289.6 294.1h.9M276.9 291.0h.9M287.1 285.5h.9M292.4 287.9h.9M299.0 285.5h.9M299.5 294.3h.9M303.5 295.3h.9M302.4 297.4h.9M307.6 297.5h.9M306.9 285.2h.9M293.7 299.6h.9M290.5 295.9h.9M305.8 299.0h.9M290.5 293.3h.9M294.8 295.4h.9M278.5 291.6h.9M306.8 291.9h.9M305.4 299.4h.9M297.4 289.9h.9M290.9 285.8h.9M292.1 291.0h.9M304.9 288.5h.9M289.7 291.7h.9M294.0 298.6h.9M296.3 299.4h.9M296.9 278.5h.9M294.4 286.2h.9M296.2 287.2h.9M304.4 290.6h.9M292.8 302.8h.9M293.1 289.6h.9M292.9 295.8h.9M298.4 292.2h.9M306.8 288.9h.9M302.9 296.3h.9M298.9 289.4h.9M294.8 297.8h.9M287.5 296.9h.9M301.0 294.2h.9M300.9 289.5h.9M311.0 292.3h.9M303.7 291.0h.9M293.1 297.7h.9M287.2 291.9h.9M288.5 283.7h.9M305.2 292.1h.9M279.2 291.7h.9M317.6 297.5h.9M294.1 293.9h.9M293.6 293.2h.9M294.9 293.0h.9M291.9 296.5h.9M285.2 283.1h.9M280.6 288.5h.9M297.2 295.0h.9M303.3 284.1h.9M281.7 295.3h.9M312.5 295.3h.9M294.9 297.4h.9M311.3 297.2h.9M298.0 290.5h.9M291.1 289.8h.9M285.0 293.9h.9M305.6 290.5h.9M303.3 295.5h.9M295.0 291.8h.9M309.8 288.1h.9M289.8 289.9h.9M289.2 295.0h.9M301.7 290.6h.9M302.0 282.7h.9M297.1 304.4h.9M305.0 286.7h.9M304.2 288.7h.9M301.7 295.6h.9M283.1 301.6h.9M283.5 289.7h.9M302.5 295.3h.9M298.2 290.4h.9M303.5 294.0h.9M293.2 297.9h.9M310.6 289.0h.9M292.5 286.6h.9M285.2 293.0h.9M305.1 284.6h.9M294.0 293.8h.9M290.8 296.6h.9M301.7 291.8h.9M307.0 293.9h.9M306.4 295.3h.9M293.9 300.0h.9M290.0 294.1h.9M293.3 287.8h.9M284.4 298.2h.9M308.6 297.8h.9M278.2 295.5h.9M297.3 295.3h.9M298.7 295.2h.9M300.5 297.8h.9M297.7 289.4h.9M276.1 293.7h.9M276.9 289.1h.9M296.0 291.5h.9M289.4 301.3h.9M283.2 298.4h.9M293.6 291.5h.9M296.9 294.6h.9M280.3 294.7h.9M294.8 292.0h.9M296.4 291.5h.9M306.2 287.5h.9M289.2 294.7h.9M294.4 296.9h.9M296.9 301.3h.9M305.6 287.3h.9M306.0 287.8h.9M299.1 290.2h.9M283.5 296.3h.9M301.4 290.5h.9M288.5 288.1h.9M294.9 297.9h.9M292.1 291.8h.9M292.5 285.7h.9M292.7 288.8h.9M307.1 293.0h.9M307.9 291.7h.9M297.7 299.4h.9M300.4 292.5h.9M300.6 293.9h.9M306.6 289.0h.9M292.0 287.5h.9M307.3 295.4h.9M293.4 295.0h.9M313.7 296.2h.9M295.5 287.2h.9M301.4 305.6h.9M307.0 290.5h.9M282.0 297.1h.9M288.5 290.0h.9M316.0 290.0h.9M294.1 305.8h.9M311.8 280.0h.9M303.4 290.8h.9M297.8 288.9h.9M299.0 295.5h.9M293.5 296.2h.9M303.1 286.1h.9M312.6 292.9h.9M304.1 299.5h.9M296.0 304.6h.9M288.1 286.7h.9M293.0 301.6h.9M310.9 296.4h.9M287.4 290.1h.9M294.4 292.6h.9M285.8 292.3h.9M291.8 294.4h.9M287.4 289.3h.9M297.4 295.5h.9M296.9 293.0h.9M294.8 288.9h.9M292.3 287.6h.9M301.0 294.1h.9M294.7 287.6h.9M292.5 291.2h.9M305.5 290.3h.9M298.1 288.7h.9M302.1 290.7h.9M288.4 282.2h.9M293.1 290.2h.9M306.7 285.6h.9M290.7 285.7h.9M303.2 293.4h.9M292.8 295.2h.9M297.5 289.5h.9M295.6 295.1h.9M304.5 301.0h.9M298.7 292.4h.9M297.0 287.8h.9M294.6 294.9h.9M292.6 290.5h.9M284.5 295.1h.9M305.7 292.0h.9M297.7 293.0h.9M296.5 290.9h.9M305.0 303.5h.9M305.3 293.6h.9M292.8 285.8h.9M305.3 291.0h.9M335.1 288.7h.9M326.6 316.0h.9M330.1 301.9h.9M336.8 279.0h.9M334.0 292.7h.9M329.2 310.9h.9M332.2 299.1h.9M333.6 307.1h.9M331.0 294.0h.9M334.3 298.2h.9M333.5 302.0h.9M336.8 293.4h.9M329.7 291.5h.9M329.0 295.5h.9M336.1 302.6h.9M334.1 299.5h.9M332.4 293.2h.9M335.6 280.3h.9M333.0 288.5h.9M334.2 297.3h.9M334.1 303.0h.9M333.8 302.5h.9M334.2 279.1h.9M333.5 287.9h.9M332.5 278.4h.9M332.8 292.4h.9M330.4 295.7h.9M335.8 292.1h.9M335.4 285.8h.9M338.3 282.5h.9M330.1 299.1h.9M335.2 301.3h.9M335.6 298.5h.9M329.2 300.0h.9M331.8 280.8h.9M337.7 281.3h.9M335.3 298.0h.9M332.7 288.0h.9M337.2 290.1h.9M334.0 294.4h.9M334.5 297.3h.9M334.0 300.4h.9M333.4 284.7h.9M331.3 300.3h.9M331.0 298.3h.9M335.6 287.2h.9M333.4 285.3h.9M330.0 301.2h.9M334.1 285.7h.9M332.3 290.5h.9M332.6 290.5h.9M332.1 311.1h.9M332.1 286.3h.9M332.4 303.7h.9M332.9 299.2h.9M332.6 292.1h.9M337.6 291.5h.9M331.9 300.6h.9M329.6 287.8h.9M332.7 291.9h.9M333.8 285.1h.9M334.7 291.3h.9M332.8 297.0h.9M332.5 302.3h.9M331.1 298.7h.9M333.1 278.6h.9M330.7 293.4h.9M334.7 283.7h.9M331.9 292.3h.9M329.5 294.5h.9M336.1 297.6h.9M330.6 291.7h.9M331.5 281.2h.9M339.7 282.1h.9M334.3 289.6h.9M332.6 284.2h.9M330.5 296.0h.9M331.5 300.7h.9M331.9 298.3h.9M334.9 284.1h.9M336.8 289.0h.9M340.3 282.7h.9M336.3 295.9h.9M329.2 287.6h.9M329.4 304.1h.9M333.5 300.5h.9M330.4 302.6h.9M333.4 298.2h.9M335.2 292.9h.9M337.2 280.2h.9M332.4 302.2h.9M330.5 302.2h.9M333.6 295.9h.9M326.8 295.1h.9M335.4 283.7h.9M335.6 296.6h.9M325.2 303.6h.9M330.3 290.0h.9M328.9 300.9h.9M336.9 307.8h.9M337.5 286.4h.9M328.9 306.3h.9M335.6 292.1h.9M329.6 289.7h.9M332.7 305.2h.9M337.7 282.9h.9M328.5 298.5h.9M335.7 286.3h.9M333.7 300.0h.9M328.7 311.8h.9M337.4 290.3h.9M334.2 297.0h.9M331.4 301.4h.9M333.7 288.5h.9M333.2 292.3h.9M332.1 300.4h.9M335.6 298.3h.9M332.2 300.0h.9M332.7 306.6h.9M330.4 304.5h.9M331.9 283.6h.9M335.5 282.7h.9M331.0 296.2h.9M334.6 292.0h.9M334.5 294.8h.9M328.8 307.6h.9M337.4 285.7h.9M335.4 290.0h.9M331.1 294.6h.9M328.0 295.4h.9M335.3 299.1h.9M334.7 294.3h.9M331.6 302.7h.9M338.7 290.9h.9M338.3 289.7h.9M332.8 301.0h.9M333.8 292.1h.9M331.9 296.6h.9M333.3 283.0h.9M334.8 304.5h.9M334.4 296.2h.9M334.9 298.7h.9M335.6 289.5h.9M330.3 300.6h.9M334.6 289.0h.9M332.7 298.2h.9M337.8 285.3h.9M330.9 296.8h.9M331.2 293.1h.9M330.8 305.0h.9M334.7 294.0h.9M337.9 311.4h.9M335.1 298.3h.9M330.8 300.9h.9M331.8 285.6h.9M334.6 289.0h.9M337.5 288.0h.9M332.7 289.0h.9M333.0 294.0h.9M335.2 287.0h.9M331.5 288.9h.9M331.6 293.3h.9M333.0 290.0h.9M336.0 286.4h.9M334.1 292.4h.9M334.5 293.6h.9M332.3 295.2h.9M332.0 294.6h.9M336.6 296.5h.9M337.2 284.4h.9M336.7 293.6h.9M335.2 290.3h.9M338.3 282.9h.9M334.1 284.1h.9M332.7 297.6h.9M334.1 295.3h.9M337.1 283.1h.9M328.7 306.3h.9M329.3 296.4h.9M339.8 292.3h.9M333.1 300.9h.9M331.2 301.6h.9M332.4 290.6h.9M330.8 292.9h.9M334.2 305.8h.9M336.1 297.7h.9M333.1 306.2h.9M333.2 304.3h.9M330.1 301.9h.9M330.6 295.0h.9M333.0 282.2h.9M334.5 293.5h.9M328.8 298.4h.9M333.2 283.6h.9M331.7 303.1h.9M332.3 294.0h.9M333.2 293.0h.9M330.5 296.3h.9M328.1 300.9h.9M332.6 285.9h.9M329.3 300.0h.9M332.2 291.1h.9M331.9 297.2h.9M336.3 288.2h.9M328.2 293.7h.9M330.9 299.8h.9M336.5 293.3h.9M331.1 303.1h.9M332.2 287.3h.9M332.9 308.6h.9M333.4 289.5h.9M335.5 286.6h.9M336.6 295.6h.9M329.9 295.1h.9M332.5 289.7h.9M334.4 291.4h.9M338.1 291.0h.9M336.0 297.9h.9M334.7 298.4h.9M331.6 302.9h.9M336.1 298.5h.9M332.0 292.0h.9M336.6 290.2h.9M340.4 290.1h.9M330.3 301.8h.9M334.1 280.5h.9M331.9 280.9h.9M340.6 278.5h.9M331.2 294.2h.9M331.3 304.7h.9M332.8 285.2h.9M335.5 294.2h.9M329.6 304.6h.9M329.8 291.9h.9M337.4 313.9h.9M326.3 307.3h.9M323.6 293.8h.9M323.5 307.0h.9M333.1 313.3h.9M319.3 309.1h.9M311.0 316.2h.9M312.1 299.1h.9M327.9 313.2h.9M341.7 305.5h.9M328.6 335.7h.9M320.9 300.8h.9M333.8 338.0h.9M319.9 323.2h.9M331.1 318.7h.9M332.3 314.9h.9M331.0 314.7h.9M324.6 304.1h.9M325.6 314.8h.9M318.9 306.3h.9M322.9 330.1h.9M329.6 324.1h.9M336.2 326.2h.9M338.9 334.6h.9M331.6 316.5h.9M327.0 315.4h.9M320.2 298.1h.9M329.2 302.6h.9M331.4 336.1h.9M326.8 306.3h.9M321.0 321.1h.9M325.3 311.2h.9M328.0 304.3h.9M318.0 318.0h.9M320.3 321.1h.9M322.2 315.8h.9M324.7 329.2h.9M323.8 316.3h.9M317.2 315.1h.9M324.7 318.9h.9M310.2 318.3h.9M326.6 319.4h.9M329.0 327.6h.9M318.4 308.4h.9M327.9 300.8h.9M343.2 299.5h.9M330.1 312.0h.9M330.9 333.3h.9M340.6 312.6h.9M326.5 308.1h.9M315.3 314.4h.9M321.1 301.6h.9M323.4 308.9h.9M317.1 315.7h.9M330.1 321.1h.9M320.6 305.0h.9M308.2 318.5h.9M333.6 308.9h.9M315.3 300.4h.9M336.9 316.9h.9M322.6 315.8h.9M326.0 312.7h.9M324.6 322.4h.9M333.3 306.4h.9M324.9 315.0h.9M327.4 341.5h.9M331.3 325.3h.9M325.2 321.6h.9M335.4 331.4h.9M319.6 316.1h.9M328.7 305.5h.9M323.3 310.4h.9M332.9 318.4h.9M341.5 326.0h.9M322.6 317.9h.9M326.7 307.9h.9M328.8 302.3h.9M327.5 311.5h.9M326.8 309.0h.9M339.4 312.8h.9M332.1 318.4h.9M335.0 311.4h.9M316.2 320.6h.9M334.1 325.1h.9M296.3 325.7h.9M337.3 319.5h.9M319.1 319.5h.9M312.7 309.1h.9M330.7 331.8h.9M322.9 313.0h.9M315.4 311.8h.9M320.6 314.7h.9M320.2 319.1h.9M325.2 308.7h.9M330.5 322.8h.9M324.0 313.6h.9M332.3 323.0h.9M324.7 336.1h.9M322.2 301.6h.9M321.0 316.9h.9M312.4 332.0h.9M333.1 308.1h.9M328.9 303.7h.9M325.7 313.6h.9M338.0 300.1h.9M322.1 295.4h.9M322.2 311.7h.9M326.0 326.8h.9M318.9 308.4h.9M337.3 319.6h.9M318.5 314.2h.9M317.4 304.6h.9M321.8 299.2h.9M339.9 315.7h.9M327.7 313.9h.9M325.1 307.4h.9M329.2 312.4h.9M319.4 323.7h.9M337.7 323.8h.9M329.9 313.8h.9M326.9 323.7h.9M326.2 329.9h.9M337.0 321.5h.9M327.7 307.9h.9M322.6 308.3h.9M323.3 306.0h.9M328.9 320.2h.9M324.8 332.5h.9M327.9 316.0h.9M327.5 310.3h.9M331.8 308.3h.9M325.6 336.4h.9M328.1 305.7h.9M317.3 325.5h.9M311.5 329.1h.9M336.2 314.1h.9M328.0 311.7h.9M318.7 318.5h.9M320.7 320.8h.9M328.5 310.3h.9M326.6 316.7h.9M324.7 313.4h.9M335.4 311.1h.9M327.1 327.0h.9M329.0 312.6h.9M317.1 310.8h.9M310.8 307.3h.9M325.8 329.5h.9M330.8 328.0h.9M329.5 319.5h.9M313.7 306.8h.9M324.2 314.6h.9M316.4 297.7h.9M327.3 313.6h.9M326.0 313.7h.9M324.1 303.7h.9M332.6 321.9h.9M325.7 333.6h.9M320.4 323.0h.9M325.5 316.1h.9M332.6 317.8h.9M325.8 303.7h.9M328.1 320.7h.9M322.7 303.1h.9M333.4 319.5h.9M334.9 317.8h.9M345.8 309.1h.9M331.5 319.0h.9M327.8 314.4h.9M330.3 325.9h.9M326.7 305.8h.9M333.4 328.2h.9M317.0 316.0h.9M337.7 325.5h.9M322.1 317.8h.9M328.7 305.7h.9M323.8 312.2h.9M323.4 328.8h.9M312.3 301.9h.9M320.5 327.3h.9M325.3 313.3h.9M324.3 331.5h.9M340.9 322.6h.9M318.5 311.2h.9M312.5 321.8h.9M324.4 326.9h.9M321.5 307.3h.9M309.4 314.1h.9M334.1 296.5h.9M317.8 312.9h.9M334.0 337.3h.9M338.6 322.3h.9M314.9 304.6h.9M329.9 317.3h.9M319.8 313.5h.9M327.1 339.1h.9M323.5 321.2h.9M328.3 324.4h.9M320.7 329.6h.9M336.3 324.1h.9M317.6 302.9h.9M324.4 314.4h.9M319.2 312.9h.9M313.9 310.9h.9M315.6 316.0h.9M306.9 303.2h.9M322.6 300.4h.9M322.5 313.0h.9M336.0 325.7h.9M322.8 323.4h.9M325.4 324.0h.9M322.6 317.9h.9M323.4 324.9h.9M339.4 336.0h.9M336.8 317.5h.9M338.2 316.5h.9M325.7 307.0h.9M333.1 301.6h.9M325.3 322.8h.9M317.2 318.5h.9M317.6 310.4h.9M328.6 330.9h.9M341.9 310.4h.9M313.0 305.0h.9M327.6 315.4h.9M315.9 304.4h.9M327.5 316.9h.9M341.5 308.5h.9M316.4 324.4h.9M321.9 316.1h.9M335.3 312.9h.9M323.9 315.7h.9M326.2 333.3h.9M336.9 312.5h.9M335.7 303.4h.9M320.6 307.3h.9M321.1 316.2h.9M327.9 307.4h.9M328.8 310.1h.9M329.9 319.9h.9M317.2 304.3h.9M333.4 317.2h.9M328.1 313.1h.9M337.9 323.8h.9M320.5 316.6h.9M317.5 309.4h.9M323.1 304.8h.9M319.2 324.8h.9M319.0 311.7h.9M316.4 325.8h.9M318.5 321.4h.9M330.7 322.6h.9M322.0 292.7h.9M319.0 311.6h.9M314.7 301.1h.9M328.3 316.5h.9M333.9 322.6h.9M335.7 321.4h.9M324.8 317.4h.9M332.6 327.3h.9M330.9 312.5h.9M317.8 323.7h.9M334.0 307.9h.9M326.2 306.1h.9M326.5 337.4h.9M323.2 310.9h.9M325.4 311.2h.9M328.9 300.8h.9M331.7 309.8h.9M326.2 341.0h.9M335.4 320.4h.9M324.8 320.5h.9M341.1 334.9h.9M319.7 328.9h.9M324.7 317.4h.9M323.2 311.6h.9M330.3 319.1h.9M331.7 312.3h.9M319.2 309.9h.9M323.9 319.1h.9M340.1 321.2h.9M324.0 340.7h.9M340.0 329.0h.9M333.6 300.2h.9M323.2 315.0h.9M326.0 296.3h.9M328.2 334.9h.9M336.7 321.7h.9M330.1 317.1h.9M309.5 316.9h.9M333.3 303.5h.9M344.0 328.8h.9M330.0 331.7h.9M318.6 313.0h.9M314.5 322.5h.9M329.7 340.2h.9M331.8 313.4h.9M310.3 308.3h.9M323.3 314.7h.9M322.0 311.6h.9M327.1 310.2h.9M319.6 311.9h.9M314.3 289.6h.9M325.5 305.8h.9M314.4 311.3h.9M326.1 328.8h.9M321.6 314.5h.9M324.4 309.2h.9M315.6 293.4h.9M311.7 300.9h.9M318.8 308.6h.9M311.5 314.6h.9M328.6 304.0h.9M320.3 309.8h.9M330.6 329.1h.9M330.5 324.1h.9M335.6 325.4h.9M327.5 321.8h.9M333.4 319.6h.9M333.8 312.5h.9M317.3 313.1h.9M330.2 337.8h.9M324.4 305.0h.9M312.0 302.8h.9M323.2 310.9h.9M328.5 316.9h.9M321.2 339.9h.9M321.4 311.9h.9M316.1 306.7h.9M328.0 298.9h.9M323.3 307.4h.9M326.4 322.0h.9M325.0 325.2h.9M321.7 318.1h.9M318.5 297.2h.9M317.8 310.6h.9M329.7 335.5h.9M329.0 323.0h.9M319.2 331.2h.9M320.8 313.1h.9M340.8 329.3h.9M342.8 314.4h.9M329.0 304.2h.9M328.7 310.1h.9M336.1 324.1h.9M312.6 308.4h.9M319.8 315.1h.9M333.8 305.8h.9M324.0 322.1h.9M318.8 309.6h.9M320.7 325.0h.9M331.7 305.9h.9M334.2 334.6h.9M323.3 318.5h.9M330.4 324.3h.9M342.9 321.6h.9M323.5 317.5h.9M325.2 297.1h.9M345.0 323.1h.9M278.9 290.0h.9M322.7 319.1h.9M348.8 307.4h.9M313.9 289.0h.9M320.5 286.9h.9M283.2 322.4h.9M307.3 299.8h.9M312.2 294.0h.9M316.9 280.1h.9M336.4 298.2h.9M285.0 307.0h.9M325.8 306.9h.9M298.8 318.2h.9M319.7 325.6h.9M332.8 325.0h.9M315.4 286.5h.9M297.6 330.9h.9M283.5 341.2h.9M325.7 284.6h.9M312.8 328.3h.9M308.2 281.4h.9M313.3 305.7h.9M295.6 341.4h.9M323.7 321.2h.9M308.0 284.3h.9M322.6 341.7h.9M316.4 275.3h.9M304.0 292.1h.9M283.6 323.8h.9M317.2 300.2h.9M277.2 307.3h.9M277.4 321.1h.9M310.5 333.2h.9M328.2 273.9h.9M307.6 312.9h.9M339.0 326.6h.9M344.6 299.1h.9M284.1 284.5h.9M306.1 313.7h.9M333.9 287.3h.9M282.8 281.5h.9M292.2 339.0h.9M345.9 315.4h.9M294.3 333.3h.9M319.7 315.0h.9M286.2 305.3h.9M283.1 274.1h.9M290.3 317.7h.9M303.5 306.9h.9M331.9 308.3h.9M303.6 300.9h.9M289.1 318.0h.9M333.1 302.7h.9M334.8 292.5h.9M289.3 323.6h.9M295.7 334.4h.9M343.4 296.8h.9M287.9 280.5h.9M305.4 315.3h.9M336.4 323.6h.9M336.2 271.7h.9M288.8 312.2h.9M341.6 310.6h.9" stroke="#000" stroke-width="0.8" stroke-opacity="0.33" fill="none"/>
<rect x="274.7" y="269.7" width="76.10000000000002" height="78.5" fill="none" stroke="#222" stroke-width="1" />
<line x1="312.6" y1="269.7" x2="312.6" y2="348.2" stroke="#333" stroke-width="1" />
<line x1="274.7" y1="301.0" x2="350.8" y2="301.0" stroke="#333" stroke-width="1" />
<text x="308.4" y="258.3" font-size="13" font-weight="bold" textLength="11.2" lengthAdjust="spacingAndGlyphs" >-/-</text>
<text x="277" y="283" font-size="13" font-weight="bold" >4.6</text>
<text x="346.8" y="283" font-size="13" font-weight="bold" text-anchor="end" >6.2</text>
<text x="277" y="343.5" font-size="13" font-weight="bold" >80.5</text>
<text x="346.8" y="343.5" font-size="13" font-weight="bold" text-anchor="end" >8.7</text>
<line x1="274.7" y1="348.2" x2="274.7" y2="350.2" stroke="#555" stroke-width="0.8" />
<text x="274.7" y="355.2" font-size="4.5" text-anchor="middle" fill="#666" >10</text>
<line x1="272.7" y1="348.2" x2="274.7" y2="348.2" stroke="#555" stroke-width="0.8" />
<text transform="translate(271.2,348.2) rotate(-90)" font-size="4.5" text-anchor="middle" fill="#666" >10</text>
<line x1="293.725" y1="348.2" x2="293.725" y2="350.2" stroke="#555" stroke-width="0.8" />
<text x="293.725" y="355.2" font-size="4.5" text-anchor="middle" fill="#666" >10</text>
<line x1="272.7" y1="328.575" x2="274.7" y2="328.575" stroke="#555" stroke-width="0.8" />
<text transform="translate(271.2,328.575) rotate(-90)" font-size="4.5" text-anchor="middle" fill="#666" >10</text>
<line x1="312.75" y1="348.2" x2="312.75" y2="350.2" stroke="#555" stroke-width="0.8" />
<text x="312.75" y="355.2" font-size="4.5" text-anchor="middle" fill="#666" >10</text>
<line x1="272.7" y1="308.95" x2="274.7" y2="308.95" stroke="#555" stroke-width="0.8" />
<text transform="translate(271.2,308.95) rotate(-90)" font-size="4.5" text-anchor="middle" fill="#666" >10</text>
<line x1="331.775" y1="348.2" x2="331.775" y2="350.2" stroke="#555" stroke-width="0.8" />
<text x="331.775" y="355.2" font-size="4.5" text-anchor="middle" fill="#666" >10</text>
<line x1="272.7" y1="289.325" x2="274.7" y2="289.325" stroke="#555" stroke-width="0.8" />
<text transform="translate(271.2,289.325) rotate(-90)" font-size="4.5" text-anchor="middle" fill="#666" >10</text>
<line x1="350.8" y1="348.2" x2="350.8" y2="350.2" stroke="#555" stroke-width="0.8" />
<text x="350.8" y="355.2" font-size="4.5" text-anchor="middle" fill="#666" >10</text>
<line x1="272.7" y1="269.7" x2="274.7" y2="269.7" stroke="#555" stroke-width="0.8" />
<text transform="translate(271.2,269.7) rotate(-90)" font-size="4.5" text-anchor="middle" fill="#666" >10</text>
<text x="312.75" y="360.7" font-size="4.5" text-anchor="middle" fill="#666" >FL2-H</text>
<text transform="translate(266.7,308.95) rotate(-90)" font-size="4.5" text-anchor="middle" fill="#666" >FL3-H</text>
<text x="355.4" y="238.3" font-size="20.8" font-weight="bold" >E</text>
<line x1="410.3" y1="225.6" x2="410.3" y2="366.1" stroke="#bbb" stroke-width="1" />
<line x1="410.3" y1="366.1" x2="470.5" y2="366.1" stroke="#555" stroke-width="1.2" />
<line x1="408.3" y1="225.6" x2="410.3" y2="225.6" stroke="#999" stroke-width="0.8" />
<text transform="translate(408.2,227.80) scale(0.56,1)" font-size="6.6" font-weight="bold" text-anchor="end" fill="#666">1.0E-5</text>
<line x1="408.3" y1="245.67142857142858" x2="410.3" y2="245.67142857142858" stroke="#999" stroke-width="0.8" />
<text transform="translate(408.2,247.87) scale(0.56,1)" font-size="6.6" font-weight="bold" text-anchor="end" fill="#666">1.0E-5</text>
<line x1="408.3" y1="265.74285714285713" x2="410.3" y2="265.74285714285713" stroke="#999" stroke-width="0.8" />
<text transform="translate(408.2,267.94) scale(0.56,1)" font-size="6.6" font-weight="bold" text-anchor="end" fill="#666">1.0E-5</text>
<line x1="408.3" y1="285.81428571428575" x2="410.3" y2="285.81428571428575" stroke="#999" stroke-width="0.8" />
<text transform="translate(408.2,288.01) scale(0.56,1)" font-size="6.6" font-weight="bold" text-anchor="end" fill="#666">1.0E-5</text>
<line x1="408.3" y1="305.8857142857143" x2="410.3" y2="305.8857142857143" stroke="#999" stroke-width="0.8" />
<text transform="translate(408.2,308.09) scale(0.56,1)" font-size="6.6" font-weight="bold" text-anchor="end" fill="#666">1.0E-5</text>
<line x1="408.3" y1="325.95714285714286" x2="410.3" y2="325.95714285714286" stroke="#999" stroke-width="0.8" />
<text transform="translate(408.2,328.16) scale(0.56,1)" font-size="6.6" font-weight="bold" text-anchor="end" fill="#666">1.0E-5</text>
<line x1="408.3" y1="346.02857142857147" x2="410.3" y2="346.02857142857147" stroke="#999" stroke-width="0.8" />
<text transform="translate(408.2,348.23) scale(0.56,1)" font-size="6.6" font-weight="bold" text-anchor="end" fill="#666">1.0E-5</text>
<line x1="408.3" y1="366.1" x2="410.3" y2="366.1" stroke="#999" stroke-width="0.8" />
<text transform="translate(408.2,368.30) scale(0.56,1)" font-size="6.6" font-weight="bold" text-anchor="end" fill="#666">1.0E-5</text>
<rect x="420" y="260.2" width="11.4" height="105.90000000000003" fill="url(#eg)" />
<rect x="449.8" y="313" width="11.7" height="53.10000000000002" fill="url(#eg)" />
<line x1="425.7" y1="241.2" x2="425.7" y2="279.5" stroke="#c8c8c8" stroke-width="1" />
<line x1="455.6" y1="290.6" x2="455.6" y2="330" stroke="#ccc" stroke-width="1" />
<text transform="translate(382.6,305.75) rotate(-90)" font-size="11.6" font-weight="bold" text-anchor="middle" textLength="128.7" lengthAdjust="spacingAndGlyphs" >Relative <tspan font-style="italic">Ihh</tspan> expression</text>
<text x="404" y="386.5" font-size="11.6" font-weight="bold" textLength="68.3" lengthAdjust="spacingAndGlyphs" >Ihh+/+ Ihh+/-</text>
<text x="37.6" y="398.3" font-size="20.8" font-weight="bold" >F</text>
<line x1="90.6" y1="412.6" x2="157.2" y2="412.6" stroke="#dcdcdc" stroke-width="1.5" />
<line x1="88.6" y1="412.6" x2="90.6" y2="412.6" stroke="#aaa" stroke-width="0.8" />
<text x="86.3" y="414.4" font-size="7" font-weight="bold" text-anchor="end" fill="#333" >1.6</text>
<line x1="90.6" y1="430.9375" x2="157.2" y2="430.9375" stroke="#dcdcdc" stroke-width="1" />
<line x1="88.6" y1="430.9375" x2="90.6" y2="430.9375" stroke="#aaa" stroke-width="0.8" />
<text x="86.3" y="432.74" font-size="7" font-weight="bold" text-anchor="end" fill="#333" >1.4</text>
<line x1="90.6" y1="449.275" x2="157.2" y2="449.275" stroke="#dcdcdc" stroke-width="1" />
<line x1="88.6" y1="449.275" x2="90.6" y2="449.275" stroke="#aaa" stroke-width="0.8" />
<text x="86.3" y="451.07" font-size="7" font-weight="bold" text-anchor="end" fill="#333" >1.2</text>
<line x1="90.6" y1="467.6125" x2="157.2" y2="467.6125" stroke="#dcdcdc" stroke-width="1" />
<line x1="88.6" y1="467.6125" x2="90.6" y2="467.6125" stroke="#aaa" stroke-width="0.8" />
<text x="86.3" y="469.41" font-size="7" font-weight="bold" text-anchor="end" fill="#333" >1</text>
<line x1="90.6" y1="485.95" x2="157.2" y2="485.95" stroke="#dcdcdc" stroke-width="1" />
<line x1="88.6" y1="485.95" x2="90.6" y2="485.95" stroke="#aaa" stroke-width="0.8" />
<text x="86.3" y="487.75" font-size="7" font-weight="bold" text-anchor="end" fill="#333" >0.8</text>
<line x1="90.6" y1="504.28749999999997" x2="157.2" y2="504.28749999999997" stroke="#dcdcdc" stroke-width="1" />
<line x1="88.6" y1="504.28749999999997" x2="90.6" y2="504.28749999999997" stroke="#aaa" stroke-width="0.8" />
<text x="86.3" y="506.09" font-size="7" font-weight="bold" text-anchor="end" fill="#333" >0.6</text>
<line x1="90.6" y1="522.625" x2="157.2" y2="522.625" stroke="#dcdcdc" stroke-width="1" />
<line x1="88.6" y1="522.625" x2="90.6" y2="522.625" stroke="#aaa" stroke-width="0.8" />
<text x="86.3" y="524.42" font-size="7" font-weight="bold" text-anchor="end" fill="#333" >0.4</text>
<line x1="90.6" y1="540.9625" x2="157.2" y2="540.9625" stroke="#dcdcdc" stroke-width="1" />
<line x1="88.6" y1="540.9625" x2="90.6" y2="540.9625" stroke="#aaa" stroke-width="0.8" />
<text x="86.3" y="542.76" font-size="7" font-weight="bold" text-anchor="end" fill="#333" >0.2</text>
<line x1="88.6" y1="559.3" x2="90.6" y2="559.3" stroke="#aaa" stroke-width="0.8" />
<text x="86.3" y="561.1" font-size="7" font-weight="bold" text-anchor="end" fill="#333" >0</text>
<line x1="90.6" y1="412.6" x2="90.6" y2="559.3" stroke="#aaa" stroke-width="1" />
<line x1="157.2" y1="412.6" x2="157.2" y2="559.3" stroke="#c8c8c8" stroke-width="1" />
<line x1="90.6" y1="559.3" x2="157.2" y2="559.3" stroke="#aaa" stroke-width="1" />
<rect x="100.4" y="467.6125" width="13.799999999999997" height="91.68749999999994" fill="#333" />
<line x1="107.30000000000001" y1="466.695625" x2="107.30000000000001" y2="468.529375" stroke="#555" stroke-width="1" />
<line x1="105.80000000000001" y1="466.695625" x2="108.80000000000001" y2="466.695625" stroke="#555" stroke-width="1" />
<line x1="105.80000000000001" y1="468.529375" x2="108.80000000000001" y2="468.529375" stroke="#555" stroke-width="1" />
<rect x="133.5" y="434.605" width="13.800000000000011" height="124.69499999999994" fill="#333" />
<line x1="140.4" y1="426.35312500000003" x2="140.4" y2="442.856875" stroke="#555" stroke-width="1" />
<line x1="138.9" y1="426.35312500000003" x2="141.9" y2="426.35312500000003" stroke="#555" stroke-width="1" />
<line x1="138.9" y1="442.856875" x2="141.9" y2="442.856875" stroke="#555" stroke-width="1" />
<text x="102" y="452.1" font-size="11.8" textLength="26.2" lengthAdjust="spacingAndGlyphs" >n=23</text>
<text x="131.7" y="423.8" font-size="11.8" textLength="20.3" lengthAdjust="spacingAndGlyphs" >n=9</text>
<text x="88" y="583.2" font-size="11.6" font-weight="bold" textLength="32.2" lengthAdjust="spacingAndGlyphs" >Ihh+/+</text>
<text x="134.8" y="583.2" font-size="11.6" font-weight="bold" textLength="27.7" lengthAdjust="spacingAndGlyphs" >Ihh-/-</text>
<text transform="translate(63.7,488.4) rotate(-90)" font-size="11.6" font-weight="bold" text-anchor="middle" textLength="139.4" lengthAdjust="spacingAndGlyphs" >% DN thymocytes relative</text>
<text transform="translate(77.4,486.4) rotate(-90)" font-size="11.6" font-weight="bold" text-anchor="middle" textLength="81.2" lengthAdjust="spacingAndGlyphs" >to mean of WT</text>
<line x1="254.7" y1="414.0" x2="311.7" y2="414.0" stroke="#dcdcdc" stroke-width="1.6" />
<line x1="252.7" y1="414.0" x2="254.7" y2="414.0" stroke="#bbb" stroke-width="0.8" />
<text x="251.8" y="415.6" font-size="6.5" font-weight="bold" text-anchor="end" fill="#333" >1.4</text>
<line x1="254.7" y1="434.74285714285713" x2="311.7" y2="434.74285714285713" stroke="#dcdcdc" stroke-width="1" />
<line x1="252.7" y1="434.74285714285713" x2="254.7" y2="434.74285714285713" stroke="#bbb" stroke-width="0.8" />
<text x="251.8" y="436.34" font-size="6.5" font-weight="bold" text-anchor="end" fill="#333" >1.2</text>
<line x1="254.7" y1="455.4857142857143" x2="311.7" y2="455.4857142857143" stroke="#dcdcdc" stroke-width="1" />
<line x1="252.7" y1="455.4857142857143" x2="254.7" y2="455.4857142857143" stroke="#bbb" stroke-width="0.8" />
<text x="251.8" y="457.09" font-size="6.5" font-weight="bold" text-anchor="end" fill="#333" >1</text>
<line x1="254.7" y1="476.22857142857146" x2="311.7" y2="476.22857142857146" stroke="#dcdcdc" stroke-width="1" />
<line x1="252.7" y1="476.22857142857146" x2="254.7" y2="476.22857142857146" stroke="#bbb" stroke-width="0.8" />
<text x="251.8" y="477.83" font-size="6.5" font-weight="bold" text-anchor="end" fill="#333" >0.8</text>
<line x1="254.7" y1="496.9714285714286" x2="311.7" y2="496.9714285714286" stroke="#dcdcdc" stroke-width="1" />
<line x1="252.7" y1="496.9714285714286" x2="254.7" y2="496.9714285714286" stroke="#bbb" stroke-width="0.8" />
<text x="251.8" y="498.57" font-size="6.5" font-weight="bold" text-anchor="end" fill="#333" >0.6</text>
<line x1="254.7" y1="517.7142857142858" x2="311.7" y2="517.7142857142858" stroke="#dcdcdc" stroke-width="1" />
<line x1="252.7" y1="517.7142857142858" x2="254.7" y2="517.7142857142858" stroke="#bbb" stroke-width="0.8" />
<text x="251.8" y="519.31" font-size="6.5" font-weight="bold" text-anchor="end" fill="#333" >0.4</text>
<line x1="254.7" y1="538.4571428571429" x2="311.7" y2="538.4571428571429" stroke="#dcdcdc" stroke-width="1" />
<line x1="252.7" y1="538.4571428571429" x2="254.7" y2="538.4571428571429" stroke="#bbb" stroke-width="0.8" />
<text x="251.8" y="540.06" font-size="6.5" font-weight="bold" text-anchor="end" fill="#333" >0.2</text>
<line x1="252.7" y1="559.2" x2="254.7" y2="559.2" stroke="#bbb" stroke-width="0.8" />
<text x="251.8" y="560.8" font-size="6.5" font-weight="bold" text-anchor="end" fill="#333" >0</text>
<line x1="254.7" y1="414" x2="254.7" y2="559.2" stroke="#bbb" stroke-width="1" />
<line x1="311.7" y1="414" x2="311.7" y2="559.2" stroke="#c8c8c8" stroke-width="1" />
<line x1="254.7" y1="559.2" x2="311.7" y2="559.2" stroke="#bbb" stroke-width="1" />
<rect x="263" y="455.48571428571427" width="11.5" height="103.71428571428578" fill="#999" />
<line x1="268.75" y1="454.96714285714285" x2="268.75" y2="456.0042857142857" stroke="#666" stroke-width="1" />
<line x1="267.25" y1="454.96714285714285" x2="270.25" y2="454.96714285714285" stroke="#666" stroke-width="1" />
<line x1="267.25" y1="456.0042857142857" x2="270.25" y2="456.0042857142857" stroke="#666" stroke-width="1" />
<rect x="291.4" y="482.4514285714286" width="11.100000000000023" height="76.74857142857144" fill="#999" />
<line x1="296.95" y1="478.8214285714286" x2="296.95" y2="486.0814285714286" stroke="#666" stroke-width="1" />
<line x1="295.45" y1="478.8214285714286" x2="298.45" y2="478.8214285714286" stroke="#666" stroke-width="1" />
<line x1="295.45" y1="486.0814285714286" x2="298.45" y2="486.0814285714286" stroke="#666" stroke-width="1" />
<text transform="translate(221,481.6) rotate(-90)" font-size="11.6" font-weight="bold" text-anchor="middle" textLength="135" lengthAdjust="spacingAndGlyphs" >%DN cells in DN4 subset</text>
<text transform="translate(234.2,479.5) rotate(-90)" font-size="11.6" font-weight="bold" text-anchor="middle" textLength="121.5" lengthAdjust="spacingAndGlyphs" >relative to mean of WT</text>
<text x="249.2" y="586.4" font-size="11.6" font-weight="bold" textLength="32.3" lengthAdjust="spacingAndGlyphs" >Ihh+/+</text>
<text x="295.4" y="586.4" font-size="11.6" font-weight="bold" textLength="27.6" lengthAdjust="spacingAndGlyphs" >Ihh-/-</text>
<text x="330.7" y="402.0" font-size="20.8" font-weight="bold" >G</text>
<line x1="409" y1="405.0" x2="470.4" y2="405.0" stroke="#dcdcdc" stroke-width="1.6" />
<line x1="407" y1="405.0" x2="409" y2="405.0" stroke="#c4c4c4" stroke-width="0.8" />
<text x="405.9" y="407.0" font-size="6.5" font-weight="bold" text-anchor="end" fill="#444" >1.4</text>
<line x1="409" y1="426.22857142857146" x2="470.4" y2="426.22857142857146" stroke="#dcdcdc" stroke-width="1" />
<line x1="407" y1="426.22857142857146" x2="409" y2="426.22857142857146" stroke="#c4c4c4" stroke-width="0.8" />
<text x="405.9" y="428.23" font-size="6.5" font-weight="bold" text-anchor="end" fill="#444" >1.2</text>
<line x1="409" y1="447.45714285714286" x2="470.4" y2="447.45714285714286" stroke="#dcdcdc" stroke-width="1" />
<line x1="407" y1="447.45714285714286" x2="409" y2="447.45714285714286" stroke="#c4c4c4" stroke-width="0.8" />
<text x="405.9" y="449.46" font-size="6.5" font-weight="bold" text-anchor="end" fill="#444" >1</text>
<line x1="409" y1="468.6857142857143" x2="470.4" y2="468.6857142857143" stroke="#dcdcdc" stroke-width="1" />
<line x1="407" y1="468.6857142857143" x2="409" y2="468.6857142857143" stroke="#c4c4c4" stroke-width="0.8" />
<text x="405.9" y="470.69" font-size="6.5" font-weight="bold" text-anchor="end" fill="#444" >0.8</text>
<line x1="409" y1="489.9142857142857" x2="470.4" y2="489.9142857142857" stroke="#dcdcdc" stroke-width="1" />
<line x1="407" y1="489.9142857142857" x2="409" y2="489.9142857142857" stroke="#c4c4c4" stroke-width="0.8" />
<text x="405.9" y="491.91" font-size="6.5" font-weight="bold" text-anchor="end" fill="#444" >0.6</text>
<line x1="409" y1="511.14285714285717" x2="470.4" y2="511.14285714285717" stroke="#dcdcdc" stroke-width="1" />
<line x1="407" y1="511.14285714285717" x2="409" y2="511.14285714285717" stroke="#c4c4c4" stroke-width="0.8" />
<text x="405.9" y="513.14" font-size="6.5" font-weight="bold" text-anchor="end" fill="#444" >0.4</text>
<line x1="409" y1="532.3714285714286" x2="470.4" y2="532.3714285714286" stroke="#dcdcdc" stroke-width="1" />
<line x1="407" y1="532.3714285714286" x2="409" y2="532.3714285714286" stroke="#c4c4c4" stroke-width="0.8" />
<text x="405.9" y="534.37" font-size="6.5" font-weight="bold" text-anchor="end" fill="#444" >0.2</text>
<line x1="407" y1="553.6" x2="409" y2="553.6" stroke="#c4c4c4" stroke-width="0.8" />
<text x="405.9" y="555.6" font-size="6.5" font-weight="bold" text-anchor="end" fill="#444" >0</text>
<line x1="409" y1="405" x2="409" y2="553.6" stroke="#c4c4c4" stroke-width="1" />
<line x1="470.4" y1="405" x2="470.4" y2="553.6" stroke="#c8c8c8" stroke-width="1" />
<line x1="409" y1="553.6" x2="470.4" y2="553.6" stroke="#c4c4c4" stroke-width="1" />
<rect x="418.2" y="447.45714285714286" width="12.5" height="106.14285714285717" fill="#fff" stroke="#555" stroke-width="1" />
<line x1="424.45" y1="444.27285714285716" x2="424.45" y2="450.64142857142855" stroke="#444" stroke-width="1" />
<line x1="422.84999999999997" y1="444.27285714285716" x2="426.05" y2="444.27285714285716" stroke="#444" stroke-width="1" />
<line x1="422.84999999999997" y1="450.64142857142855" x2="426.05" y2="450.64142857142855" stroke="#444" stroke-width="1" />
<rect x="448.3" y="433.65857142857146" width="12.099999999999966" height="119.94142857142856" fill="#fff" stroke="#555" stroke-width="1" />
<line x1="454.35" y1="426.6531428571429" x2="454.35" y2="440.66400000000004" stroke="#444" stroke-width="1" />
<line x1="452.75" y1="426.6531428571429" x2="455.95000000000005" y2="426.6531428571429" stroke="#444" stroke-width="1" />
<line x1="452.75" y1="440.66400000000004" x2="455.95000000000005" y2="440.66400000000004" stroke="#444" stroke-width="1" />
<text transform="translate(370.2,489.2) rotate(-90)" font-size="11.6" font-weight="bold" text-anchor="middle" textLength="175.4" lengthAdjust="spacingAndGlyphs" >%TCRβ+ cells in the DN3 subset</text>
<text transform="translate(384.3,489.4) rotate(-90)" font-size="11.6" font-weight="bold" text-anchor="middle" textLength="129.1" lengthAdjust="spacingAndGlyphs" >Relative  to mean of WT</text>
<text x="409.6" y="578.6" font-size="11.6" font-weight="bold" textLength="64.7" lengthAdjust="spacingAndGlyphs" >Ihh+/+ Ihh-/-</text>
<text x="21.8" y="629.2" font-size="20.8" font-weight="bold" >H</text>
<text x="75.4" y="656.6" font-size="13" font-weight="bold" textLength="26.4" lengthAdjust="spacingAndGlyphs" >DN3</text>
<path d="M48.3 714.2 L48.3 714.2 L48.8 714.2 L49.3 714.2 L49.8 714.2 L50.2 714.2 L50.7 714.2 L51.2 714.2 L51.7 714.2 L52.2 714.2 L52.7 714.2 L53.2 714.2 L53.7 714.2 L54.1 714.2 L54.6 714.2 L55.1 714.2 L55.6 714.2 L56.1 714.2 L56.6 714.2 L57.1 714.2 L57.6 714.2 L58.0 714.2 L58.5 714.2 L59.0 714.2 L59.5 714.2 L60.0 714.2 L60.5 714.2 L61.0 714.2 L61.4 714.2 L61.9 714.2 L62.4 714.2 L62.9 714.2 L63.4 714.2 L63.9 714.2 L64.4 714.2 L64.9 714.2 L65.3 714.2 L65.8 714.2 L66.3 714.2 L66.8 714.2 L67.3 714.2 L67.8 714.2 L68.3 714.2 L68.7 714.2 L69.2 714.2 L69.7 714.2 L70.2 714.1 L70.7 714.1 L71.2 713.9 L71.7 713.6 L72.2 713.0 L72.6 711.9 L73.1 710.4 L73.6 707.4 L74.1 703.7 L74.6 698.6 L75.1 692.7 L75.6 687.1 L76.1 681.5 L76.5 676.3 L77.0 674.6 L77.5 674.7 L78.0 675.6 L78.5 679.1 L79.0 682.7 L79.5 687.6 L79.9 692.1 L80.4 697.0 L80.9 700.4 L81.4 703.4 L81.9 706.2 L82.4 707.9 L82.9 709.2 L83.4 710.7 L83.8 710.5 L84.3 711.0 L84.8 711.5 L85.3 711.8 L85.8 711.0 L86.3 711.4 L86.8 711.2 L87.2 711.0 L87.7 711.2 L88.2 710.9 L88.7 711.4 L89.2 711.0 L89.7 711.3 L90.2 710.7 L90.7 710.7 L91.1 711.4 L91.6 711.3 L92.1 711.1 L92.6 710.2 L93.1 710.6 L93.6 710.3 L94.1 710.5 L94.6 710.1 L95.0 710.0 L95.5 709.9 L96.0 709.5 L96.5 709.3 L97.0 708.8 L97.5 708.8 L98.0 708.3 L98.4 708.2 L98.9 707.9 L99.4 708.0 L99.9 708.3 L100.4 707.5 L100.9 707.2 L101.4 707.1 L101.9 707.3 L102.3 707.1 L102.8 707.5 L103.3 706.8 L103.8 707.0 L104.3 707.3 L104.8 707.6 L105.3 706.8 L105.8 706.8 L106.2 707.9 L106.7 707.3 L107.2 708.0 L107.7 708.5 L108.2 708.6 L108.7 708.4 L109.2 708.6 L109.6 709.8 L110.1 709.5 L110.6 710.5 L111.1 710.1 L111.6 710.9 L112.1 710.7 L112.6 710.9 L113.1 711.8 L113.5 712.1 L114.0 712.4 L114.5 712.6 L115.0 712.9 L115.5 713.1 L116.0 713.3 L116.5 713.4 L116.9 713.6 L117.4 713.7 L117.9 713.8 L118.4 713.9 L118.9 713.9 L119.4 714.0 L119.9 714.0 L120.4 714.1 L120.8 714.1 L121.3 714.1 L121.8 714.1 L122.3 714.2 L122.8 714.2 L123.3 714.2 L123.8 714.2 L124.3 714.2 L124.7 714.2 L125.2 714.2 L125.7 714.2 L126.2 714.2 L126.2 714.2 Z" fill="#d2d2d2" stroke="#333" stroke-width="0.8"/>
<line x1="48.3" y1="673.5" x2="126.2" y2="673.5" stroke="#999" stroke-width="1" />
<line x1="48.3" y1="673.5" x2="48.3" y2="714.2" stroke="#333" stroke-width="1" />
<line x1="48.3" y1="714.2" x2="126.2" y2="714.2" stroke="#333" stroke-width="1" />
<line x1="48.3" y1="714.2" x2="48.3" y2="715.7" stroke="#555" stroke-width="0.8" />
<text x="48.3" y="720.2" font-size="4.2" text-anchor="middle" fill="#777" >10</text>
<line x1="67.775" y1="714.2" x2="67.775" y2="715.7" stroke="#555" stroke-width="0.8" />
<text x="67.775" y="720.2" font-size="4.2" text-anchor="middle" fill="#777" >10</text>
<line x1="87.25" y1="714.2" x2="87.25" y2="715.7" stroke="#555" stroke-width="0.8" />
<text x="87.25" y="720.2" font-size="4.2" text-anchor="middle" fill="#777" >10</text>
<line x1="106.725" y1="714.2" x2="106.725" y2="715.7" stroke="#555" stroke-width="0.8" />
<text x="106.725" y="720.2" font-size="4.2" text-anchor="middle" fill="#777" >10</text>
<line x1="126.2" y1="714.2" x2="126.2" y2="715.7" stroke="#555" stroke-width="0.8" />
<text x="126.2" y="720.2" font-size="4.2" text-anchor="middle" fill="#777" >10</text>
<line x1="46.8" y1="714.2" x2="48.3" y2="714.2" stroke="#555" stroke-width="0.8" />
<line x1="46.8" y1="704.0250000000001" x2="48.3" y2="704.0250000000001" stroke="#555" stroke-width="0.8" />
<line x1="46.8" y1="693.85" x2="48.3" y2="693.85" stroke="#555" stroke-width="0.8" />
<line x1="46.8" y1="683.675" x2="48.3" y2="683.675" stroke="#555" stroke-width="0.8" />
<line x1="46.8" y1="673.5" x2="48.3" y2="673.5" stroke="#555" stroke-width="0.8" />
<text x="87.25" y="724.2" font-size="3.8" text-anchor="middle" fill="#888" >FL2-H</text>
<text transform="translate(44.3,693.85) rotate(-90)" font-size="3.8" text-anchor="middle" fill="#888" >Counts</text>
<path d="M48.3 765.2 L48.3 765.2 L48.8 765.2 L49.3 765.2 L49.8 765.2 L50.2 765.2 L50.7 765.2 L51.2 765.2 L51.7 765.2 L52.2 765.2 L52.7 765.2 L53.1 765.2 L53.6 765.2 L54.1 765.2 L54.6 765.2 L55.1 765.2 L55.6 765.2 L56.0 765.2 L56.5 765.2 L57.0 765.2 L57.5 765.2 L58.0 765.2 L58.5 765.2 L58.9 765.2 L59.4 765.2 L59.9 765.2 L60.4 765.2 L60.9 765.2 L61.4 765.2 L61.8 765.2 L62.3 765.2 L62.8 765.2 L63.3 765.2 L63.8 765.2 L64.3 765.2 L64.7 765.2 L65.2 765.2 L65.7 765.2 L66.2 765.2 L66.7 765.2 L67.2 765.2 L67.7 765.2 L68.1 765.2 L68.6 765.2 L69.1 765.2 L69.6 765.2 L70.1 765.2 L70.6 765.2 L71.0 765.2 L71.5 765.2 L72.0 765.1 L72.5 765.0 L73.0 764.8 L73.5 764.3 L73.9 763.3 L74.4 761.6 L74.9 758.9 L75.4 755.1 L75.9 749.9 L76.4 744.1 L76.8 737.5 L77.3 732.4 L77.8 727.6 L78.3 725.0 L78.8 725.7 L79.3 727.6 L79.7 732.1 L80.2 736.3 L80.7 741.6 L81.2 746.2 L81.7 750.6 L82.2 754.8 L82.6 757.4 L83.1 759.4 L83.6 760.2 L84.1 761.2 L84.6 762.3 L85.1 761.9 L85.5 762.7 L86.0 762.2 L86.5 762.7 L87.0 762.7 L87.5 761.8 L88.0 762.3 L88.5 762.2 L88.9 761.3 L89.4 761.3 L89.9 761.8 L90.4 760.9 L90.9 761.2 L91.4 760.9 L91.8 761.1 L92.3 760.2 L92.8 760.2 L93.3 759.7 L93.8 759.5 L94.3 759.9 L94.7 759.6 L95.2 759.5 L95.7 759.3 L96.2 759.1 L96.7 758.6 L97.2 758.1 L97.6 758.4 L98.1 757.5 L98.6 757.7 L99.1 757.5 L99.6 756.9 L100.1 757.1 L100.5 757.1 L101.0 756.9 L101.5 756.6 L102.0 757.2 L102.5 756.3 L103.0 757.3 L103.4 756.7 L103.9 756.7 L104.4 757.7 L104.9 757.1 L105.4 757.7 L105.9 757.8 L106.3 758.6 L106.8 758.9 L107.3 759.2 L107.8 758.8 L108.3 759.9 L108.8 759.8 L109.3 760.0 L109.7 760.4 L110.2 761.4 L110.7 761.8 L111.2 762.0 L111.7 762.1 L112.2 762.8 L112.6 763.1 L113.1 763.4 L113.6 763.6 L114.1 763.9 L114.6 764.1 L115.1 764.3 L115.5 764.4 L116.0 764.5 L116.5 764.7 L117.0 764.8 L117.5 764.8 L118.0 764.9 L118.4 765.0 L118.9 765.0 L119.4 765.0 L119.9 765.1 L120.4 765.1 L120.9 765.1 L121.3 765.1 L121.8 765.2 L122.3 765.2 L122.8 765.2 L123.3 765.2 L123.8 765.2 L124.2 765.2 L124.7 765.2 L125.2 765.2 L125.7 765.2 L125.7 765.2 Z" fill="#d2d2d2" stroke="#333" stroke-width="0.8"/>
<line x1="48.3" y1="725.4" x2="125.7" y2="725.4" stroke="#999" stroke-width="1" />
<line x1="48.3" y1="725.4" x2="48.3" y2="765.2" stroke="#333" stroke-width="1" />
<line x1="48.3" y1="765.2" x2="125.7" y2="765.2" stroke="#333" stroke-width="1" />
<line x1="48.3" y1="765.2" x2="48.3" y2="766.7" stroke="#555" stroke-width="0.8" />
<text x="48.3" y="771.2" font-size="4.2" text-anchor="middle" fill="#777" >10</text>
<line x1="67.65" y1="765.2" x2="67.65" y2="766.7" stroke="#555" stroke-width="0.8" />
<text x="67.65" y="771.2" font-size="4.2" text-anchor="middle" fill="#777" >10</text>
<line x1="87.0" y1="765.2" x2="87.0" y2="766.7" stroke="#555" stroke-width="0.8" />
<text x="87.0" y="771.2" font-size="4.2" text-anchor="middle" fill="#777" >10</text>
<line x1="106.35" y1="765.2" x2="106.35" y2="766.7" stroke="#555" stroke-width="0.8" />
<text x="106.35" y="771.2" font-size="4.2" text-anchor="middle" fill="#777" >10</text>
<line x1="125.7" y1="765.2" x2="125.7" y2="766.7" stroke="#555" stroke-width="0.8" />
<text x="125.7" y="771.2" font-size="4.2" text-anchor="middle" fill="#777" >10</text>
<line x1="46.8" y1="765.2" x2="48.3" y2="765.2" stroke="#555" stroke-width="0.8" />
<line x1="46.8" y1="755.25" x2="48.3" y2="755.25" stroke="#555" stroke-width="0.8" />
<line x1="46.8" y1="745.3" x2="48.3" y2="745.3" stroke="#555" stroke-width="0.8" />
<line x1="46.8" y1="735.35" x2="48.3" y2="735.35" stroke="#555" stroke-width="0.8" />
<line x1="46.8" y1="725.4" x2="48.3" y2="725.4" stroke="#555" stroke-width="0.8" />
<text x="87.0" y="775.2" font-size="3.8" text-anchor="middle" fill="#888" >FL2-H</text>
<text transform="translate(44.3,745.3) rotate(-90)" font-size="3.8" text-anchor="middle" fill="#888" >Counts</text>
<text x="74" y="671.6" font-size="3.6" fill="#777" >DN-43-48 dn-003</text>
<text x="104.5" y="697.8" font-size="3.6" fill="#777" >M1</text>
<text x="104.5" y="749.8" font-size="3.6" fill="#777" >M1</text>
<text x="105" y="686.8" font-size="11" font-weight="bold" textLength="12.2" lengthAdjust="spacingAndGlyphs" >25</text>
<text x="105" y="741.1" font-size="11" font-weight="bold" textLength="11.3" lengthAdjust="spacingAndGlyphs" >31</text>
<line x1="88.5" y1="693.7" x2="120.5" y2="693.7" stroke="#333" stroke-width="0.9" />
<line x1="88.5" y1="691.0" x2="88.5" y2="696.4000000000001" stroke="#333" stroke-width="0.9" />
<line x1="120.5" y1="691.0" x2="120.5" y2="696.4000000000001" stroke="#333" stroke-width="0.9" />
<line x1="88.5" y1="745.8" x2="120.5" y2="745.8" stroke="#333" stroke-width="0.9" />
<line x1="88.5" y1="743.0999999999999" x2="88.5" y2="748.5" stroke="#333" stroke-width="0.9" />
<line x1="120.5" y1="743.0999999999999" x2="120.5" y2="748.5" stroke="#333" stroke-width="0.9" />
<text x="1.3" y="693" font-size="12" font-weight="bold" textLength="33.2" lengthAdjust="spacingAndGlyphs" >Ihh+/+</text>
<text x="5.9" y="760.3" font-size="12" font-weight="bold" textLength="28.6" lengthAdjust="spacingAndGlyphs" >Ihh-/-</text>
<line x1="47.8" y1="780.8" x2="70.8" y2="780.8" stroke="#000" stroke-width="1.8" />
<line x1="99.7" y1="780.8" x2="114" y2="780.8" stroke="#000" stroke-width="1.8" />
<path d="M125.3 781 L112.7 775.4 L112.7 786.8 Z" fill="#000"/>
<text x="68.6" y="800.6" font-size="13" font-weight="bold" textLength="45" lengthAdjust="spacingAndGlyphs" >icTCRβ</text>
<text x="154.9" y="630.3" font-size="20.8" font-weight="bold" >I</text>
<text transform="translate(205,662.80) scale(0.7,1)" font-size="6" font-weight="bold" text-anchor="end" fill="#555">0.08</text>
<text transform="translate(205,678.17) scale(0.7,1)" font-size="6" font-weight="bold" text-anchor="end" fill="#555">0.07</text>
<text transform="translate(205,693.55) scale(0.7,1)" font-size="6" font-weight="bold" text-anchor="end" fill="#555">0.06</text>
<text transform="translate(205,708.92) scale(0.7,1)" font-size="6" font-weight="bold" text-anchor="end" fill="#555">0.05</text>
<text transform="translate(205,724.30) scale(0.7,1)" font-size="6" font-weight="bold" text-anchor="end" fill="#555">0.04</text>
<text transform="translate(205,739.67) scale(0.7,1)" font-size="6" font-weight="bold" text-anchor="end" fill="#555">0.03</text>
<text transform="translate(205,755.05) scale(0.7,1)" font-size="6" font-weight="bold" text-anchor="end" fill="#555">0.02</text>
<text transform="translate(205,770.42) scale(0.7,1)" font-size="6" font-weight="bold" text-anchor="end" fill="#555">0.01</text>
<text transform="translate(205,785.80) scale(0.7,1)" font-size="6" font-weight="bold" text-anchor="end" fill="#555">0</text>
<line x1="207.4" y1="660.8" x2="207.4" y2="783.8" stroke="#888" stroke-width="1" />
<line x1="207.4" y1="783.8" x2="304.6" y2="783.8" stroke="#555" stroke-width="1" />
<line x1="207" y1="653.8" x2="305" y2="653.8" stroke="#f0f0f0" stroke-width="1" />
<rect x="217.7" y="700.775" width="14.300000000000011" height="83.02499999999998" fill="#333" />
<line x1="224.85" y1="683.09375" x2="224.85" y2="718.45625" stroke="#aaa" stroke-width="1" />
<line x1="223.65" y1="683.09375" x2="226.04999999999998" y2="683.09375" stroke="#aaa" stroke-width="1" />
<line x1="223.65" y1="718.45625" x2="226.04999999999998" y2="718.45625" stroke="#aaa" stroke-width="1" />
<rect x="232" y="751.5124999999999" width="13.400000000000006" height="32.28750000000002" fill="#fff" stroke="#bbb" stroke-width="1" />
<line x1="238.7" y1="742.2874999999999" x2="238.7" y2="760.7375" stroke="#aaa" stroke-width="1" />
<line x1="237.5" y1="742.2874999999999" x2="239.89999999999998" y2="742.2874999999999" stroke="#aaa" stroke-width="1" />
<line x1="237.5" y1="760.7375" x2="239.89999999999998" y2="760.7375" stroke="#aaa" stroke-width="1" />
<rect x="266.5" y="673.0999999999999" width="13.5" height="110.70000000000005" fill="#333" />
<line x1="273.25" y1="670.0249999999999" x2="273.25" y2="676.175" stroke="#aaa" stroke-width="1" />
<line x1="272.05" y1="670.0249999999999" x2="274.45" y2="670.0249999999999" stroke="#aaa" stroke-width="1" />
<line x1="272.05" y1="676.175" x2="274.45" y2="676.175" stroke="#aaa" stroke-width="1" />
<rect x="280.8" y="723.8375" width="13.800000000000011" height="59.96249999999998" fill="#fff" stroke="#bbb" stroke-width="1" />
<line x1="287.70000000000005" y1="722.3" x2="287.70000000000005" y2="725.375" stroke="#aaa" stroke-width="1" />
<line x1="286.50000000000006" y1="722.3" x2="288.90000000000003" y2="722.3" stroke="#aaa" stroke-width="1" />
<line x1="286.50000000000006" y1="725.375" x2="288.90000000000003" y2="725.375" stroke="#aaa" stroke-width="1" />
<text transform="translate(173.5,716.75) rotate(-90)" font-size="11.6" font-weight="bold" text-anchor="middle" textLength="122.7" lengthAdjust="spacingAndGlyphs" >Vβ8.2 and Vβ5.1 to Jβ2</text>
<text transform="translate(187.7,716.9) rotate(-90)" font-size="11.6" font-weight="bold" text-anchor="middle" textLength="80" lengthAdjust="spacingAndGlyphs" >rearrangement</text>
<text x="215.4" y="804.2" font-size="12" font-weight="bold" textLength="37.5" lengthAdjust="spacingAndGlyphs" >Ihh+/+</text>
<text x="268.5" y="804.2" font-size="12" font-weight="bold" textLength="30.5" lengthAdjust="spacingAndGlyphs" >Ihh-/-</text>
<rect x="305" y="706.7" width="3.5" height="5.8" fill="#333" />
<text x="312.5" y="714.8" font-size="10.8" font-weight="bold" textLength="28.3" lengthAdjust="spacingAndGlyphs" >Vβ8.2</text>
<rect x="303.9" y="723.2" width="3.8" height="4" fill="#fff" stroke="#333" stroke-width="0.9" />
<text x="312.5" y="728.8" font-size="10.8" font-weight="bold" textLength="27.7" lengthAdjust="spacingAndGlyphs" >Vβ5.1</text>
<text x="333.6" y="629.2" font-size="20.8" font-weight="bold" >J</text>
<line x1="392" y1="652.7" x2="394" y2="652.7" stroke="#777" stroke-width="0.8" />
<text transform="translate(392,655.30) scale(0.75,1)" font-size="7.5" text-anchor="end" fill="#444">1.2</text>
<line x1="392" y1="674.2333333333333" x2="394" y2="674.2333333333333" stroke="#777" stroke-width="0.8" />
<text transform="translate(392,676.83) scale(0.75,1)" font-size="7.5" text-anchor="end" fill="#444">1</text>
<line x1="392" y1="695.7666666666667" x2="394" y2="695.7666666666667" stroke="#777" stroke-width="0.8" />
<text transform="translate(392,698.37) scale(0.75,1)" font-size="7.5" text-anchor="end" fill="#444">0.8</text>
<line x1="392" y1="717.3" x2="394" y2="717.3" stroke="#777" stroke-width="0.8" />
<text transform="translate(392,719.90) scale(0.75,1)" font-size="7.5" text-anchor="end" fill="#444">0.6</text>
<line x1="392" y1="738.8333333333334" x2="394" y2="738.8333333333334" stroke="#777" stroke-width="0.8" />
<text transform="translate(392,741.43) scale(0.75,1)" font-size="7.5" text-anchor="end" fill="#444">0.4</text>
<line x1="392" y1="760.3666666666667" x2="394" y2="760.3666666666667" stroke="#777" stroke-width="0.8" />
<text transform="translate(392,762.97) scale(0.75,1)" font-size="7.5" text-anchor="end" fill="#444">0.2</text>
<line x1="392" y1="781.9" x2="394" y2="781.9" stroke="#777" stroke-width="0.8" />
<text transform="translate(392,784.50) scale(0.75,1)" font-size="7.5" text-anchor="end" fill="#444">0</text>
<line x1="394" y1="652.7" x2="394" y2="781.9" stroke="#777" stroke-width="1" />
<line x1="394" y1="781.9" x2="492.6" y2="781.9" stroke="#777" stroke-width="1" />
<rect x="409.3" y="674.2333333333333" width="20.099999999999966" height="107.66666666666663" fill="#808080" />
<line x1="419.35" y1="663.4666666666667" x2="419.35" y2="685.0" stroke="#bbb" stroke-width="1" />
<line x1="418.15000000000003" y1="663.4666666666667" x2="420.55" y2="663.4666666666667" stroke="#bbb" stroke-width="1" />
<line x1="418.15000000000003" y1="685.0" x2="420.55" y2="685.0" stroke="#bbb" stroke-width="1" />
<rect x="458.6" y="677.4633333333334" width="20.399999999999977" height="104.43666666666661" fill="#808080" />
<line x1="468.8" y1="675.3100000000001" x2="468.8" y2="679.6166666666667" stroke="#bbb" stroke-width="1" />
<line x1="467.6" y1="675.3100000000001" x2="470.0" y2="675.3100000000001" stroke="#bbb" stroke-width="1" />
<line x1="467.6" y1="679.6166666666667" x2="470.0" y2="679.6166666666667" stroke="#bbb" stroke-width="1" />
<text transform="translate(364.1,695.75) rotate(-90)" font-size="11.6" font-weight="bold" text-anchor="middle" textLength="154.7" lengthAdjust="spacingAndGlyphs" >% cells in S+G2/M relative to</text>
<text transform="translate(377.5,695.45) rotate(-90)" font-size="11.6" font-weight="bold" text-anchor="middle" textLength="64.1" lengthAdjust="spacingAndGlyphs" >mean of WT</text>
<text x="401.2" y="803.3" font-size="12" font-weight="bold" textLength="38.4" lengthAdjust="spacingAndGlyphs" >Ihh+/+</text>
<text x="459.7" y="803.3" font-size="12" font-weight="bold" textLength="31.1" lengthAdjust="spacingAndGlyphs" >Ihh-/-</text>
</svg>
</body></html>
